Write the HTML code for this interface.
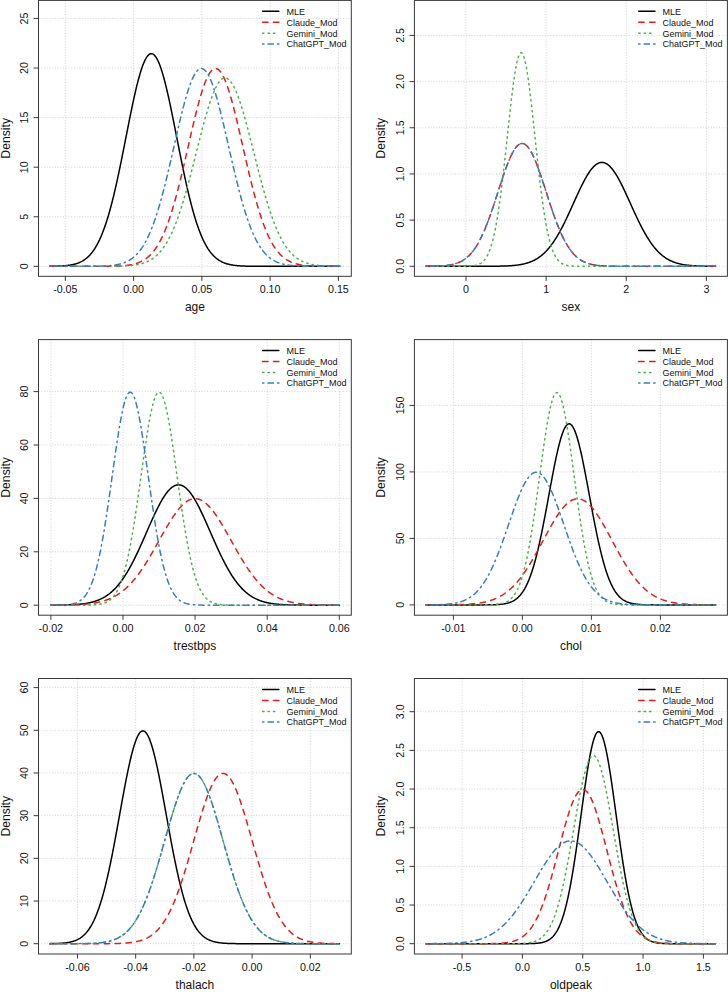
<!DOCTYPE html>
<html><head><meta charset="utf-8"><style>
html,body{margin:0;padding:0;background:#fff;}
svg{display:block;}
text{font-family:"Liberation Sans",sans-serif;fill:#111;}
</style></head><body>
<svg width="728" height="992" viewBox="0 0 728 992">
<rect width="728" height="992" fill="#fff"/>
<path d="M65.34 0.40V276.30M133.60 0.40V276.30M201.86 0.40V276.30M270.12 0.40V276.30M338.38 0.40V276.30M38.50 266.35H351.30M38.50 216.77H351.30M38.50 167.19H351.30M38.50 117.61H351.30M38.50 68.03H351.30M38.50 18.45H351.30" stroke="#c8c8c8" stroke-width="0.8" stroke-dasharray="1.0 1.72" fill="none"/>
<polyline points="49.78,266.28 50.26,266.27 50.74,266.27 51.23,266.26 51.71,266.25 52.20,266.25 52.68,266.24 53.17,266.23 53.65,266.22 54.13,266.21 54.62,266.20 55.10,266.19 55.59,266.18 56.07,266.16 56.55,266.15 57.04,266.14 57.52,266.12 58.01,266.10 58.49,266.08 58.97,266.07 59.46,266.05 59.94,266.02 60.43,266.00 60.91,265.98 61.39,265.95 61.88,265.92 62.36,265.89 62.85,265.86 63.33,265.83 63.82,265.79 64.30,265.75 64.78,265.71 65.27,265.67 65.75,265.63 66.24,265.58 66.72,265.53 67.20,265.47 67.69,265.42 68.17,265.35 68.66,265.29 69.14,265.22 69.62,265.15 70.11,265.08 70.59,265.00 71.08,264.91 71.56,264.82 72.04,264.73 72.53,264.63 73.01,264.53 73.50,264.42 73.98,264.30 74.47,264.18 74.95,264.05 75.43,263.91 75.92,263.77 76.40,263.62 76.89,263.46 77.37,263.30 77.85,263.12 78.34,262.94 78.82,262.75 79.31,262.55 79.79,262.34 80.27,262.12 80.76,261.89 81.24,261.64 81.73,261.39 82.21,261.13 82.69,260.85 83.18,260.56 83.66,260.26 84.15,259.94 84.63,259.61 85.12,259.26 85.60,258.90 86.08,258.53 86.57,258.14 87.05,257.73 87.54,257.31 88.02,256.86 88.50,256.40 88.99,255.92 89.47,255.43 89.96,254.91 90.44,254.37 90.92,253.81 91.41,253.23 91.89,252.63 92.38,252.01 92.86,251.36 93.34,250.69 93.83,250.00 94.31,249.28 94.80,248.54 95.28,247.77 95.77,246.97 96.25,246.15 96.73,245.30 97.22,244.42 97.70,243.52 98.19,242.58 98.67,241.62 99.15,240.63 99.64,239.61 100.12,238.55 100.61,237.47 101.09,236.35 101.57,235.20 102.06,234.02 102.54,232.81 103.03,231.57 103.51,230.29 103.99,228.97 104.48,227.63 104.96,226.25 105.45,224.84 105.93,223.39 106.41,221.91 106.90,220.39 107.38,218.84 107.87,217.25 108.35,215.63 108.84,213.98 109.32,212.29 109.80,210.57 110.29,208.81 110.77,207.02 111.26,205.20 111.74,203.34 112.22,201.45 112.71,199.53 113.19,197.57 113.68,195.59 114.16,193.57 114.64,191.52 115.13,189.45 115.61,187.34 116.10,185.21 116.58,183.05 117.06,180.86 117.55,178.65 118.03,176.41 118.52,174.15 119.00,171.86 119.49,169.56 119.97,167.23 120.45,164.89 120.94,162.53 121.42,160.15 121.91,157.75 122.39,155.35 122.87,152.93 123.36,150.50 123.84,148.06 124.33,145.61 124.81,143.16 125.29,140.71 125.78,138.25 126.26,135.79 126.75,133.33 127.23,130.87 127.71,128.42 128.20,125.98 128.68,123.55 129.17,121.12 129.65,118.71 130.14,116.31 130.62,113.93 131.10,111.57 131.59,109.23 132.07,106.91 132.56,104.61 133.04,102.35 133.52,100.11 134.01,97.90 134.49,95.72 134.98,93.58 135.46,91.47 135.94,89.41 136.43,87.38 136.91,85.40 137.40,83.46 137.88,81.57 138.36,79.73 138.85,77.93 139.33,76.19 139.82,74.50 140.30,72.87 140.79,71.29 141.27,69.78 141.75,68.32 142.24,66.92 142.72,65.59 143.21,64.32 143.69,63.12 144.17,61.99 144.66,60.92 145.14,59.92 145.63,59.00 146.11,58.14 146.59,57.36 147.08,56.65 147.56,56.02 148.05,55.46 148.53,54.97 149.01,54.56 149.50,54.23 149.98,53.97 150.47,53.79 150.95,53.69 151.44,53.67 151.92,53.72 152.40,53.85 152.89,54.06 153.37,54.34 153.86,54.70 154.34,55.14 154.82,55.65 155.31,56.24 155.79,56.90 156.28,57.63 156.76,58.44 157.24,59.32 157.73,60.28 158.21,61.30 158.70,62.39 159.18,63.55 159.66,64.77 160.15,66.07 160.63,67.42 161.12,68.84 161.60,70.32 162.09,71.86 162.57,73.45 163.05,75.11 163.54,76.81 164.02,78.57 164.51,80.39 164.99,82.25 165.47,84.16 165.96,86.11 166.44,88.11 166.93,90.15 167.41,92.23 167.89,94.35 168.38,96.50 168.86,98.69 169.35,100.91 169.83,103.16 170.31,105.44 170.80,107.74 171.28,110.07 171.77,112.42 172.25,114.79 172.73,117.18 173.22,119.58 173.70,122.00 174.19,124.43 174.67,126.86 175.16,129.31 175.64,131.76 176.12,134.22 176.61,136.68 177.09,139.14 177.58,141.59 178.06,144.05 178.54,146.50 179.03,148.94 179.51,151.38 180.00,153.80 180.48,156.22 180.96,158.62 181.45,161.01 181.93,163.38 182.42,165.74 182.90,168.08 183.38,170.39 183.87,172.69 184.35,174.97 184.84,177.22 185.32,179.45 185.81,181.65 186.29,183.83 186.77,185.98 187.26,188.10 187.74,190.20 188.23,192.27 188.71,194.30 189.19,196.31 189.68,198.28 190.16,200.23 190.65,202.14 191.13,204.01 191.61,205.86 192.10,207.67 192.58,209.45 193.07,211.19 193.55,212.90 194.03,214.58 194.52,216.22 195.00,217.83 195.49,219.40 195.97,220.94 196.46,222.45 196.94,223.92 197.42,225.35 197.91,226.75 198.39,228.12 198.88,229.45 199.36,230.75 199.84,232.02 200.33,233.25 200.81,234.45 201.30,235.62 201.78,236.76 202.26,237.86 202.75,238.94 203.23,239.98 203.72,240.99 204.20,241.97 204.68,242.93 205.17,243.85 205.65,244.74 206.14,245.61 206.62,246.45 207.11,247.26 207.59,248.05 208.07,248.81 208.56,249.54 209.04,250.25 209.53,250.94 210.01,251.60 210.49,252.24 210.98,252.85 211.46,253.45 211.95,254.02 212.43,254.57 212.91,255.10 213.40,255.61 213.88,256.10 214.37,256.57 214.85,257.02 215.33,257.46 215.82,257.88 216.30,258.28 216.79,258.67 217.27,259.04 217.76,259.39 218.24,259.73 218.72,260.06 219.21,260.37 219.69,260.67 220.18,260.95 220.66,261.22 221.14,261.48 221.63,261.73 222.11,261.97 222.60,262.20 223.08,262.42 223.56,262.62 224.05,262.82 224.53,263.01 225.02,263.19 225.50,263.36 225.98,263.52 226.47,263.68 226.95,263.82 227.44,263.96 227.92,264.10 228.41,264.22 228.89,264.34 229.37,264.46 229.86,264.56 230.34,264.67 230.83,264.76 231.31,264.86 231.79,264.94 232.28,265.03 232.76,265.10 233.25,265.18 233.73,265.25 234.21,265.31 234.70,265.38 235.18,265.44 235.67,265.49 236.15,265.54 236.63,265.59 237.12,265.64 237.60,265.69 238.09,265.73 238.57,265.77 239.05,265.80 239.54,265.84 240.02,265.87 240.51,265.90 240.99,265.93 241.48,265.96 241.96,265.98 242.44,266.01 242.93,266.03 243.41,266.05 243.90,266.07 244.38,266.09 244.86,266.11 245.35,266.13 245.83,266.14 246.32,266.15 246.80,266.17 247.28,266.18 247.77,266.19 248.25,266.20 248.74,266.21 249.22,266.22 249.70,266.23 250.19,266.24 250.67,266.25 251.16,266.26 251.64,266.26 252.13,266.27 252.61,266.28 253.09,266.28 253.58,266.29 254.06,266.29 254.55,266.29 255.03,266.30 255.51,266.30 256.00,266.31 256.48,266.31 256.97,266.31 257.45,266.32 257.93,266.32 258.42,266.32 258.90,266.32 259.39,266.33 259.87,266.33 260.35,266.33 260.84,266.33 261.32,266.33 261.81,266.33 262.29,266.33 262.78,266.34 263.26,266.34 263.74,266.34 264.23,266.34 264.71,266.34 265.20,266.34 265.68,266.34 266.16,266.34 266.65,266.34 267.13,266.34 267.62,266.34 268.10,266.34 268.58,266.34 269.07,266.35 269.55,266.35 270.04,266.35 270.52,266.35 271.00,266.35 271.49,266.35 271.97,266.35 272.46,266.35 272.94,266.35 273.43,266.35 273.91,266.35 274.39,266.35 274.88,266.35 275.36,266.35 275.85,266.35 276.33,266.35 276.81,266.35 277.30,266.35 277.78,266.35 278.27,266.35 278.75,266.35 279.23,266.35 279.72,266.35 280.20,266.35 280.69,266.35 281.17,266.35 281.65,266.35 282.14,266.35 282.62,266.35 283.11,266.35 283.59,266.35 284.08,266.35 284.56,266.35 285.04,266.35 285.53,266.35 286.01,266.35 286.50,266.35 286.98,266.35 287.46,266.35 287.95,266.35 288.43,266.35 288.92,266.35 289.40,266.35 289.88,266.35 290.37,266.35 290.85,266.35 291.34,266.35 291.82,266.35 292.30,266.35 292.79,266.35 293.27,266.35 293.76,266.35 294.24,266.35 294.73,266.35 295.21,266.35 295.69,266.35 296.18,266.35 296.66,266.35 297.15,266.35 297.63,266.35 298.11,266.35 298.60,266.35 299.08,266.35 299.57,266.35 300.05,266.35 300.53,266.35 301.02,266.35 301.50,266.35 301.99,266.35 302.47,266.35 302.95,266.35 303.44,266.35 303.92,266.35 304.41,266.35 304.89,266.35 305.37,266.35 305.86,266.35 306.34,266.35 306.83,266.35 307.31,266.35 307.80,266.35 308.28,266.35 308.76,266.35 309.25,266.35 309.73,266.35 310.22,266.35 310.70,266.35 311.18,266.35 311.67,266.35 312.15,266.35 312.64,266.35 313.12,266.35 313.60,266.35 314.09,266.35 314.57,266.35 315.06,266.35 315.54,266.35 316.02,266.35 316.51,266.35 316.99,266.35 317.48,266.35 317.96,266.35 318.45,266.35 318.93,266.35 319.41,266.35 319.90,266.35 320.38,266.35 320.87,266.35 321.35,266.35 321.83,266.35 322.32,266.35 322.80,266.35 323.29,266.35 323.77,266.35 324.25,266.35 324.74,266.35 325.22,266.35 325.71,266.35 326.19,266.35 326.67,266.35 327.16,266.35 327.64,266.35 328.13,266.35 328.61,266.35 329.10,266.35 329.58,266.35 330.06,266.35 330.55,266.35 331.03,266.35 331.52,266.35 332.00,266.35 332.48,266.35 332.97,266.35 333.45,266.35 333.94,266.35 334.42,266.35 334.90,266.35 335.39,266.35 335.87,266.35 336.36,266.35 336.84,266.35 337.32,266.35 337.81,266.35 338.29,266.35 338.78,266.35 339.26,266.35 339.75,266.35" fill="none" stroke="#000000" stroke-width="1.5" stroke-linecap="round" stroke-linejoin="round"/>
<polyline points="49.78,266.35 50.26,266.35 50.74,266.35 51.23,266.35 51.71,266.35 52.20,266.35 52.68,266.35 53.17,266.35 53.65,266.35 54.13,266.35 54.62,266.35 55.10,266.35 55.59,266.35 56.07,266.35 56.55,266.35 57.04,266.35 57.52,266.35 58.01,266.35 58.49,266.35 58.97,266.35 59.46,266.35 59.94,266.35 60.43,266.35 60.91,266.35 61.39,266.35 61.88,266.35 62.36,266.35 62.85,266.35 63.33,266.35 63.82,266.35 64.30,266.35 64.78,266.35 65.27,266.35 65.75,266.35 66.24,266.35 66.72,266.35 67.20,266.35 67.69,266.35 68.17,266.35 68.66,266.35 69.14,266.35 69.62,266.35 70.11,266.35 70.59,266.35 71.08,266.35 71.56,266.35 72.04,266.35 72.53,266.35 73.01,266.35 73.50,266.35 73.98,266.35 74.47,266.35 74.95,266.35 75.43,266.35 75.92,266.35 76.40,266.35 76.89,266.35 77.37,266.35 77.85,266.35 78.34,266.35 78.82,266.35 79.31,266.35 79.79,266.35 80.27,266.35 80.76,266.35 81.24,266.35 81.73,266.35 82.21,266.35 82.69,266.35 83.18,266.35 83.66,266.35 84.15,266.35 84.63,266.35 85.12,266.35 85.60,266.35 86.08,266.35 86.57,266.35 87.05,266.35 87.54,266.35 88.02,266.35 88.50,266.35 88.99,266.35 89.47,266.35 89.96,266.34 90.44,266.34 90.92,266.34 91.41,266.34 91.89,266.34 92.38,266.34 92.86,266.34 93.34,266.34 93.83,266.34 94.31,266.34 94.80,266.34 95.28,266.34 95.77,266.34 96.25,266.34 96.73,266.33 97.22,266.33 97.70,266.33 98.19,266.33 98.67,266.33 99.15,266.33 99.64,266.33 100.12,266.32 100.61,266.32 101.09,266.32 101.57,266.32 102.06,266.31 102.54,266.31 103.03,266.31 103.51,266.31 103.99,266.30 104.48,266.30 104.96,266.30 105.45,266.29 105.93,266.29 106.41,266.28 106.90,266.28 107.38,266.27 107.87,266.27 108.35,266.26 108.84,266.25 109.32,266.25 109.80,266.24 110.29,266.23 110.77,266.22 111.26,266.22 111.74,266.21 112.22,266.20 112.71,266.18 113.19,266.17 113.68,266.16 114.16,266.15 114.64,266.13 115.13,266.12 115.61,266.10 116.10,266.09 116.58,266.07 117.06,266.05 117.55,266.03 118.03,266.01 118.52,265.99 119.00,265.97 119.49,265.94 119.97,265.92 120.45,265.89 120.94,265.86 121.42,265.83 121.91,265.80 122.39,265.76 122.87,265.72 123.36,265.69 123.84,265.64 124.33,265.60 124.81,265.56 125.29,265.51 125.78,265.46 126.26,265.40 126.75,265.35 127.23,265.29 127.71,265.23 128.20,265.16 128.68,265.09 129.17,265.02 129.65,264.94 130.14,264.86 130.62,264.78 131.10,264.69 131.59,264.59 132.07,264.50 132.56,264.39 133.04,264.28 133.52,264.17 134.01,264.05 134.49,263.93 134.98,263.80 135.46,263.66 135.94,263.52 136.43,263.37 136.91,263.21 137.40,263.05 137.88,262.88 138.36,262.70 138.85,262.51 139.33,262.31 139.82,262.11 140.30,261.90 140.79,261.68 141.27,261.44 141.75,261.20 142.24,260.95 142.72,260.69 143.21,260.42 143.69,260.13 144.17,259.84 144.66,259.53 145.14,259.21 145.63,258.87 146.11,258.53 146.59,258.17 147.08,257.80 147.56,257.41 148.05,257.01 148.53,256.59 149.01,256.16 149.50,255.71 149.98,255.25 150.47,254.77 150.95,254.27 151.44,253.75 151.92,253.22 152.40,252.67 152.89,252.10 153.37,251.51 153.86,250.90 154.34,250.27 154.82,249.62 155.31,248.95 155.79,248.26 156.28,247.55 156.76,246.82 157.24,246.06 157.73,245.28 158.21,244.48 158.70,243.65 159.18,242.80 159.66,241.93 160.15,241.03 160.63,240.11 161.12,239.16 161.60,238.19 162.09,237.19 162.57,236.17 163.05,235.11 163.54,234.04 164.02,232.93 164.51,231.80 164.99,230.64 165.47,229.46 165.96,228.25 166.44,227.01 166.93,225.74 167.41,224.44 167.89,223.12 168.38,221.77 168.86,220.39 169.35,218.99 169.83,217.55 170.31,216.09 170.80,214.60 171.28,213.09 171.77,211.54 172.25,209.97 172.73,208.38 173.22,206.75 173.70,205.10 174.19,203.43 174.67,201.73 175.16,200.00 175.64,198.25 176.12,196.48 176.61,194.68 177.09,192.85 177.58,191.01 178.06,189.14 178.54,187.25 179.03,185.35 179.51,183.42 180.00,181.47 180.48,179.50 180.96,177.52 181.45,175.52 181.93,173.50 182.42,171.47 182.90,169.42 183.38,167.36 183.87,165.29 184.35,163.21 184.84,161.12 185.32,159.02 185.81,156.91 186.29,154.80 186.77,152.68 187.26,150.56 187.74,148.43 188.23,146.30 188.71,144.18 189.19,142.05 189.68,139.93 190.16,137.81 190.65,135.70 191.13,133.59 191.61,131.49 192.10,129.41 192.58,127.33 193.07,125.27 193.55,123.22 194.03,121.19 194.52,119.17 195.00,117.17 195.49,115.20 195.97,113.24 196.46,111.31 196.94,109.41 197.42,107.53 197.91,105.68 198.39,103.85 198.88,102.06 199.36,100.31 199.84,98.58 200.33,96.89 200.81,95.24 201.30,93.63 201.78,92.05 202.26,90.52 202.75,89.03 203.23,87.58 203.72,86.18 204.20,84.82 204.68,83.51 205.17,82.25 205.65,81.04 206.14,79.88 206.62,78.77 207.11,77.71 207.59,76.71 208.07,75.76 208.56,74.87 209.04,74.03 209.53,73.25 210.01,72.53 210.49,71.87 210.98,71.26 211.46,70.72 211.95,70.23 212.43,69.81 212.91,69.45 213.40,69.15 213.88,68.91 214.37,68.73 214.85,68.61 215.33,68.56 215.82,68.57 216.30,68.64 216.79,68.77 217.27,68.96 217.76,69.22 218.24,69.54 218.72,69.92 219.21,70.36 219.69,70.86 220.18,71.42 220.66,72.04 221.14,72.72 221.63,73.45 222.11,74.25 222.60,75.10 223.08,76.01 223.56,76.97 224.05,77.99 224.53,79.06 225.02,80.18 225.50,81.36 225.98,82.58 226.47,83.86 226.95,85.18 227.44,86.55 227.92,87.96 228.41,89.42 228.89,90.92 229.37,92.47 229.86,94.05 230.34,95.68 230.83,97.34 231.31,99.04 231.79,100.77 232.28,102.54 232.76,104.34 233.25,106.17 233.73,108.03 234.21,109.91 234.70,111.83 235.18,113.76 235.67,115.72 236.15,117.71 236.63,119.71 237.12,121.73 237.60,123.76 238.09,125.82 238.57,127.88 239.05,129.96 239.54,132.05 240.02,134.15 240.51,136.26 240.99,138.38 241.48,140.50 241.96,142.62 242.44,144.74 242.93,146.87 243.41,149.00 243.90,151.12 244.38,153.25 244.86,155.36 245.35,157.48 245.83,159.58 246.32,161.68 246.80,163.77 247.28,165.85 247.77,167.91 248.25,169.97 248.74,172.01 249.22,174.04 249.70,176.05 250.19,178.05 250.67,180.03 251.16,181.99 251.64,183.93 252.13,185.86 252.61,187.76 253.09,189.64 253.58,191.50 254.06,193.34 254.55,195.16 255.03,196.95 255.51,198.72 256.00,200.47 256.48,202.19 256.97,203.88 257.45,205.55 257.93,207.19 258.42,208.81 258.90,210.40 259.39,211.96 259.87,213.50 260.35,215.00 260.84,216.49 261.32,217.94 261.81,219.37 262.29,220.76 262.78,222.14 263.26,223.48 263.74,224.79 264.23,226.08 264.71,227.34 265.20,228.57 265.68,229.78 266.16,230.96 266.65,232.11 267.13,233.23 267.62,234.33 268.10,235.40 268.58,236.44 269.07,237.46 269.55,238.45 270.04,239.42 270.52,240.36 271.00,241.27 271.49,242.17 271.97,243.03 272.46,243.88 272.94,244.69 273.43,245.49 273.91,246.26 274.39,247.01 274.88,247.74 275.36,248.45 275.85,249.13 276.33,249.80 276.81,250.44 277.30,251.06 277.78,251.67 278.27,252.25 278.75,252.82 279.23,253.36 279.72,253.89 280.20,254.40 280.69,254.90 281.17,255.37 281.65,255.83 282.14,256.28 282.62,256.70 283.11,257.12 283.59,257.51 284.08,257.90 284.56,258.27 285.04,258.62 285.53,258.97 286.01,259.29 286.50,259.61 286.98,259.92 287.46,260.21 287.95,260.49 288.43,260.76 288.92,261.02 289.40,261.27 289.88,261.51 290.37,261.74 290.85,261.96 291.34,262.17 291.82,262.37 292.30,262.56 292.79,262.75 293.27,262.92 293.76,263.09 294.24,263.25 294.73,263.41 295.21,263.56 295.69,263.70 296.18,263.83 296.66,263.96 297.15,264.08 297.63,264.20 298.11,264.31 298.60,264.42 299.08,264.52 299.57,264.62 300.05,264.71 300.53,264.80 301.02,264.88 301.50,264.96 301.99,265.04 302.47,265.11 302.95,265.18 303.44,265.24 303.92,265.30 304.41,265.36 304.89,265.42 305.37,265.47 305.86,265.52 306.34,265.57 306.83,265.61 307.31,265.66 307.80,265.70 308.28,265.73 308.76,265.77 309.25,265.80 309.73,265.84 310.22,265.87 310.70,265.90 311.18,265.92 311.67,265.95 312.15,265.97 312.64,266.00 313.12,266.02 313.60,266.04 314.09,266.06 314.57,266.08 315.06,266.09 315.54,266.11 316.02,266.12 316.51,266.14 316.99,266.15 317.48,266.16 317.96,266.18 318.45,266.19 318.93,266.20 319.41,266.21 319.90,266.22 320.38,266.23 320.87,266.23 321.35,266.24 321.83,266.25 322.32,266.26 322.80,266.26 323.29,266.27 323.77,266.27 324.25,266.28 324.74,266.28 325.22,266.29 325.71,266.29 326.19,266.30 326.67,266.30 327.16,266.30 327.64,266.31 328.13,266.31 328.61,266.31 329.10,266.32 329.58,266.32 330.06,266.32 330.55,266.32 331.03,266.32 331.52,266.33 332.00,266.33 332.48,266.33 332.97,266.33 333.45,266.33 333.94,266.33 334.42,266.33 334.90,266.34 335.39,266.34 335.87,266.34 336.36,266.34 336.84,266.34 337.32,266.34 337.81,266.34 338.29,266.34 338.78,266.34 339.26,266.34 339.75,266.34" fill="none" stroke="#E41A1C" stroke-width="1.5" stroke-linecap="round" stroke-linejoin="round" stroke-dasharray="5.44 5.44"/>
<polyline points="49.78,266.35 50.26,266.35 50.74,266.35 51.23,266.35 51.71,266.35 52.20,266.35 52.68,266.35 53.17,266.35 53.65,266.35 54.13,266.35 54.62,266.35 55.10,266.35 55.59,266.35 56.07,266.35 56.55,266.35 57.04,266.35 57.52,266.35 58.01,266.35 58.49,266.35 58.97,266.35 59.46,266.35 59.94,266.35 60.43,266.35 60.91,266.35 61.39,266.35 61.88,266.35 62.36,266.35 62.85,266.35 63.33,266.35 63.82,266.35 64.30,266.35 64.78,266.35 65.27,266.35 65.75,266.35 66.24,266.35 66.72,266.35 67.20,266.35 67.69,266.35 68.17,266.35 68.66,266.35 69.14,266.35 69.62,266.35 70.11,266.35 70.59,266.35 71.08,266.35 71.56,266.35 72.04,266.35 72.53,266.35 73.01,266.35 73.50,266.35 73.98,266.35 74.47,266.35 74.95,266.35 75.43,266.35 75.92,266.35 76.40,266.35 76.89,266.35 77.37,266.35 77.85,266.35 78.34,266.35 78.82,266.35 79.31,266.35 79.79,266.35 80.27,266.35 80.76,266.35 81.24,266.35 81.73,266.35 82.21,266.35 82.69,266.35 83.18,266.35 83.66,266.35 84.15,266.35 84.63,266.35 85.12,266.35 85.60,266.35 86.08,266.35 86.57,266.35 87.05,266.35 87.54,266.35 88.02,266.35 88.50,266.35 88.99,266.35 89.47,266.35 89.96,266.35 90.44,266.35 90.92,266.35 91.41,266.35 91.89,266.35 92.38,266.35 92.86,266.35 93.34,266.35 93.83,266.34 94.31,266.34 94.80,266.34 95.28,266.34 95.77,266.34 96.25,266.34 96.73,266.34 97.22,266.34 97.70,266.34 98.19,266.34 98.67,266.34 99.15,266.34 99.64,266.34 100.12,266.34 100.61,266.33 101.09,266.33 101.57,266.33 102.06,266.33 102.54,266.33 103.03,266.33 103.51,266.33 103.99,266.32 104.48,266.32 104.96,266.32 105.45,266.32 105.93,266.32 106.41,266.31 106.90,266.31 107.38,266.31 107.87,266.31 108.35,266.30 108.84,266.30 109.32,266.30 109.80,266.29 110.29,266.29 110.77,266.28 111.26,266.28 111.74,266.27 112.22,266.27 112.71,266.26 113.19,266.26 113.68,266.25 114.16,266.24 114.64,266.24 115.13,266.23 115.61,266.22 116.10,266.21 116.58,266.20 117.06,266.19 117.55,266.18 118.03,266.17 118.52,266.16 119.00,266.15 119.49,266.14 119.97,266.12 120.45,266.11 120.94,266.09 121.42,266.08 121.91,266.06 122.39,266.04 122.87,266.02 123.36,266.00 123.84,265.98 124.33,265.96 124.81,265.93 125.29,265.91 125.78,265.88 126.26,265.85 126.75,265.82 127.23,265.79 127.71,265.76 128.20,265.72 128.68,265.69 129.17,265.65 129.65,265.61 130.14,265.57 130.62,265.52 131.10,265.47 131.59,265.42 132.07,265.37 132.56,265.32 133.04,265.26 133.52,265.20 134.01,265.14 134.49,265.07 134.98,265.00 135.46,264.93 135.94,264.85 136.43,264.77 136.91,264.68 137.40,264.59 137.88,264.50 138.36,264.40 138.85,264.30 139.33,264.20 139.82,264.09 140.30,263.97 140.79,263.85 141.27,263.72 141.75,263.59 142.24,263.45 142.72,263.31 143.21,263.15 143.69,263.00 144.17,262.83 144.66,262.66 145.14,262.48 145.63,262.30 146.11,262.10 146.59,261.90 147.08,261.69 147.56,261.48 148.05,261.25 148.53,261.01 149.01,260.77 149.50,260.51 149.98,260.25 150.47,259.97 150.95,259.69 151.44,259.39 151.92,259.08 152.40,258.76 152.89,258.43 153.37,258.09 153.86,257.74 154.34,257.37 154.82,256.99 155.31,256.59 155.79,256.19 156.28,255.76 156.76,255.33 157.24,254.88 157.73,254.41 158.21,253.93 158.70,253.43 159.18,252.92 159.66,252.39 160.15,251.84 160.63,251.28 161.12,250.70 161.60,250.10 162.09,249.48 162.57,248.85 163.05,248.20 163.54,247.52 164.02,246.83 164.51,246.12 164.99,245.39 165.47,244.64 165.96,243.86 166.44,243.07 166.93,242.26 167.41,241.42 167.89,240.56 168.38,239.68 168.86,238.78 169.35,237.86 169.83,236.91 170.31,235.94 170.80,234.95 171.28,233.94 171.77,232.90 172.25,231.84 172.73,230.75 173.22,229.64 173.70,228.51 174.19,227.35 174.67,226.17 175.16,224.97 175.64,223.74 176.12,222.48 176.61,221.21 177.09,219.91 177.58,218.58 178.06,217.24 178.54,215.86 179.03,214.47 179.51,213.05 180.00,211.61 180.48,210.14 180.96,208.66 181.45,207.15 181.93,205.61 182.42,204.06 182.90,202.49 183.38,200.89 183.87,199.27 184.35,197.63 184.84,195.98 185.32,194.30 185.81,192.60 186.29,190.89 186.77,189.16 187.26,187.41 187.74,185.64 188.23,183.86 188.71,182.06 189.19,180.25 189.68,178.42 190.16,176.58 190.65,174.73 191.13,172.87 191.61,170.99 192.10,169.11 192.58,167.22 193.07,165.32 193.55,163.41 194.03,161.50 194.52,159.58 195.00,157.65 195.49,155.73 195.97,153.80 196.46,151.87 196.94,149.94 197.42,148.01 197.91,146.09 198.39,144.17 198.88,142.25 199.36,140.34 199.84,138.43 200.33,136.54 200.81,134.65 201.30,132.77 201.78,130.91 202.26,129.06 202.75,127.22 203.23,125.40 203.72,123.60 204.20,121.81 204.68,120.05 205.17,118.30 205.65,116.58 206.14,114.88 206.62,113.20 207.11,111.55 207.59,109.92 208.07,108.33 208.56,106.76 209.04,105.22 209.53,103.72 210.01,102.25 210.49,100.81 210.98,99.40 211.46,98.04 211.95,96.71 212.43,95.42 212.91,94.16 213.40,92.95 213.88,91.78 214.37,90.65 214.85,89.57 215.33,88.52 215.82,87.53 216.30,86.58 216.79,85.67 217.27,84.81 217.76,84.00 218.24,83.24 218.72,82.53 219.21,81.87 219.69,81.26 220.18,80.70 220.66,80.19 221.14,79.73 221.63,79.32 222.11,78.97 222.60,78.67 223.08,78.43 223.56,78.23 224.05,78.09 224.53,78.01 225.02,77.97 225.50,77.99 225.98,78.07 226.47,78.20 226.95,78.38 227.44,78.61 227.92,78.90 228.41,79.24 228.89,79.64 229.37,80.08 229.86,80.58 230.34,81.13 230.83,81.73 231.31,82.38 231.79,83.09 232.28,83.84 232.76,84.64 233.25,85.48 233.73,86.38 234.21,87.32 234.70,88.31 235.18,89.34 235.67,90.41 236.15,91.53 236.63,92.70 237.12,93.90 237.60,95.14 238.09,96.43 238.57,97.75 239.05,99.11 239.54,100.50 240.02,101.93 240.51,103.40 240.99,104.90 241.48,106.43 241.96,107.99 242.44,109.58 242.93,111.20 243.41,112.84 243.90,114.51 244.38,116.21 244.86,117.93 245.35,119.67 245.83,121.43 246.32,123.21 246.80,125.01 247.28,126.83 247.77,128.66 248.25,130.51 248.74,132.37 249.22,134.25 249.70,136.13 250.19,138.03 250.67,139.93 251.16,141.84 251.64,143.75 252.13,145.68 252.61,147.60 253.09,149.53 253.58,151.46 254.06,153.39 254.55,155.31 255.03,157.24 255.51,159.16 256.00,161.08 256.48,163.00 256.97,164.91 257.45,166.81 257.93,168.70 258.42,170.59 258.90,172.47 259.39,174.33 259.87,176.19 260.35,178.03 260.84,179.86 261.32,181.67 261.81,183.47 262.29,185.26 262.78,187.03 263.26,188.78 263.74,190.52 264.23,192.24 264.71,193.94 265.20,195.62 265.68,197.28 266.16,198.92 266.65,200.54 267.13,202.14 267.62,203.72 268.10,205.28 268.58,206.82 269.07,208.33 269.55,209.83 270.04,211.30 270.52,212.74 271.00,214.17 271.49,215.57 271.97,216.94 272.46,218.30 272.94,219.63 273.43,220.93 273.91,222.21 274.39,223.47 274.88,224.70 275.36,225.91 275.85,227.10 276.33,228.26 276.81,229.40 277.30,230.51 277.78,231.60 278.27,232.67 278.75,233.71 279.23,234.73 279.72,235.73 280.20,236.71 280.69,237.66 281.17,238.59 281.65,239.49 282.14,240.38 282.62,241.24 283.11,242.08 283.59,242.90 284.08,243.70 284.56,244.47 285.04,245.23 285.53,245.96 286.01,246.68 286.50,247.38 286.98,248.05 287.46,248.71 287.95,249.35 288.43,249.97 288.92,250.57 289.40,251.16 289.88,251.72 290.37,252.27 290.85,252.81 291.34,253.32 291.82,253.82 292.30,254.31 292.79,254.78 293.27,255.23 293.76,255.67 294.24,256.10 294.73,256.51 295.21,256.90 295.69,257.29 296.18,257.66 296.66,258.02 297.15,258.36 297.63,258.69 298.11,259.02 298.60,259.33 299.08,259.62 299.57,259.91 300.05,260.19 300.53,260.46 301.02,260.71 301.50,260.96 301.99,261.20 302.47,261.43 302.95,261.65 303.44,261.86 303.92,262.06 304.41,262.26 304.89,262.44 305.37,262.62 305.86,262.80 306.34,262.96 306.83,263.12 307.31,263.27 307.80,263.42 308.28,263.56 308.76,263.69 309.25,263.82 309.73,263.94 310.22,264.06 310.70,264.17 311.18,264.28 311.67,264.38 312.15,264.48 312.64,264.58 313.12,264.66 313.60,264.75 314.09,264.83 314.57,264.91 315.06,264.98 315.54,265.05 316.02,265.12 316.51,265.19 316.99,265.25 317.48,265.31 317.96,265.36 318.45,265.41 318.93,265.46 319.41,265.51 319.90,265.56 320.38,265.60 320.87,265.64 321.35,265.68 321.83,265.72 322.32,265.75 322.80,265.79 323.29,265.82 323.77,265.85 324.25,265.88 324.74,265.90 325.22,265.93 325.71,265.95 326.19,265.98 326.67,266.00 327.16,266.02 327.64,266.04 328.13,266.06 328.61,266.07 329.10,266.09 329.58,266.10 330.06,266.12 330.55,266.13 331.03,266.15 331.52,266.16 332.00,266.17 332.48,266.18 332.97,266.19 333.45,266.20 333.94,266.21 334.42,266.22 334.90,266.23 335.39,266.24 335.87,266.24 336.36,266.25 336.84,266.26 337.32,266.26 337.81,266.27 338.29,266.27 338.78,266.28 339.26,266.28 339.75,266.29" fill="none" stroke="#4DAF4A" stroke-width="1.5" stroke-linecap="round" stroke-linejoin="round" stroke-dasharray="1.36 4.08"/>
<polyline points="49.78,266.35 50.26,266.35 50.74,266.35 51.23,266.35 51.71,266.35 52.20,266.35 52.68,266.35 53.17,266.35 53.65,266.35 54.13,266.35 54.62,266.35 55.10,266.35 55.59,266.35 56.07,266.35 56.55,266.35 57.04,266.35 57.52,266.35 58.01,266.35 58.49,266.35 58.97,266.35 59.46,266.35 59.94,266.35 60.43,266.35 60.91,266.35 61.39,266.35 61.88,266.35 62.36,266.35 62.85,266.35 63.33,266.35 63.82,266.35 64.30,266.35 64.78,266.35 65.27,266.35 65.75,266.35 66.24,266.35 66.72,266.35 67.20,266.35 67.69,266.35 68.17,266.35 68.66,266.35 69.14,266.35 69.62,266.35 70.11,266.35 70.59,266.35 71.08,266.35 71.56,266.35 72.04,266.35 72.53,266.35 73.01,266.35 73.50,266.35 73.98,266.35 74.47,266.35 74.95,266.35 75.43,266.35 75.92,266.34 76.40,266.34 76.89,266.34 77.37,266.34 77.85,266.34 78.34,266.34 78.82,266.34 79.31,266.34 79.79,266.34 80.27,266.34 80.76,266.34 81.24,266.34 81.73,266.34 82.21,266.34 82.69,266.33 83.18,266.33 83.66,266.33 84.15,266.33 84.63,266.33 85.12,266.33 85.60,266.33 86.08,266.32 86.57,266.32 87.05,266.32 87.54,266.32 88.02,266.31 88.50,266.31 88.99,266.31 89.47,266.31 89.96,266.30 90.44,266.30 90.92,266.29 91.41,266.29 91.89,266.29 92.38,266.28 92.86,266.28 93.34,266.27 93.83,266.26 94.31,266.26 94.80,266.25 95.28,266.24 95.77,266.24 96.25,266.23 96.73,266.22 97.22,266.21 97.70,266.20 98.19,266.19 98.67,266.18 99.15,266.17 99.64,266.16 100.12,266.14 100.61,266.13 101.09,266.12 101.57,266.10 102.06,266.08 102.54,266.07 103.03,266.05 103.51,266.03 103.99,266.01 104.48,265.98 104.96,265.96 105.45,265.93 105.93,265.91 106.41,265.88 106.90,265.85 107.38,265.82 107.87,265.78 108.35,265.75 108.84,265.71 109.32,265.67 109.80,265.63 110.29,265.59 110.77,265.54 111.26,265.49 111.74,265.44 112.22,265.39 112.71,265.33 113.19,265.27 113.68,265.20 114.16,265.14 114.64,265.07 115.13,264.99 115.61,264.91 116.10,264.83 116.58,264.75 117.06,264.66 117.55,264.56 118.03,264.46 118.52,264.36 119.00,264.25 119.49,264.13 119.97,264.01 120.45,263.89 120.94,263.75 121.42,263.61 121.91,263.47 122.39,263.32 122.87,263.16 123.36,262.99 123.84,262.82 124.33,262.64 124.81,262.45 125.29,262.25 125.78,262.04 126.26,261.83 126.75,261.60 127.23,261.37 127.71,261.12 128.20,260.87 128.68,260.60 129.17,260.32 129.65,260.04 130.14,259.74 130.62,259.42 131.10,259.10 131.59,258.76 132.07,258.41 132.56,258.05 133.04,257.67 133.52,257.28 134.01,256.87 134.49,256.45 134.98,256.01 135.46,255.56 135.94,255.09 136.43,254.60 136.91,254.10 137.40,253.58 137.88,253.04 138.36,252.48 138.85,251.91 139.33,251.31 139.82,250.69 140.30,250.06 140.79,249.40 141.27,248.73 141.75,248.03 142.24,247.31 142.72,246.57 143.21,245.80 143.69,245.02 144.17,244.21 144.66,243.38 145.14,242.52 145.63,241.64 146.11,240.73 146.59,239.80 147.08,238.84 147.56,237.86 148.05,236.85 148.53,235.82 149.01,234.76 149.50,233.68 149.98,232.56 150.47,231.42 150.95,230.26 151.44,229.06 151.92,227.84 152.40,226.59 152.89,225.32 153.37,224.01 153.86,222.68 154.34,221.32 154.82,219.93 155.31,218.52 155.79,217.08 156.28,215.61 156.76,214.11 157.24,212.58 157.73,211.03 158.21,209.45 158.70,207.85 159.18,206.21 159.66,204.55 160.15,202.87 160.63,201.16 161.12,199.43 161.60,197.67 162.09,195.88 162.57,194.08 163.05,192.25 163.54,190.40 164.02,188.52 164.51,186.63 164.99,184.71 165.47,182.78 165.96,180.82 166.44,178.85 166.93,176.86 167.41,174.85 167.89,172.83 168.38,170.80 168.86,168.74 169.35,166.68 169.83,164.61 170.31,162.52 170.80,160.43 171.28,158.33 171.77,156.22 172.25,154.10 172.73,151.98 173.22,149.85 173.70,147.73 174.19,145.60 174.67,143.48 175.16,141.35 175.64,139.23 176.12,137.11 176.61,135.00 177.09,132.90 177.58,130.80 178.06,128.72 178.54,126.65 179.03,124.59 179.51,122.55 180.00,120.52 180.48,118.51 180.96,116.52 181.45,114.55 181.93,112.60 182.42,110.68 182.90,108.78 183.38,106.91 183.87,105.07 184.35,103.26 184.84,101.48 185.32,99.73 185.81,98.02 186.29,96.34 186.77,94.70 187.26,93.10 187.74,91.54 188.23,90.02 188.71,88.54 189.19,87.11 189.68,85.72 190.16,84.38 190.65,83.09 191.13,81.84 191.61,80.65 192.10,79.51 192.58,78.41 193.07,77.37 193.55,76.39 194.03,75.46 194.52,74.59 195.00,73.77 195.49,73.01 195.97,72.31 196.46,71.66 196.94,71.08 197.42,70.55 197.91,70.09 198.39,69.68 198.88,69.34 199.36,69.06 199.84,68.84 200.33,68.68 200.81,68.59 201.30,68.55 201.78,68.58 202.26,68.67 202.75,68.83 203.23,69.04 203.72,69.32 204.20,69.66 204.68,70.06 205.17,70.52 205.65,71.04 206.14,71.62 206.62,72.26 207.11,72.95 207.59,73.71 208.07,74.52 208.56,75.39 209.04,76.32 209.53,77.30 210.01,78.34 210.49,79.42 210.98,80.56 211.46,81.75 211.95,83.00 212.43,84.29 212.91,85.62 213.40,87.01 213.88,88.44 214.37,89.91 214.85,91.43 215.33,92.99 215.82,94.58 216.30,96.22 216.79,97.90 217.27,99.61 217.76,101.35 218.24,103.13 218.72,104.94 219.21,106.78 219.69,108.65 220.18,110.54 220.66,112.46 221.14,114.41 221.63,116.37 222.11,118.36 222.60,120.37 223.08,122.40 223.56,124.44 224.05,126.50 224.53,128.57 225.02,130.65 225.50,132.74 225.98,134.85 226.47,136.96 226.95,139.07 227.44,141.19 227.92,143.32 228.41,145.45 228.89,147.57 229.37,149.70 229.86,151.82 230.34,153.94 230.83,156.06 231.31,158.17 231.79,160.27 232.28,162.37 232.76,164.45 233.25,166.53 233.73,168.59 234.21,170.64 234.70,172.68 235.18,174.71 235.67,176.71 236.15,178.70 236.63,180.68 237.12,182.63 237.60,184.57 238.09,186.49 238.57,188.38 239.05,190.26 239.54,192.11 240.02,193.94 240.51,195.75 240.99,197.54 241.48,199.30 241.96,201.03 242.44,202.75 242.93,204.43 243.41,206.09 243.90,207.73 244.38,209.33 244.86,210.92 245.35,212.47 245.83,214.00 246.32,215.50 246.80,216.97 247.28,218.41 247.77,219.83 248.25,221.22 248.74,222.58 249.22,223.92 249.70,225.22 250.19,226.50 250.67,227.75 251.16,228.97 251.64,230.17 252.13,231.34 252.61,232.48 253.09,233.60 253.58,234.68 254.06,235.74 254.55,236.78 255.03,237.79 255.51,238.77 256.00,239.73 256.48,240.66 256.97,241.57 257.45,242.45 257.93,243.31 258.42,244.15 258.90,244.96 259.39,245.75 259.87,246.51 260.35,247.26 260.84,247.98 261.32,248.68 261.81,249.35 262.29,250.01 262.78,250.65 263.26,251.27 263.74,251.86 264.23,252.44 264.71,253.00 265.20,253.54 265.68,254.06 266.16,254.57 266.65,255.05 267.13,255.53 267.62,255.98 268.10,256.42 268.58,256.84 269.07,257.25 269.55,257.64 270.04,258.02 270.52,258.39 271.00,258.74 271.49,259.08 271.97,259.40 272.46,259.71 272.94,260.01 273.43,260.30 273.91,260.58 274.39,260.85 274.88,261.10 275.36,261.35 275.85,261.58 276.33,261.81 276.81,262.03 277.30,262.23 277.78,262.43 278.27,262.62 278.75,262.80 279.23,262.98 279.72,263.15 280.20,263.31 280.69,263.46 281.17,263.60 281.65,263.74 282.14,263.88 282.62,264.00 283.11,264.12 283.59,264.24 284.08,264.35 284.56,264.45 285.04,264.55 285.53,264.65 286.01,264.74 286.50,264.83 286.98,264.91 287.46,264.99 287.95,265.06 288.43,265.13 288.92,265.20 289.40,265.26 289.88,265.32 290.37,265.38 290.85,265.44 291.34,265.49 291.82,265.54 292.30,265.58 292.79,265.63 293.27,265.67 293.76,265.71 294.24,265.75 294.73,265.78 295.21,265.82 295.69,265.85 296.18,265.88 296.66,265.91 297.15,265.93 297.63,265.96 298.11,265.98 298.60,266.00 299.08,266.02 299.57,266.04 300.05,266.06 300.53,266.08 301.02,266.10 301.50,266.11 301.99,266.13 302.47,266.14 302.95,266.16 303.44,266.17 303.92,266.18 304.41,266.19 304.89,266.20 305.37,266.21 305.86,266.22 306.34,266.23 306.83,266.24 307.31,266.24 307.80,266.25 308.28,266.26 308.76,266.26 309.25,266.27 309.73,266.28 310.22,266.28 310.70,266.29 311.18,266.29 311.67,266.29 312.15,266.30 312.64,266.30 313.12,266.30 313.60,266.31 314.09,266.31 314.57,266.31 315.06,266.32 315.54,266.32 316.02,266.32 316.51,266.32 316.99,266.32 317.48,266.33 317.96,266.33 318.45,266.33 318.93,266.33 319.41,266.33 319.90,266.33 320.38,266.34 320.87,266.34 321.35,266.34 321.83,266.34 322.32,266.34 322.80,266.34 323.29,266.34 323.77,266.34 324.25,266.34 324.74,266.34 325.22,266.34 325.71,266.34 326.19,266.34 326.67,266.34 327.16,266.35 327.64,266.35 328.13,266.35 328.61,266.35 329.10,266.35 329.58,266.35 330.06,266.35 330.55,266.35 331.03,266.35 331.52,266.35 332.00,266.35 332.48,266.35 332.97,266.35 333.45,266.35 333.94,266.35 334.42,266.35 334.90,266.35 335.39,266.35 335.87,266.35 336.36,266.35 336.84,266.35 337.32,266.35 337.81,266.35 338.29,266.35 338.78,266.35 339.26,266.35 339.75,266.35" fill="none" stroke="#377EB8" stroke-width="1.5" stroke-linecap="round" stroke-linejoin="round" stroke-dasharray="1.36 4.08 5.44 4.08"/>
<rect x="38.5" y="0.4" width="312.80" height="275.90" fill="none" stroke="#383838" stroke-width="1"/>
<path d="M65.34 276.30v4.6M133.60 276.30v4.6M201.86 276.30v4.6M270.12 276.30v4.6M338.38 276.30v4.6M38.50 266.35h-4.9M38.50 216.77h-4.9M38.50 167.19h-4.9M38.50 117.61h-4.9M38.50 68.03h-4.9M38.50 18.45h-4.9" stroke="#383838" stroke-width="1" fill="none"/>
<text x="65.34" y="292.90" text-anchor="middle" font-size="10.7">-0.05</text>
<text x="133.60" y="292.90" text-anchor="middle" font-size="10.7">0.00</text>
<text x="201.86" y="292.90" text-anchor="middle" font-size="10.7">0.05</text>
<text x="270.12" y="292.90" text-anchor="middle" font-size="10.7">0.10</text>
<text x="338.38" y="292.90" text-anchor="middle" font-size="10.7">0.15</text>
<text transform="translate(27.80,266.35) rotate(-90)" x="0" y="0" text-anchor="middle" font-size="10.7">0</text>
<text transform="translate(27.80,216.77) rotate(-90)" x="0" y="0" text-anchor="middle" font-size="10.7">5</text>
<text transform="translate(27.80,167.19) rotate(-90)" x="0" y="0" text-anchor="middle" font-size="10.7">10</text>
<text transform="translate(27.80,117.61) rotate(-90)" x="0" y="0" text-anchor="middle" font-size="10.7">15</text>
<text transform="translate(27.80,68.03) rotate(-90)" x="0" y="0" text-anchor="middle" font-size="10.7">20</text>
<text transform="translate(27.80,18.45) rotate(-90)" x="0" y="0" text-anchor="middle" font-size="10.7">25</text>
<text x="194.90" y="310.70" text-anchor="middle" font-size="12.0">age</text>
<text transform="translate(9.50,138.35) rotate(-90)" text-anchor="middle" font-size="12.2">Density</text>
<line x1="262.60" y1="11.30" x2="278.90" y2="11.30" stroke="#000000" stroke-width="1.5" stroke-linecap="round"/>
<text x="286.50" y="14.50" font-size="9.0">MLE</text>
<line x1="262.60" y1="22.30" x2="278.90" y2="22.30" stroke="#E41A1C" stroke-width="1.5" stroke-linecap="round" stroke-dasharray="5.44 5.44"/>
<text x="286.50" y="25.50" font-size="9.0">Claude_Mod</text>
<line x1="262.60" y1="33.30" x2="278.90" y2="33.30" stroke="#4DAF4A" stroke-width="1.5" stroke-linecap="round" stroke-dasharray="1.36 4.08"/>
<text x="286.50" y="36.50" font-size="9.0">Gemini_Mod</text>
<line x1="262.60" y1="43.90" x2="278.90" y2="43.90" stroke="#377EB8" stroke-width="1.5" stroke-linecap="round" stroke-dasharray="1.36 4.08 5.44 4.08"/>
<text x="286.50" y="47.10" font-size="9.0">ChatGPT_Mod</text>
<path d="M466.00 0.40V276.30M546.13 0.40V276.30M626.26 0.40V276.30M706.39 0.40V276.30M414.40 266.30H727.40M414.40 220.12H727.40M414.40 173.94H727.40M414.40 127.76H727.40M414.40 81.58H727.40M414.40 35.40H727.40" stroke="#c8c8c8" stroke-width="0.8" stroke-dasharray="1.0 1.72" fill="none"/>
<polyline points="425.94,266.30 426.42,266.30 426.90,266.30 427.39,266.30 427.87,266.30 428.35,266.30 428.84,266.30 429.32,266.30 429.80,266.30 430.29,266.30 430.77,266.30 431.25,266.30 431.74,266.30 432.22,266.30 432.70,266.30 433.19,266.30 433.67,266.30 434.15,266.30 434.64,266.30 435.12,266.30 435.60,266.30 436.09,266.30 436.57,266.30 437.05,266.30 437.54,266.30 438.02,266.30 438.50,266.30 438.99,266.30 439.47,266.30 439.96,266.30 440.44,266.30 440.92,266.30 441.41,266.30 441.89,266.30 442.37,266.30 442.86,266.30 443.34,266.30 443.82,266.30 444.31,266.30 444.79,266.30 445.27,266.30 445.76,266.30 446.24,266.30 446.72,266.30 447.21,266.30 447.69,266.30 448.17,266.30 448.66,266.30 449.14,266.30 449.62,266.30 450.11,266.30 450.59,266.30 451.07,266.30 451.56,266.30 452.04,266.30 452.53,266.30 453.01,266.30 453.49,266.30 453.98,266.30 454.46,266.30 454.94,266.30 455.43,266.30 455.91,266.30 456.39,266.30 456.88,266.30 457.36,266.30 457.84,266.30 458.33,266.30 458.81,266.30 459.29,266.30 459.78,266.30 460.26,266.30 460.74,266.30 461.23,266.30 461.71,266.30 462.19,266.30 462.68,266.30 463.16,266.30 463.64,266.30 464.13,266.30 464.61,266.30 465.09,266.30 465.58,266.30 466.06,266.30 466.55,266.30 467.03,266.30 467.51,266.30 468.00,266.30 468.48,266.30 468.96,266.30 469.45,266.30 469.93,266.30 470.41,266.30 470.90,266.30 471.38,266.30 471.86,266.30 472.35,266.30 472.83,266.30 473.31,266.30 473.80,266.30 474.28,266.30 474.76,266.30 475.25,266.29 475.73,266.29 476.21,266.29 476.70,266.29 477.18,266.29 477.66,266.29 478.15,266.29 478.63,266.29 479.12,266.29 479.60,266.29 480.08,266.29 480.57,266.29 481.05,266.29 481.53,266.29 482.02,266.29 482.50,266.28 482.98,266.28 483.47,266.28 483.95,266.28 484.43,266.28 484.92,266.28 485.40,266.28 485.88,266.28 486.37,266.27 486.85,266.27 487.33,266.27 487.82,266.27 488.30,266.27 488.78,266.26 489.27,266.26 489.75,266.26 490.23,266.25 490.72,266.25 491.20,266.25 491.68,266.24 492.17,266.24 492.65,266.24 493.14,266.23 493.62,266.23 494.10,266.22 494.59,266.22 495.07,266.21 495.55,266.21 496.04,266.20 496.52,266.19 497.00,266.19 497.49,266.18 497.97,266.17 498.45,266.16 498.94,266.15 499.42,266.14 499.90,266.14 500.39,266.12 500.87,266.11 501.35,266.10 501.84,266.09 502.32,266.08 502.80,266.06 503.29,266.05 503.77,266.03 504.25,266.02 504.74,266.00 505.22,265.98 505.71,265.96 506.19,265.94 506.67,265.92 507.16,265.90 507.64,265.88 508.12,265.85 508.61,265.83 509.09,265.80 509.57,265.77 510.06,265.74 510.54,265.71 511.02,265.68 511.51,265.64 511.99,265.61 512.47,265.57 512.96,265.53 513.44,265.49 513.92,265.44 514.41,265.39 514.89,265.35 515.37,265.30 515.86,265.24 516.34,265.19 516.82,265.13 517.31,265.07 517.79,265.00 518.27,264.94 518.76,264.87 519.24,264.79 519.73,264.72 520.21,264.64 520.69,264.55 521.18,264.47 521.66,264.38 522.14,264.28 522.63,264.18 523.11,264.08 523.59,263.97 524.08,263.86 524.56,263.75 525.04,263.63 525.53,263.50 526.01,263.37 526.49,263.23 526.98,263.09 527.46,262.95 527.94,262.79 528.43,262.64 528.91,262.47 529.39,262.30 529.88,262.12 530.36,261.94 530.84,261.75 531.33,261.55 531.81,261.35 532.30,261.14 532.78,260.92 533.26,260.69 533.75,260.46 534.23,260.21 534.71,259.96 535.20,259.70 535.68,259.43 536.16,259.16 536.65,258.87 537.13,258.58 537.61,258.27 538.10,257.96 538.58,257.63 539.06,257.30 539.55,256.96 540.03,256.60 540.51,256.24 541.00,255.86 541.48,255.48 541.96,255.08 542.45,254.67 542.93,254.25 543.41,253.82 543.90,253.38 544.38,252.92 544.87,252.45 545.35,251.97 545.83,251.48 546.32,250.98 546.80,250.46 547.28,249.93 547.77,249.39 548.25,248.84 548.73,248.27 549.22,247.69 549.70,247.09 550.18,246.49 550.67,245.86 551.15,245.23 551.63,244.58 552.12,243.92 552.60,243.25 553.08,242.56 553.57,241.86 554.05,241.15 554.53,240.42 555.02,239.68 555.50,238.92 555.98,238.15 556.47,237.37 556.95,236.58 557.43,235.77 557.92,234.95 558.40,234.12 558.89,233.28 559.37,232.42 559.85,231.55 560.34,230.67 560.82,229.77 561.30,228.87 561.79,227.95 562.27,227.03 562.75,226.09 563.24,225.14 563.72,224.18 564.20,223.21 564.69,222.23 565.17,221.25 565.65,220.25 566.14,219.25 566.62,218.24 567.10,217.22 567.59,216.19 568.07,215.16 568.55,214.12 569.04,213.07 569.52,212.02 570.00,210.96 570.49,209.91 570.97,208.84 571.46,207.78 571.94,206.71 572.42,205.64 572.91,204.56 573.39,203.49 573.87,202.42 574.36,201.35 574.84,200.28 575.32,199.21 575.81,198.14 576.29,197.07 576.77,196.01 577.26,194.96 577.74,193.91 578.22,192.86 578.71,191.82 579.19,190.79 579.67,189.77 580.16,188.76 580.64,187.75 581.12,186.75 581.61,185.77 582.09,184.80 582.57,183.84 583.06,182.89 583.54,181.95 584.02,181.03 584.51,180.13 584.99,179.24 585.48,178.36 585.96,177.51 586.44,176.67 586.93,175.85 587.41,175.04 587.89,174.26 588.38,173.50 588.86,172.76 589.34,172.04 589.83,171.34 590.31,170.66 590.79,170.01 591.28,169.38 591.76,168.78 592.24,168.20 592.73,167.64 593.21,167.11 593.69,166.61 594.18,166.13 594.66,165.68 595.14,165.26 595.63,164.86 596.11,164.50 596.59,164.16 597.08,163.85 597.56,163.57 598.05,163.31 598.53,163.09 599.01,162.90 599.50,162.73 599.98,162.60 600.46,162.49 600.95,162.42 601.43,162.38 601.91,162.36 602.40,162.38 602.88,162.42 603.36,162.50 603.85,162.60 604.33,162.74 604.81,162.91 605.30,163.10 605.78,163.33 606.26,163.58 606.75,163.86 607.23,164.18 607.71,164.52 608.20,164.88 608.68,165.28 609.16,165.70 609.65,166.16 610.13,166.63 610.61,167.14 611.10,167.67 611.58,168.23 612.07,168.81 612.55,169.41 613.03,170.04 613.52,170.70 614.00,171.37 614.48,172.07 614.97,172.79 615.45,173.54 615.93,174.30 616.42,175.08 616.90,175.89 617.38,176.71 617.87,177.55 618.35,178.41 618.83,179.28 619.32,180.17 619.80,181.08 620.28,182.00 620.77,182.94 621.25,183.88 621.73,184.85 622.22,185.82 622.70,186.81 623.18,187.80 623.67,188.81 624.15,189.82 624.64,190.85 625.12,191.88 625.60,192.92 626.09,193.96 626.57,195.01 627.05,196.07 627.54,197.13 628.02,198.19 628.50,199.26 628.99,200.33 629.47,201.40 629.95,202.47 630.44,203.55 630.92,204.62 631.40,205.69 631.89,206.76 632.37,207.83 632.85,208.90 633.34,209.96 633.82,211.02 634.30,212.07 634.79,213.12 635.27,214.17 635.75,215.21 636.24,216.24 636.72,217.27 637.21,218.29 637.69,219.30 638.17,220.30 638.66,221.30 639.14,222.28 639.62,223.26 640.11,224.23 640.59,225.19 641.07,226.14 641.56,227.07 642.04,228.00 642.52,228.92 643.01,229.82 643.49,230.71 643.97,231.59 644.46,232.46 644.94,233.32 645.42,234.16 645.91,234.99 646.39,235.81 646.87,236.62 647.36,237.41 647.84,238.19 648.32,238.96 648.81,239.71 649.29,240.45 649.77,241.18 650.26,241.90 650.74,242.60 651.23,243.28 651.71,243.96 652.19,244.62 652.68,245.26 653.16,245.90 653.64,246.52 654.13,247.12 654.61,247.72 655.09,248.30 655.58,248.86 656.06,249.42 656.54,249.96 657.03,250.49 657.51,251.00 657.99,251.51 658.48,252.00 658.96,252.48 659.44,252.94 659.93,253.40 660.41,253.84 660.89,254.27 661.38,254.69 661.86,255.10 662.34,255.50 662.83,255.88 663.31,256.26 663.80,256.62 664.28,256.97 664.76,257.32 665.25,257.65 665.73,257.97 666.21,258.29 666.70,258.59 667.18,258.89 667.66,259.17 668.15,259.45 668.63,259.72 669.11,259.98 669.60,260.23 670.08,260.47 670.56,260.70 671.05,260.93 671.53,261.15 672.01,261.36 672.50,261.56 672.98,261.76 673.46,261.95 673.95,262.13 674.43,262.31 674.91,262.48 675.40,262.64 675.88,262.80 676.36,262.95 676.85,263.10 677.33,263.24 677.82,263.38 678.30,263.51 678.78,263.63 679.27,263.75 679.75,263.87 680.23,263.98 680.72,264.09 681.20,264.19 681.68,264.29 682.17,264.38 682.65,264.47 683.13,264.56 683.62,264.64 684.10,264.72 684.58,264.80 685.07,264.87 685.55,264.94 686.03,265.01 686.52,265.07 687.00,265.13 687.48,265.19 687.97,265.24 688.45,265.30 688.93,265.35 689.42,265.40 689.90,265.44 690.39,265.49 690.87,265.53 691.35,265.57 691.84,265.61 692.32,265.64 692.80,265.68 693.29,265.71 693.77,265.74 694.25,265.77 694.74,265.80 695.22,265.83 695.70,265.85 696.19,265.88 696.67,265.90 697.15,265.92 697.64,265.94 698.12,265.96 698.60,265.98 699.09,266.00 699.57,266.02 700.05,266.03 700.54,266.05 701.02,266.06 701.50,266.08 701.99,266.09 702.47,266.10 702.95,266.11 703.44,266.13 703.92,266.14 704.41,266.15 704.89,266.15 705.37,266.16 705.86,266.17 706.34,266.18 706.82,266.19 707.31,266.19 707.79,266.20 708.27,266.21 708.76,266.21 709.24,266.22 709.72,266.22 710.21,266.23 710.69,266.23 711.17,266.24 711.66,266.24 712.14,266.24 712.62,266.25 713.11,266.25 713.59,266.25 714.07,266.26 714.56,266.26 715.04,266.26 715.52,266.27" fill="none" stroke="#000000" stroke-width="1.5" stroke-linecap="round" stroke-linejoin="round"/>
<polyline points="425.94,266.26 426.42,266.26 426.90,266.25 427.39,266.25 427.87,266.24 428.35,266.24 428.84,266.23 429.32,266.23 429.80,266.22 430.29,266.22 430.77,266.21 431.25,266.20 431.74,266.19 432.22,266.19 432.70,266.18 433.19,266.17 433.67,266.16 434.15,266.15 434.64,266.14 435.12,266.12 435.60,266.11 436.09,266.10 436.57,266.08 437.05,266.06 437.54,266.05 438.02,266.03 438.50,266.01 438.99,265.99 439.47,265.97 439.96,265.94 440.44,265.92 440.92,265.89 441.41,265.86 441.89,265.83 442.37,265.80 442.86,265.76 443.34,265.73 443.82,265.69 444.31,265.65 444.79,265.60 445.27,265.56 445.76,265.51 446.24,265.45 446.72,265.40 447.21,265.34 447.69,265.28 448.17,265.21 448.66,265.14 449.14,265.07 449.62,264.99 450.11,264.91 450.59,264.83 451.07,264.74 451.56,264.64 452.04,264.54 452.53,264.43 453.01,264.32 453.49,264.21 453.98,264.08 454.46,263.95 454.94,263.82 455.43,263.67 455.91,263.52 456.39,263.37 456.88,263.20 457.36,263.03 457.84,262.85 458.33,262.66 458.81,262.46 459.29,262.25 459.78,262.03 460.26,261.81 460.74,261.57 461.23,261.32 461.71,261.06 462.19,260.79 462.68,260.51 463.16,260.21 463.64,259.91 464.13,259.59 464.61,259.26 465.09,258.91 465.58,258.55 466.06,258.18 466.55,257.79 467.03,257.39 467.51,256.97 468.00,256.54 468.48,256.09 468.96,255.62 469.45,255.14 469.93,254.64 470.41,254.12 470.90,253.58 471.38,253.03 471.86,252.46 472.35,251.86 472.83,251.25 473.31,250.62 473.80,249.97 474.28,249.30 474.76,248.61 475.25,247.90 475.73,247.17 476.21,246.42 476.70,245.65 477.18,244.85 477.66,244.04 478.15,243.20 478.63,242.34 479.12,241.45 479.60,240.55 480.08,239.62 480.57,238.67 481.05,237.70 481.53,236.71 482.02,235.70 482.50,234.66 482.98,233.60 483.47,232.52 483.95,231.42 484.43,230.29 484.92,229.15 485.40,227.98 485.88,226.80 486.37,225.59 486.85,224.36 487.33,223.12 487.82,221.85 488.30,220.57 488.78,219.27 489.27,217.95 489.75,216.61 490.23,215.26 490.72,213.89 491.20,212.51 491.68,211.11 492.17,209.70 492.65,208.28 493.14,206.84 493.62,205.40 494.10,203.94 494.59,202.48 495.07,201.00 495.55,199.52 496.04,198.04 496.52,196.55 497.00,195.05 497.49,193.56 497.97,192.06 498.45,190.56 498.94,189.06 499.42,187.57 499.90,186.08 500.39,184.59 500.87,183.11 501.35,181.64 501.84,180.17 502.32,178.72 502.80,177.28 503.29,175.85 503.77,174.43 504.25,173.03 504.74,171.65 505.22,170.29 505.71,168.94 506.19,167.62 506.67,166.31 507.16,165.04 507.64,163.78 508.12,162.56 508.61,161.36 509.09,160.19 509.57,159.05 510.06,157.95 510.54,156.87 511.02,155.83 511.51,154.83 511.99,153.86 512.47,152.93 512.96,152.03 513.44,151.18 513.92,150.37 514.41,149.60 514.89,148.87 515.37,148.18 515.86,147.54 516.34,146.94 516.82,146.39 517.31,145.89 517.79,145.43 518.27,145.02 518.76,144.65 519.24,144.34 519.73,144.07 520.21,143.85 520.69,143.69 521.18,143.57 521.66,143.50 522.14,143.48 522.63,143.51 523.11,143.59 523.59,143.72 524.08,143.90 524.56,144.13 525.04,144.40 525.53,144.73 526.01,145.10 526.49,145.52 526.98,145.99 527.46,146.51 527.94,147.07 528.43,147.67 528.91,148.32 529.39,149.02 529.88,149.76 530.36,150.54 530.84,151.36 531.33,152.22 531.81,153.12 532.30,154.06 532.78,155.04 533.26,156.05 533.75,157.10 534.23,158.18 534.71,159.29 535.20,160.44 535.68,161.61 536.16,162.82 536.65,164.05 537.13,165.31 537.61,166.59 538.10,167.90 538.58,169.23 539.06,170.57 539.55,171.94 540.03,173.33 540.51,174.73 541.00,176.15 541.48,177.59 541.96,179.03 542.45,180.49 542.93,181.95 543.41,183.43 543.90,184.91 544.38,186.40 544.87,187.89 545.35,189.38 545.83,190.88 546.32,192.38 546.80,193.88 547.28,195.37 547.77,196.87 548.25,198.36 548.73,199.84 549.22,201.32 549.70,202.79 550.18,204.25 550.67,205.71 551.15,207.15 551.63,208.58 552.12,210.00 552.60,211.41 553.08,212.80 553.57,214.18 554.05,215.55 554.53,216.90 555.02,218.23 555.50,219.55 555.98,220.84 556.47,222.12 556.95,223.38 557.43,224.63 557.92,225.85 558.40,227.05 558.89,228.23 559.37,229.39 559.85,230.53 560.34,231.65 560.82,232.75 561.30,233.83 561.79,234.88 562.27,235.91 562.75,236.92 563.24,237.91 563.72,238.88 564.20,239.82 564.69,240.74 565.17,241.64 565.65,242.52 566.14,243.38 566.62,244.21 567.10,245.02 567.59,245.81 568.07,246.58 568.55,247.33 569.04,248.06 569.52,248.76 570.00,249.45 570.49,250.12 570.97,250.76 571.46,251.39 571.94,251.99 572.42,252.58 572.91,253.15 573.39,253.70 573.87,254.23 574.36,254.74 574.84,255.24 575.32,255.72 575.81,256.18 576.29,256.63 576.77,257.06 577.26,257.47 577.74,257.87 578.22,258.26 578.71,258.63 579.19,258.99 579.67,259.33 580.16,259.66 580.64,259.97 581.12,260.28 581.61,260.57 582.09,260.85 582.57,261.12 583.06,261.37 583.54,261.62 584.02,261.85 584.51,262.08 584.99,262.30 585.48,262.50 585.96,262.70 586.44,262.89 586.93,263.07 587.41,263.24 587.89,263.40 588.38,263.56 588.86,263.71 589.34,263.85 589.83,263.98 590.31,264.11 590.79,264.23 591.28,264.35 591.76,264.46 592.24,264.56 592.73,264.66 593.21,264.76 593.69,264.85 594.18,264.93 594.66,265.01 595.14,265.09 595.63,265.16 596.11,265.23 596.59,265.29 597.08,265.35 597.56,265.41 598.05,265.47 598.53,265.52 599.01,265.57 599.50,265.61 599.98,265.65 600.46,265.70 600.95,265.73 601.43,265.77 601.91,265.80 602.40,265.84 602.88,265.87 603.36,265.90 603.85,265.92 604.33,265.95 604.81,265.97 605.30,265.99 605.78,266.01 606.26,266.03 606.75,266.05 607.23,266.07 607.71,266.08 608.20,266.10 608.68,266.11 609.16,266.13 609.65,266.14 610.13,266.15 610.61,266.16 611.10,266.17 611.58,266.18 612.07,266.19 612.55,266.20 613.03,266.20 613.52,266.21 614.00,266.22 614.48,266.22 614.97,266.23 615.45,266.23 615.93,266.24 616.42,266.24 616.90,266.25 617.38,266.25 617.87,266.26 618.35,266.26 618.83,266.26 619.32,266.27 619.80,266.27 620.28,266.27 620.77,266.27 621.25,266.28 621.73,266.28 622.22,266.28 622.70,266.28 623.18,266.28 623.67,266.28 624.15,266.29 624.64,266.29 625.12,266.29 625.60,266.29 626.09,266.29 626.57,266.29 627.05,266.29 627.54,266.29 628.02,266.29 628.50,266.29 628.99,266.29 629.47,266.29 629.95,266.29 630.44,266.30 630.92,266.30 631.40,266.30 631.89,266.30 632.37,266.30 632.85,266.30 633.34,266.30 633.82,266.30 634.30,266.30 634.79,266.30 635.27,266.30 635.75,266.30 636.24,266.30 636.72,266.30 637.21,266.30 637.69,266.30 638.17,266.30 638.66,266.30 639.14,266.30 639.62,266.30 640.11,266.30 640.59,266.30 641.07,266.30 641.56,266.30 642.04,266.30 642.52,266.30 643.01,266.30 643.49,266.30 643.97,266.30 644.46,266.30 644.94,266.30 645.42,266.30 645.91,266.30 646.39,266.30 646.87,266.30 647.36,266.30 647.84,266.30 648.32,266.30 648.81,266.30 649.29,266.30 649.77,266.30 650.26,266.30 650.74,266.30 651.23,266.30 651.71,266.30 652.19,266.30 652.68,266.30 653.16,266.30 653.64,266.30 654.13,266.30 654.61,266.30 655.09,266.30 655.58,266.30 656.06,266.30 656.54,266.30 657.03,266.30 657.51,266.30 657.99,266.30 658.48,266.30 658.96,266.30 659.44,266.30 659.93,266.30 660.41,266.30 660.89,266.30 661.38,266.30 661.86,266.30 662.34,266.30 662.83,266.30 663.31,266.30 663.80,266.30 664.28,266.30 664.76,266.30 665.25,266.30 665.73,266.30 666.21,266.30 666.70,266.30 667.18,266.30 667.66,266.30 668.15,266.30 668.63,266.30 669.11,266.30 669.60,266.30 670.08,266.30 670.56,266.30 671.05,266.30 671.53,266.30 672.01,266.30 672.50,266.30 672.98,266.30 673.46,266.30 673.95,266.30 674.43,266.30 674.91,266.30 675.40,266.30 675.88,266.30 676.36,266.30 676.85,266.30 677.33,266.30 677.82,266.30 678.30,266.30 678.78,266.30 679.27,266.30 679.75,266.30 680.23,266.30 680.72,266.30 681.20,266.30 681.68,266.30 682.17,266.30 682.65,266.30 683.13,266.30 683.62,266.30 684.10,266.30 684.58,266.30 685.07,266.30 685.55,266.30 686.03,266.30 686.52,266.30 687.00,266.30 687.48,266.30 687.97,266.30 688.45,266.30 688.93,266.30 689.42,266.30 689.90,266.30 690.39,266.30 690.87,266.30 691.35,266.30 691.84,266.30 692.32,266.30 692.80,266.30 693.29,266.30 693.77,266.30 694.25,266.30 694.74,266.30 695.22,266.30 695.70,266.30 696.19,266.30 696.67,266.30 697.15,266.30 697.64,266.30 698.12,266.30 698.60,266.30 699.09,266.30 699.57,266.30 700.05,266.30 700.54,266.30 701.02,266.30 701.50,266.30 701.99,266.30 702.47,266.30 702.95,266.30 703.44,266.30 703.92,266.30 704.41,266.30 704.89,266.30 705.37,266.30 705.86,266.30 706.34,266.30 706.82,266.30 707.31,266.30 707.79,266.30 708.27,266.30 708.76,266.30 709.24,266.30 709.72,266.30 710.21,266.30 710.69,266.30 711.17,266.30 711.66,266.30 712.14,266.30 712.62,266.30 713.11,266.30 713.59,266.30 714.07,266.30 714.56,266.30 715.04,266.30 715.52,266.30" fill="none" stroke="#E41A1C" stroke-width="1.5" stroke-linecap="round" stroke-linejoin="round" stroke-dasharray="5.44 5.44"/>
<polyline points="425.94,266.30 426.42,266.30 426.90,266.30 427.39,266.30 427.87,266.30 428.35,266.30 428.84,266.30 429.32,266.30 429.80,266.30 430.29,266.30 430.77,266.30 431.25,266.30 431.74,266.30 432.22,266.30 432.70,266.30 433.19,266.30 433.67,266.30 434.15,266.30 434.64,266.30 435.12,266.30 435.60,266.30 436.09,266.30 436.57,266.30 437.05,266.30 437.54,266.30 438.02,266.30 438.50,266.30 438.99,266.30 439.47,266.30 439.96,266.30 440.44,266.30 440.92,266.30 441.41,266.30 441.89,266.30 442.37,266.30 442.86,266.30 443.34,266.30 443.82,266.30 444.31,266.30 444.79,266.30 445.27,266.30 445.76,266.30 446.24,266.30 446.72,266.30 447.21,266.30 447.69,266.30 448.17,266.30 448.66,266.30 449.14,266.30 449.62,266.30 450.11,266.30 450.59,266.30 451.07,266.30 451.56,266.30 452.04,266.30 452.53,266.30 453.01,266.30 453.49,266.30 453.98,266.30 454.46,266.30 454.94,266.30 455.43,266.30 455.91,266.30 456.39,266.30 456.88,266.30 457.36,266.29 457.84,266.29 458.33,266.29 458.81,266.29 459.29,266.29 459.78,266.29 460.26,266.29 460.74,266.28 461.23,266.28 461.71,266.28 462.19,266.28 462.68,266.27 463.16,266.27 463.64,266.26 464.13,266.26 464.61,266.25 465.09,266.24 465.58,266.23 466.06,266.22 466.55,266.21 467.03,266.20 467.51,266.18 468.00,266.17 468.48,266.15 468.96,266.13 469.45,266.10 469.93,266.08 470.41,266.05 470.90,266.01 471.38,265.97 471.86,265.93 472.35,265.88 472.83,265.82 473.31,265.76 473.80,265.69 474.28,265.62 474.76,265.53 475.25,265.44 475.73,265.33 476.21,265.21 476.70,265.08 477.18,264.94 477.66,264.78 478.15,264.60 478.63,264.41 479.12,264.19 479.60,263.96 480.08,263.70 480.57,263.42 481.05,263.11 481.53,262.77 482.02,262.40 482.50,262.00 482.98,261.56 483.47,261.08 483.95,260.57 484.43,260.00 484.92,259.39 485.40,258.74 485.88,258.03 486.37,257.26 486.85,256.43 487.33,255.55 487.82,254.59 488.30,253.57 488.78,252.48 489.27,251.31 489.75,250.06 490.23,248.73 490.72,247.31 491.20,245.81 491.68,244.21 492.17,242.51 492.65,240.72 493.14,238.83 493.62,236.83 494.10,234.72 494.59,232.51 495.07,230.18 495.55,227.74 496.04,225.19 496.52,222.52 497.00,219.74 497.49,216.84 497.97,213.82 498.45,210.69 498.94,207.44 499.42,204.08 499.90,200.60 500.39,197.02 500.87,193.33 501.35,189.54 501.84,185.65 502.32,181.67 502.80,177.60 503.29,173.44 503.77,169.21 504.25,164.92 504.74,160.56 505.22,156.15 505.71,151.69 506.19,147.20 506.67,142.69 507.16,138.16 507.64,133.63 508.12,129.11 508.61,124.61 509.09,120.13 509.57,115.70 510.06,111.33 510.54,107.02 511.02,102.80 511.51,98.67 511.99,94.64 512.47,90.73 512.96,86.95 513.44,83.32 513.92,79.84 514.41,76.52 514.89,73.38 515.37,70.43 515.86,67.68 516.34,65.14 516.82,62.81 517.31,60.71 517.79,58.84 518.27,57.20 518.76,55.82 519.24,54.68 519.73,53.80 520.21,53.17 520.69,52.81 521.18,52.70 521.66,52.86 522.14,53.27 522.63,53.95 523.11,54.88 523.59,56.06 524.08,57.50 524.56,59.18 525.04,61.09 525.53,63.24 526.01,65.61 526.49,68.19 526.98,70.98 527.46,73.97 527.94,77.14 528.43,80.49 528.91,84.00 529.39,87.66 529.88,91.47 530.36,95.40 530.84,99.45 531.33,103.60 531.81,107.84 532.30,112.16 532.78,116.55 533.26,120.99 533.75,125.47 534.23,129.98 534.71,134.50 535.20,139.03 535.68,143.56 536.16,148.07 536.65,152.55 537.13,157.00 537.61,161.40 538.10,165.74 538.58,170.03 539.06,174.24 539.55,178.38 540.03,182.44 540.51,186.40 541.00,190.27 541.48,194.04 541.96,197.71 542.45,201.28 542.93,204.73 543.41,208.07 543.90,211.29 544.38,214.41 544.87,217.40 545.35,220.28 545.83,223.04 546.32,225.69 546.80,228.22 547.28,230.64 547.77,232.94 548.25,235.13 548.73,237.22 549.22,239.20 549.70,241.07 550.18,242.85 550.67,244.52 551.15,246.10 551.63,247.59 552.12,248.99 552.60,250.31 553.08,251.54 553.57,252.69 554.05,253.77 554.53,254.78 555.02,255.72 555.50,256.60 555.98,257.41 556.47,258.17 556.95,258.87 557.43,259.52 557.92,260.11 558.40,260.67 558.89,261.18 559.37,261.65 559.85,262.08 560.34,262.48 560.82,262.84 561.30,263.17 561.79,263.48 562.27,263.75 562.75,264.01 563.24,264.24 563.72,264.45 564.20,264.64 564.69,264.81 565.17,264.97 565.65,265.11 566.14,265.24 566.62,265.35 567.10,265.45 567.59,265.55 568.07,265.63 568.55,265.71 569.04,265.77 569.52,265.83 570.00,265.89 570.49,265.94 570.97,265.98 571.46,266.02 571.94,266.05 572.42,266.08 572.91,266.11 573.39,266.13 573.87,266.15 574.36,266.17 574.84,266.19 575.32,266.20 575.81,266.21 576.29,266.23 576.77,266.24 577.26,266.24 577.74,266.25 578.22,266.26 578.71,266.26 579.19,266.27 579.67,266.27 580.16,266.28 580.64,266.28 581.12,266.28 581.61,266.29 582.09,266.29 582.57,266.29 583.06,266.29 583.54,266.29 584.02,266.29 584.51,266.29 584.99,266.30 585.48,266.30 585.96,266.30 586.44,266.30 586.93,266.30 587.41,266.30 587.89,266.30 588.38,266.30 588.86,266.30 589.34,266.30 589.83,266.30 590.31,266.30 590.79,266.30 591.28,266.30 591.76,266.30 592.24,266.30 592.73,266.30 593.21,266.30 593.69,266.30 594.18,266.30 594.66,266.30 595.14,266.30 595.63,266.30 596.11,266.30 596.59,266.30 597.08,266.30 597.56,266.30 598.05,266.30 598.53,266.30 599.01,266.30 599.50,266.30 599.98,266.30 600.46,266.30 600.95,266.30 601.43,266.30 601.91,266.30 602.40,266.30 602.88,266.30 603.36,266.30 603.85,266.30 604.33,266.30 604.81,266.30 605.30,266.30 605.78,266.30 606.26,266.30 606.75,266.30 607.23,266.30 607.71,266.30 608.20,266.30 608.68,266.30 609.16,266.30 609.65,266.30 610.13,266.30 610.61,266.30 611.10,266.30 611.58,266.30 612.07,266.30 612.55,266.30 613.03,266.30 613.52,266.30 614.00,266.30 614.48,266.30 614.97,266.30 615.45,266.30 615.93,266.30 616.42,266.30 616.90,266.30 617.38,266.30 617.87,266.30 618.35,266.30 618.83,266.30 619.32,266.30 619.80,266.30 620.28,266.30 620.77,266.30 621.25,266.30 621.73,266.30 622.22,266.30 622.70,266.30 623.18,266.30 623.67,266.30 624.15,266.30 624.64,266.30 625.12,266.30 625.60,266.30 626.09,266.30 626.57,266.30 627.05,266.30 627.54,266.30 628.02,266.30 628.50,266.30 628.99,266.30 629.47,266.30 629.95,266.30 630.44,266.30 630.92,266.30 631.40,266.30 631.89,266.30 632.37,266.30 632.85,266.30 633.34,266.30 633.82,266.30 634.30,266.30 634.79,266.30 635.27,266.30 635.75,266.30 636.24,266.30 636.72,266.30 637.21,266.30 637.69,266.30 638.17,266.30 638.66,266.30 639.14,266.30 639.62,266.30 640.11,266.30 640.59,266.30 641.07,266.30 641.56,266.30 642.04,266.30 642.52,266.30 643.01,266.30 643.49,266.30 643.97,266.30 644.46,266.30 644.94,266.30 645.42,266.30 645.91,266.30 646.39,266.30 646.87,266.30 647.36,266.30 647.84,266.30 648.32,266.30 648.81,266.30 649.29,266.30 649.77,266.30 650.26,266.30 650.74,266.30 651.23,266.30 651.71,266.30 652.19,266.30 652.68,266.30 653.16,266.30 653.64,266.30 654.13,266.30 654.61,266.30 655.09,266.30 655.58,266.30 656.06,266.30 656.54,266.30 657.03,266.30 657.51,266.30 657.99,266.30 658.48,266.30 658.96,266.30 659.44,266.30 659.93,266.30 660.41,266.30 660.89,266.30 661.38,266.30 661.86,266.30 662.34,266.30 662.83,266.30 663.31,266.30 663.80,266.30 664.28,266.30 664.76,266.30 665.25,266.30 665.73,266.30 666.21,266.30 666.70,266.30 667.18,266.30 667.66,266.30 668.15,266.30 668.63,266.30 669.11,266.30 669.60,266.30 670.08,266.30 670.56,266.30 671.05,266.30 671.53,266.30 672.01,266.30 672.50,266.30 672.98,266.30 673.46,266.30 673.95,266.30 674.43,266.30 674.91,266.30 675.40,266.30 675.88,266.30 676.36,266.30 676.85,266.30 677.33,266.30 677.82,266.30 678.30,266.30 678.78,266.30 679.27,266.30 679.75,266.30 680.23,266.30 680.72,266.30 681.20,266.30 681.68,266.30 682.17,266.30 682.65,266.30 683.13,266.30 683.62,266.30 684.10,266.30 684.58,266.30 685.07,266.30 685.55,266.30 686.03,266.30 686.52,266.30 687.00,266.30 687.48,266.30 687.97,266.30 688.45,266.30 688.93,266.30 689.42,266.30 689.90,266.30 690.39,266.30 690.87,266.30 691.35,266.30 691.84,266.30 692.32,266.30 692.80,266.30 693.29,266.30 693.77,266.30 694.25,266.30 694.74,266.30 695.22,266.30 695.70,266.30 696.19,266.30 696.67,266.30 697.15,266.30 697.64,266.30 698.12,266.30 698.60,266.30 699.09,266.30 699.57,266.30 700.05,266.30 700.54,266.30 701.02,266.30 701.50,266.30 701.99,266.30 702.47,266.30 702.95,266.30 703.44,266.30 703.92,266.30 704.41,266.30 704.89,266.30 705.37,266.30 705.86,266.30 706.34,266.30 706.82,266.30 707.31,266.30 707.79,266.30 708.27,266.30 708.76,266.30 709.24,266.30 709.72,266.30 710.21,266.30 710.69,266.30 711.17,266.30 711.66,266.30 712.14,266.30 712.62,266.30 713.11,266.30 713.59,266.30 714.07,266.30 714.56,266.30 715.04,266.30 715.52,266.30" fill="none" stroke="#4DAF4A" stroke-width="1.5" stroke-linecap="round" stroke-linejoin="round" stroke-dasharray="1.36 4.08"/>
<polyline points="425.94,266.26 426.42,266.26 426.90,266.25 427.39,266.25 427.87,266.24 428.35,266.24 428.84,266.23 429.32,266.23 429.80,266.22 430.29,266.22 430.77,266.21 431.25,266.20 431.74,266.19 432.22,266.19 432.70,266.18 433.19,266.17 433.67,266.16 434.15,266.15 434.64,266.14 435.12,266.12 435.60,266.11 436.09,266.10 436.57,266.08 437.05,266.06 437.54,266.05 438.02,266.03 438.50,266.01 438.99,265.99 439.47,265.97 439.96,265.94 440.44,265.92 440.92,265.89 441.41,265.86 441.89,265.83 442.37,265.80 442.86,265.76 443.34,265.73 443.82,265.69 444.31,265.65 444.79,265.60 445.27,265.56 445.76,265.51 446.24,265.45 446.72,265.40 447.21,265.34 447.69,265.28 448.17,265.21 448.66,265.14 449.14,265.07 449.62,264.99 450.11,264.91 450.59,264.83 451.07,264.74 451.56,264.64 452.04,264.54 452.53,264.43 453.01,264.32 453.49,264.21 453.98,264.08 454.46,263.95 454.94,263.82 455.43,263.67 455.91,263.52 456.39,263.37 456.88,263.20 457.36,263.03 457.84,262.85 458.33,262.66 458.81,262.46 459.29,262.25 459.78,262.03 460.26,261.81 460.74,261.57 461.23,261.32 461.71,261.06 462.19,260.79 462.68,260.51 463.16,260.21 463.64,259.91 464.13,259.59 464.61,259.26 465.09,258.91 465.58,258.55 466.06,258.18 466.55,257.79 467.03,257.39 467.51,256.97 468.00,256.54 468.48,256.09 468.96,255.62 469.45,255.14 469.93,254.64 470.41,254.12 470.90,253.58 471.38,253.03 471.86,252.46 472.35,251.86 472.83,251.25 473.31,250.62 473.80,249.97 474.28,249.30 474.76,248.61 475.25,247.90 475.73,247.17 476.21,246.42 476.70,245.65 477.18,244.85 477.66,244.04 478.15,243.20 478.63,242.34 479.12,241.45 479.60,240.55 480.08,239.62 480.57,238.67 481.05,237.70 481.53,236.71 482.02,235.70 482.50,234.66 482.98,233.60 483.47,232.52 483.95,231.42 484.43,230.29 484.92,229.15 485.40,227.98 485.88,226.80 486.37,225.59 486.85,224.36 487.33,223.12 487.82,221.85 488.30,220.57 488.78,219.27 489.27,217.95 489.75,216.61 490.23,215.26 490.72,213.89 491.20,212.51 491.68,211.11 492.17,209.70 492.65,208.28 493.14,206.84 493.62,205.40 494.10,203.94 494.59,202.48 495.07,201.00 495.55,199.52 496.04,198.04 496.52,196.55 497.00,195.05 497.49,193.56 497.97,192.06 498.45,190.56 498.94,189.06 499.42,187.57 499.90,186.08 500.39,184.59 500.87,183.11 501.35,181.64 501.84,180.17 502.32,178.72 502.80,177.28 503.29,175.85 503.77,174.43 504.25,173.03 504.74,171.65 505.22,170.29 505.71,168.94 506.19,167.62 506.67,166.31 507.16,165.04 507.64,163.78 508.12,162.56 508.61,161.36 509.09,160.19 509.57,159.05 510.06,157.95 510.54,156.87 511.02,155.83 511.51,154.83 511.99,153.86 512.47,152.93 512.96,152.03 513.44,151.18 513.92,150.37 514.41,149.60 514.89,148.87 515.37,148.18 515.86,147.54 516.34,146.94 516.82,146.39 517.31,145.89 517.79,145.43 518.27,145.02 518.76,144.65 519.24,144.34 519.73,144.07 520.21,143.85 520.69,143.69 521.18,143.57 521.66,143.50 522.14,143.48 522.63,143.51 523.11,143.59 523.59,143.72 524.08,143.90 524.56,144.13 525.04,144.40 525.53,144.73 526.01,145.10 526.49,145.52 526.98,145.99 527.46,146.51 527.94,147.07 528.43,147.67 528.91,148.32 529.39,149.02 529.88,149.76 530.36,150.54 530.84,151.36 531.33,152.22 531.81,153.12 532.30,154.06 532.78,155.04 533.26,156.05 533.75,157.10 534.23,158.18 534.71,159.29 535.20,160.44 535.68,161.61 536.16,162.82 536.65,164.05 537.13,165.31 537.61,166.59 538.10,167.90 538.58,169.23 539.06,170.57 539.55,171.94 540.03,173.33 540.51,174.73 541.00,176.15 541.48,177.59 541.96,179.03 542.45,180.49 542.93,181.95 543.41,183.43 543.90,184.91 544.38,186.40 544.87,187.89 545.35,189.38 545.83,190.88 546.32,192.38 546.80,193.88 547.28,195.37 547.77,196.87 548.25,198.36 548.73,199.84 549.22,201.32 549.70,202.79 550.18,204.25 550.67,205.71 551.15,207.15 551.63,208.58 552.12,210.00 552.60,211.41 553.08,212.80 553.57,214.18 554.05,215.55 554.53,216.90 555.02,218.23 555.50,219.55 555.98,220.84 556.47,222.12 556.95,223.38 557.43,224.63 557.92,225.85 558.40,227.05 558.89,228.23 559.37,229.39 559.85,230.53 560.34,231.65 560.82,232.75 561.30,233.83 561.79,234.88 562.27,235.91 562.75,236.92 563.24,237.91 563.72,238.88 564.20,239.82 564.69,240.74 565.17,241.64 565.65,242.52 566.14,243.38 566.62,244.21 567.10,245.02 567.59,245.81 568.07,246.58 568.55,247.33 569.04,248.06 569.52,248.76 570.00,249.45 570.49,250.12 570.97,250.76 571.46,251.39 571.94,251.99 572.42,252.58 572.91,253.15 573.39,253.70 573.87,254.23 574.36,254.74 574.84,255.24 575.32,255.72 575.81,256.18 576.29,256.63 576.77,257.06 577.26,257.47 577.74,257.87 578.22,258.26 578.71,258.63 579.19,258.99 579.67,259.33 580.16,259.66 580.64,259.97 581.12,260.28 581.61,260.57 582.09,260.85 582.57,261.12 583.06,261.37 583.54,261.62 584.02,261.85 584.51,262.08 584.99,262.30 585.48,262.50 585.96,262.70 586.44,262.89 586.93,263.07 587.41,263.24 587.89,263.40 588.38,263.56 588.86,263.71 589.34,263.85 589.83,263.98 590.31,264.11 590.79,264.23 591.28,264.35 591.76,264.46 592.24,264.56 592.73,264.66 593.21,264.76 593.69,264.85 594.18,264.93 594.66,265.01 595.14,265.09 595.63,265.16 596.11,265.23 596.59,265.29 597.08,265.35 597.56,265.41 598.05,265.47 598.53,265.52 599.01,265.57 599.50,265.61 599.98,265.65 600.46,265.70 600.95,265.73 601.43,265.77 601.91,265.80 602.40,265.84 602.88,265.87 603.36,265.90 603.85,265.92 604.33,265.95 604.81,265.97 605.30,265.99 605.78,266.01 606.26,266.03 606.75,266.05 607.23,266.07 607.71,266.08 608.20,266.10 608.68,266.11 609.16,266.13 609.65,266.14 610.13,266.15 610.61,266.16 611.10,266.17 611.58,266.18 612.07,266.19 612.55,266.20 613.03,266.20 613.52,266.21 614.00,266.22 614.48,266.22 614.97,266.23 615.45,266.23 615.93,266.24 616.42,266.24 616.90,266.25 617.38,266.25 617.87,266.26 618.35,266.26 618.83,266.26 619.32,266.27 619.80,266.27 620.28,266.27 620.77,266.27 621.25,266.28 621.73,266.28 622.22,266.28 622.70,266.28 623.18,266.28 623.67,266.28 624.15,266.29 624.64,266.29 625.12,266.29 625.60,266.29 626.09,266.29 626.57,266.29 627.05,266.29 627.54,266.29 628.02,266.29 628.50,266.29 628.99,266.29 629.47,266.29 629.95,266.29 630.44,266.30 630.92,266.30 631.40,266.30 631.89,266.30 632.37,266.30 632.85,266.30 633.34,266.30 633.82,266.30 634.30,266.30 634.79,266.30 635.27,266.30 635.75,266.30 636.24,266.30 636.72,266.30 637.21,266.30 637.69,266.30 638.17,266.30 638.66,266.30 639.14,266.30 639.62,266.30 640.11,266.30 640.59,266.30 641.07,266.30 641.56,266.30 642.04,266.30 642.52,266.30 643.01,266.30 643.49,266.30 643.97,266.30 644.46,266.30 644.94,266.30 645.42,266.30 645.91,266.30 646.39,266.30 646.87,266.30 647.36,266.30 647.84,266.30 648.32,266.30 648.81,266.30 649.29,266.30 649.77,266.30 650.26,266.30 650.74,266.30 651.23,266.30 651.71,266.30 652.19,266.30 652.68,266.30 653.16,266.30 653.64,266.30 654.13,266.30 654.61,266.30 655.09,266.30 655.58,266.30 656.06,266.30 656.54,266.30 657.03,266.30 657.51,266.30 657.99,266.30 658.48,266.30 658.96,266.30 659.44,266.30 659.93,266.30 660.41,266.30 660.89,266.30 661.38,266.30 661.86,266.30 662.34,266.30 662.83,266.30 663.31,266.30 663.80,266.30 664.28,266.30 664.76,266.30 665.25,266.30 665.73,266.30 666.21,266.30 666.70,266.30 667.18,266.30 667.66,266.30 668.15,266.30 668.63,266.30 669.11,266.30 669.60,266.30 670.08,266.30 670.56,266.30 671.05,266.30 671.53,266.30 672.01,266.30 672.50,266.30 672.98,266.30 673.46,266.30 673.95,266.30 674.43,266.30 674.91,266.30 675.40,266.30 675.88,266.30 676.36,266.30 676.85,266.30 677.33,266.30 677.82,266.30 678.30,266.30 678.78,266.30 679.27,266.30 679.75,266.30 680.23,266.30 680.72,266.30 681.20,266.30 681.68,266.30 682.17,266.30 682.65,266.30 683.13,266.30 683.62,266.30 684.10,266.30 684.58,266.30 685.07,266.30 685.55,266.30 686.03,266.30 686.52,266.30 687.00,266.30 687.48,266.30 687.97,266.30 688.45,266.30 688.93,266.30 689.42,266.30 689.90,266.30 690.39,266.30 690.87,266.30 691.35,266.30 691.84,266.30 692.32,266.30 692.80,266.30 693.29,266.30 693.77,266.30 694.25,266.30 694.74,266.30 695.22,266.30 695.70,266.30 696.19,266.30 696.67,266.30 697.15,266.30 697.64,266.30 698.12,266.30 698.60,266.30 699.09,266.30 699.57,266.30 700.05,266.30 700.54,266.30 701.02,266.30 701.50,266.30 701.99,266.30 702.47,266.30 702.95,266.30 703.44,266.30 703.92,266.30 704.41,266.30 704.89,266.30 705.37,266.30 705.86,266.30 706.34,266.30 706.82,266.30 707.31,266.30 707.79,266.30 708.27,266.30 708.76,266.30 709.24,266.30 709.72,266.30 710.21,266.30 710.69,266.30 711.17,266.30 711.66,266.30 712.14,266.30 712.62,266.30 713.11,266.30 713.59,266.30 714.07,266.30 714.56,266.30 715.04,266.30 715.52,266.30" fill="none" stroke="#377EB8" stroke-width="1.5" stroke-linecap="round" stroke-linejoin="round" stroke-dasharray="1.36 4.08 5.44 4.08"/>
<rect x="414.4" y="0.4" width="313.00" height="275.90" fill="none" stroke="#383838" stroke-width="1"/>
<path d="M466.00 276.30v4.6M546.13 276.30v4.6M626.26 276.30v4.6M706.39 276.30v4.6M414.40 266.30h-4.9M414.40 220.12h-4.9M414.40 173.94h-4.9M414.40 127.76h-4.9M414.40 81.58h-4.9M414.40 35.40h-4.9" stroke="#383838" stroke-width="1" fill="none"/>
<text x="466.00" y="292.90" text-anchor="middle" font-size="10.7">0</text>
<text x="546.13" y="292.90" text-anchor="middle" font-size="10.7">1</text>
<text x="626.26" y="292.90" text-anchor="middle" font-size="10.7">2</text>
<text x="706.39" y="292.90" text-anchor="middle" font-size="10.7">3</text>
<text transform="translate(403.70,266.30) rotate(-90)" x="0" y="0" text-anchor="middle" font-size="10.7">0.0</text>
<text transform="translate(403.70,220.12) rotate(-90)" x="0" y="0" text-anchor="middle" font-size="10.7">0.5</text>
<text transform="translate(403.70,173.94) rotate(-90)" x="0" y="0" text-anchor="middle" font-size="10.7">1.0</text>
<text transform="translate(403.70,127.76) rotate(-90)" x="0" y="0" text-anchor="middle" font-size="10.7">1.5</text>
<text transform="translate(403.70,81.58) rotate(-90)" x="0" y="0" text-anchor="middle" font-size="10.7">2.0</text>
<text transform="translate(403.70,35.40) rotate(-90)" x="0" y="0" text-anchor="middle" font-size="10.7">2.5</text>
<text x="570.90" y="310.70" text-anchor="middle" font-size="12.0">sex</text>
<text transform="translate(385.40,138.35) rotate(-90)" text-anchor="middle" font-size="12.2">Density</text>
<line x1="638.70" y1="11.30" x2="655.00" y2="11.30" stroke="#000000" stroke-width="1.5" stroke-linecap="round"/>
<text x="662.60" y="14.50" font-size="9.0">MLE</text>
<line x1="638.70" y1="22.30" x2="655.00" y2="22.30" stroke="#E41A1C" stroke-width="1.5" stroke-linecap="round" stroke-dasharray="5.44 5.44"/>
<text x="662.60" y="25.50" font-size="9.0">Claude_Mod</text>
<line x1="638.70" y1="33.30" x2="655.00" y2="33.30" stroke="#4DAF4A" stroke-width="1.5" stroke-linecap="round" stroke-dasharray="1.36 4.08"/>
<text x="662.60" y="36.50" font-size="9.0">Gemini_Mod</text>
<line x1="638.70" y1="43.90" x2="655.00" y2="43.90" stroke="#377EB8" stroke-width="1.5" stroke-linecap="round" stroke-dasharray="1.36 4.08 5.44 4.08"/>
<text x="662.60" y="47.10" font-size="9.0">ChatGPT_Mod</text>
<path d="M50.90 339.60V615.20M123.00 339.60V615.20M195.10 339.60V615.20M267.20 339.60V615.20M339.30 339.60V615.20M38.50 605.20H351.30M38.50 551.80H351.30M38.50 498.40H351.30M38.50 445.00H351.30M38.50 391.60H351.30" stroke="#c8c8c8" stroke-width="0.8" stroke-dasharray="1.0 1.72" fill="none"/>
<polyline points="50.90,605.16 51.38,605.16 51.86,605.15 52.34,605.15 52.83,605.15 53.31,605.15 53.79,605.14 54.27,605.14 54.75,605.14 55.23,605.13 55.71,605.13 56.20,605.12 56.68,605.12 57.16,605.11 57.64,605.11 58.12,605.10 58.60,605.10 59.08,605.09 59.57,605.08 60.05,605.08 60.53,605.07 61.01,605.06 61.49,605.06 61.97,605.05 62.46,605.04 62.94,605.03 63.42,605.02 63.90,605.01 64.38,605.00 64.86,604.99 65.34,604.98 65.83,604.96 66.31,604.95 66.79,604.94 67.27,604.92 67.75,604.91 68.23,604.89 68.71,604.88 69.20,604.86 69.68,604.84 70.16,604.82 70.64,604.80 71.12,604.78 71.60,604.76 72.08,604.74 72.57,604.72 73.05,604.69 73.53,604.66 74.01,604.64 74.49,604.61 74.97,604.58 75.45,604.55 75.94,604.52 76.42,604.48 76.90,604.45 77.38,604.41 77.86,604.37 78.34,604.33 78.83,604.29 79.31,604.24 79.79,604.20 80.27,604.15 80.75,604.10 81.23,604.05 81.71,603.99 82.20,603.94 82.68,603.88 83.16,603.82 83.64,603.75 84.12,603.69 84.60,603.62 85.08,603.55 85.57,603.47 86.05,603.40 86.53,603.32 87.01,603.23 87.49,603.14 87.97,603.05 88.45,602.96 88.94,602.86 89.42,602.76 89.90,602.66 90.38,602.55 90.86,602.44 91.34,602.32 91.82,602.20 92.31,602.07 92.79,601.94 93.27,601.81 93.75,601.67 94.23,601.53 94.71,601.38 95.20,601.22 95.68,601.06 96.16,600.90 96.64,600.73 97.12,600.55 97.60,600.37 98.08,600.18 98.57,599.99 99.05,599.79 99.53,599.58 100.01,599.37 100.49,599.15 100.97,598.92 101.45,598.69 101.94,598.45 102.42,598.20 102.90,597.95 103.38,597.68 103.86,597.41 104.34,597.13 104.82,596.84 105.31,596.55 105.79,596.25 106.27,595.93 106.75,595.61 107.23,595.28 107.71,594.94 108.19,594.60 108.68,594.24 109.16,593.87 109.64,593.49 110.12,593.11 110.60,592.71 111.08,592.31 111.57,591.89 112.05,591.46 112.53,591.03 113.01,590.58 113.49,590.12 113.97,589.65 114.45,589.17 114.94,588.68 115.42,588.18 115.90,587.66 116.38,587.14 116.86,586.60 117.34,586.05 117.82,585.49 118.31,584.92 118.79,584.34 119.27,583.74 119.75,583.13 120.23,582.51 120.71,581.88 121.19,581.24 121.68,580.58 122.16,579.92 122.64,579.24 123.12,578.54 123.60,577.84 124.08,577.12 124.56,576.39 125.05,575.65 125.53,574.90 126.01,574.13 126.49,573.35 126.97,572.57 127.45,571.76 127.94,570.95 128.42,570.12 128.90,569.29 129.38,568.44 129.86,567.58 130.34,566.71 130.82,565.82 131.31,564.93 131.79,564.03 132.27,563.11 132.75,562.18 133.23,561.25 133.71,560.30 134.19,559.35 134.68,558.38 135.16,557.40 135.64,556.42 136.12,555.42 136.60,554.42 137.08,553.41 137.56,552.39 138.05,551.37 138.53,550.33 139.01,549.29 139.49,548.24 139.97,547.19 140.45,546.13 140.93,545.06 141.42,543.99 141.90,542.91 142.38,541.83 142.86,540.75 143.34,539.66 143.82,538.56 144.31,537.47 144.79,536.37 145.27,535.27 145.75,534.17 146.23,533.07 146.71,531.97 147.19,530.87 147.68,529.77 148.16,528.67 148.64,527.57 149.12,526.47 149.60,525.38 150.08,524.29 150.56,523.20 151.05,522.12 151.53,521.05 152.01,519.97 152.49,518.91 152.97,517.85 153.45,516.80 153.93,515.75 154.42,514.72 154.90,513.69 155.38,512.67 155.86,511.67 156.34,510.67 156.82,509.68 157.30,508.71 157.79,507.75 158.27,506.80 158.75,505.86 159.23,504.94 159.71,504.03 160.19,503.14 160.67,502.26 161.16,501.40 161.64,500.56 162.12,499.73 162.60,498.92 163.08,498.13 163.56,497.36 164.05,496.61 164.53,495.87 165.01,495.16 165.49,494.47 165.97,493.80 166.45,493.15 166.93,492.52 167.42,491.91 167.90,491.33 168.38,490.77 168.86,490.23 169.34,489.72 169.82,489.23 170.30,488.76 170.79,488.32 171.27,487.91 171.75,487.52 172.23,487.16 172.71,486.82 173.19,486.51 173.67,486.22 174.16,485.96 174.64,485.73 175.12,485.52 175.60,485.34 176.08,485.19 176.56,485.07 177.04,484.97 177.53,484.90 178.01,484.86 178.49,484.84 178.97,484.85 179.45,484.89 179.93,484.96 180.42,485.05 180.90,485.18 181.38,485.32 181.86,485.50 182.34,485.70 182.82,485.93 183.30,486.19 183.79,486.47 184.27,486.78 184.75,487.12 185.23,487.48 185.71,487.86 186.19,488.27 186.67,488.71 187.16,489.17 187.64,489.66 188.12,490.17 188.60,490.70 189.08,491.26 189.56,491.84 190.04,492.45 190.53,493.07 191.01,493.72 191.49,494.39 191.97,495.08 192.45,495.79 192.93,496.52 193.41,497.27 193.90,498.04 194.38,498.83 194.86,499.64 195.34,500.46 195.82,501.31 196.30,502.16 196.79,503.04 197.27,503.93 197.75,504.84 198.23,505.76 198.71,506.69 199.19,507.64 199.67,508.60 200.16,509.57 200.64,510.56 201.12,511.55 201.60,512.56 202.08,513.57 202.56,514.60 203.04,515.63 203.53,516.68 204.01,517.73 204.49,518.79 204.97,519.85 205.45,520.92 205.93,522.00 206.41,523.08 206.90,524.17 207.38,525.26 207.86,526.35 208.34,527.44 208.82,528.54 209.30,529.64 209.78,530.74 210.27,531.84 210.75,532.95 211.23,534.05 211.71,535.15 212.19,536.25 212.67,537.34 213.16,538.44 213.64,539.53 214.12,540.62 214.60,541.71 215.08,542.79 215.56,543.87 216.04,544.94 216.53,546.00 217.01,547.07 217.49,548.12 217.97,549.17 218.45,550.21 218.93,551.25 219.41,552.27 219.90,553.29 220.38,554.31 220.86,555.31 221.34,556.30 221.82,557.29 222.30,558.27 222.78,559.23 223.27,560.19 223.75,561.14 224.23,562.08 224.71,563.00 225.19,563.92 225.67,564.83 226.15,565.72 226.64,566.61 227.12,567.48 227.60,568.34 228.08,569.19 228.56,570.03 229.04,570.86 229.53,571.67 230.01,572.47 230.49,573.26 230.97,574.04 231.45,574.81 231.93,575.57 232.41,576.31 232.90,577.04 233.38,577.76 233.86,578.46 234.34,579.16 234.82,579.84 235.30,580.51 235.78,581.16 236.27,581.81 236.75,582.44 237.23,583.06 237.71,583.67 238.19,584.27 238.67,584.85 239.15,585.43 239.64,585.99 240.12,586.54 240.60,587.08 241.08,587.60 241.56,588.12 242.04,588.62 242.52,589.11 243.01,589.60 243.49,590.07 243.97,590.53 244.45,590.97 244.93,591.41 245.41,591.84 245.89,592.26 246.38,592.67 246.86,593.06 247.34,593.45 247.82,593.83 248.30,594.20 248.78,594.55 249.27,594.90 249.75,595.24 250.23,595.57 250.71,595.90 251.19,596.21 251.67,596.51 252.15,596.81 252.64,597.10 253.12,597.38 253.60,597.65 254.08,597.92 254.56,598.17 255.04,598.42 255.52,598.66 256.01,598.90 256.49,599.12 256.97,599.35 257.45,599.56 257.93,599.77 258.41,599.97 258.89,600.16 259.38,600.35 259.86,600.53 260.34,600.71 260.82,600.88 261.30,601.05 261.78,601.21 262.26,601.36 262.75,601.51 263.23,601.65 263.71,601.79 264.19,601.93 264.67,602.06 265.15,602.19 265.64,602.31 266.12,602.42 266.60,602.54 267.08,602.65 267.56,602.75 268.04,602.85 268.52,602.95 269.01,603.04 269.49,603.13 269.97,603.22 270.45,603.31 270.93,603.39 271.41,603.46 271.89,603.54 272.38,603.61 272.86,603.68 273.34,603.75 273.82,603.81 274.30,603.87 274.78,603.93 275.26,603.99 275.75,604.04 276.23,604.09 276.71,604.14 277.19,604.19 277.67,604.24 278.15,604.28 278.63,604.32 279.12,604.37 279.60,604.40 280.08,604.44 280.56,604.48 281.04,604.51 281.52,604.54 282.01,604.58 282.49,604.61 282.97,604.63 283.45,604.66 283.93,604.69 284.41,604.71 284.89,604.74 285.38,604.76 285.86,604.78 286.34,604.80 286.82,604.82 287.30,604.84 287.78,604.86 288.26,604.88 288.75,604.89 289.23,604.91 289.71,604.92 290.19,604.94 290.67,604.95 291.15,604.96 291.63,604.98 292.12,604.99 292.60,605.00 293.08,605.01 293.56,605.02 294.04,605.03 294.52,605.04 295.00,605.05 295.49,605.05 295.97,605.06 296.45,605.07 296.93,605.08 297.41,605.08 297.89,605.09 298.38,605.10 298.86,605.10 299.34,605.11 299.82,605.11 300.30,605.12 300.78,605.12 301.26,605.13 301.75,605.13 302.23,605.13 302.71,605.14 303.19,605.14 303.67,605.15 304.15,605.15 304.63,605.15 305.12,605.15 305.60,605.16 306.08,605.16 306.56,605.16 307.04,605.16 307.52,605.17 308.00,605.17 308.49,605.17 308.97,605.17 309.45,605.17 309.93,605.18 310.41,605.18 310.89,605.18 311.37,605.18 311.86,605.18 312.34,605.18 312.82,605.18 313.30,605.18 313.78,605.18 314.26,605.19 314.75,605.19 315.23,605.19 315.71,605.19 316.19,605.19 316.67,605.19 317.15,605.19 317.63,605.19 318.12,605.19 318.60,605.19 319.08,605.19 319.56,605.19 320.04,605.19 320.52,605.19 321.00,605.19 321.49,605.19 321.97,605.20 322.45,605.20 322.93,605.20 323.41,605.20 323.89,605.20 324.37,605.20 324.86,605.20 325.34,605.20 325.82,605.20 326.30,605.20 326.78,605.20 327.26,605.20 327.74,605.20 328.23,605.20 328.71,605.20 329.19,605.20 329.67,605.20 330.15,605.20 330.63,605.20 331.12,605.20 331.60,605.20 332.08,605.20 332.56,605.20 333.04,605.20 333.52,605.20 334.00,605.20 334.49,605.20 334.97,605.20 335.45,605.20 335.93,605.20 336.41,605.20 336.89,605.20 337.37,605.20 337.86,605.20 338.34,605.20 338.82,605.20 339.30,605.20" fill="none" stroke="#000000" stroke-width="1.5" stroke-linecap="round" stroke-linejoin="round"/>
<polyline points="50.90,605.16 51.38,605.16 51.86,605.16 52.34,605.16 52.83,605.16 53.31,605.15 53.79,605.15 54.27,605.15 54.75,605.15 55.23,605.14 55.71,605.14 56.20,605.14 56.68,605.13 57.16,605.13 57.64,605.13 58.12,605.12 58.60,605.12 59.08,605.11 59.57,605.11 60.05,605.10 60.53,605.10 61.01,605.09 61.49,605.09 61.97,605.08 62.46,605.08 62.94,605.07 63.42,605.07 63.90,605.06 64.38,605.05 64.86,605.04 65.34,605.04 65.83,605.03 66.31,605.02 66.79,605.01 67.27,605.00 67.75,604.99 68.23,604.98 68.71,604.97 69.20,604.96 69.68,604.95 70.16,604.94 70.64,604.93 71.12,604.91 71.60,604.90 72.08,604.88 72.57,604.87 73.05,604.85 73.53,604.84 74.01,604.82 74.49,604.80 74.97,604.79 75.45,604.77 75.94,604.75 76.42,604.73 76.90,604.71 77.38,604.68 77.86,604.66 78.34,604.64 78.83,604.61 79.31,604.59 79.79,604.56 80.27,604.53 80.75,604.50 81.23,604.47 81.71,604.44 82.20,604.41 82.68,604.38 83.16,604.34 83.64,604.31 84.12,604.27 84.60,604.23 85.08,604.19 85.57,604.15 86.05,604.10 86.53,604.06 87.01,604.01 87.49,603.96 87.97,603.91 88.45,603.86 88.94,603.81 89.42,603.75 89.90,603.69 90.38,603.63 90.86,603.57 91.34,603.51 91.82,603.44 92.31,603.37 92.79,603.30 93.27,603.23 93.75,603.15 94.23,603.07 94.71,602.99 95.20,602.91 95.68,602.82 96.16,602.74 96.64,602.64 97.12,602.55 97.60,602.45 98.08,602.35 98.57,602.25 99.05,602.14 99.53,602.03 100.01,601.91 100.49,601.80 100.97,601.68 101.45,601.55 101.94,601.42 102.42,601.29 102.90,601.15 103.38,601.01 103.86,600.87 104.34,600.72 104.82,600.57 105.31,600.41 105.79,600.25 106.27,600.08 106.75,599.91 107.23,599.74 107.71,599.56 108.19,599.37 108.68,599.18 109.16,598.99 109.64,598.79 110.12,598.58 110.60,598.37 111.08,598.15 111.57,597.93 112.05,597.70 112.53,597.47 113.01,597.23 113.49,596.98 113.97,596.73 114.45,596.48 114.94,596.21 115.42,595.94 115.90,595.67 116.38,595.38 116.86,595.09 117.34,594.80 117.82,594.49 118.31,594.18 118.79,593.87 119.27,593.54 119.75,593.21 120.23,592.87 120.71,592.53 121.19,592.17 121.68,591.81 122.16,591.45 122.64,591.07 123.12,590.69 123.60,590.30 124.08,589.90 124.56,589.49 125.05,589.08 125.53,588.65 126.01,588.22 126.49,587.79 126.97,587.34 127.45,586.88 127.94,586.42 128.42,585.95 128.90,585.47 129.38,584.98 129.86,584.49 130.34,583.98 130.82,583.47 131.31,582.95 131.79,582.42 132.27,581.88 132.75,581.33 133.23,580.77 133.71,580.21 134.19,579.64 134.68,579.06 135.16,578.47 135.64,577.87 136.12,577.26 136.60,576.65 137.08,576.03 137.56,575.39 138.05,574.75 138.53,574.11 139.01,573.45 139.49,572.79 139.97,572.12 140.45,571.44 140.93,570.75 141.42,570.05 141.90,569.35 142.38,568.64 142.86,567.92 143.34,567.20 143.82,566.47 144.31,565.73 144.79,564.98 145.27,564.23 145.75,563.47 146.23,562.70 146.71,561.93 147.19,561.15 147.68,560.36 148.16,559.57 148.64,558.78 149.12,557.98 149.60,557.17 150.08,556.36 150.56,555.54 151.05,554.72 151.53,553.89 152.01,553.06 152.49,552.23 152.97,551.39 153.45,550.55 153.93,549.70 154.42,548.85 154.90,548.00 155.38,547.15 155.86,546.30 156.34,545.44 156.82,544.58 157.30,543.72 157.79,542.86 158.27,542.00 158.75,541.13 159.23,540.27 159.71,539.41 160.19,538.55 160.67,537.68 161.16,536.82 161.64,535.96 162.12,535.11 162.60,534.25 163.08,533.40 163.56,532.55 164.05,531.70 164.53,530.86 165.01,530.02 165.49,529.18 165.97,528.35 166.45,527.52 166.93,526.70 167.42,525.88 167.90,525.07 168.38,524.27 168.86,523.47 169.34,522.68 169.82,521.90 170.30,521.12 170.79,520.35 171.27,519.59 171.75,518.84 172.23,518.10 172.71,517.36 173.19,516.64 173.67,515.93 174.16,515.22 174.64,514.53 175.12,513.85 175.60,513.18 176.08,512.52 176.56,511.87 177.04,511.24 177.53,510.62 178.01,510.01 178.49,509.41 178.97,508.83 179.45,508.26 179.93,507.70 180.42,507.16 180.90,506.64 181.38,506.13 181.86,505.63 182.34,505.15 182.82,504.68 183.30,504.23 183.79,503.80 184.27,503.38 184.75,502.98 185.23,502.60 185.71,502.23 186.19,501.88 186.67,501.55 187.16,501.24 187.64,500.94 188.12,500.66 188.60,500.40 189.08,500.16 189.56,499.93 190.04,499.72 190.53,499.54 191.01,499.37 191.49,499.22 191.97,499.08 192.45,498.97 192.93,498.87 193.41,498.80 193.90,498.74 194.38,498.70 194.86,498.68 195.34,498.68 195.82,498.70 196.30,498.74 196.79,498.80 197.27,498.87 197.75,498.97 198.23,499.08 198.71,499.22 199.19,499.37 199.67,499.54 200.16,499.72 200.64,499.93 201.12,500.16 201.60,500.40 202.08,500.66 202.56,500.94 203.04,501.24 203.53,501.55 204.01,501.88 204.49,502.23 204.97,502.60 205.45,502.98 205.93,503.38 206.41,503.80 206.90,504.23 207.38,504.68 207.86,505.15 208.34,505.63 208.82,506.13 209.30,506.64 209.78,507.16 210.27,507.70 210.75,508.26 211.23,508.83 211.71,509.41 212.19,510.01 212.67,510.62 213.16,511.24 213.64,511.87 214.12,512.52 214.60,513.18 215.08,513.85 215.56,514.53 216.04,515.22 216.53,515.93 217.01,516.64 217.49,517.36 217.97,518.10 218.45,518.84 218.93,519.59 219.41,520.35 219.90,521.12 220.38,521.90 220.86,522.68 221.34,523.47 221.82,524.27 222.30,525.07 222.78,525.88 223.27,526.70 223.75,527.52 224.23,528.35 224.71,529.18 225.19,530.02 225.67,530.86 226.15,531.70 226.64,532.55 227.12,533.40 227.60,534.25 228.08,535.11 228.56,535.96 229.04,536.82 229.53,537.68 230.01,538.55 230.49,539.41 230.97,540.27 231.45,541.13 231.93,542.00 232.41,542.86 232.90,543.72 233.38,544.58 233.86,545.44 234.34,546.30 234.82,547.15 235.30,548.00 235.78,548.85 236.27,549.70 236.75,550.55 237.23,551.39 237.71,552.23 238.19,553.06 238.67,553.89 239.15,554.72 239.64,555.54 240.12,556.36 240.60,557.17 241.08,557.98 241.56,558.78 242.04,559.57 242.52,560.36 243.01,561.15 243.49,561.93 243.97,562.70 244.45,563.47 244.93,564.23 245.41,564.98 245.89,565.73 246.38,566.47 246.86,567.20 247.34,567.92 247.82,568.64 248.30,569.35 248.78,570.05 249.27,570.75 249.75,571.44 250.23,572.12 250.71,572.79 251.19,573.45 251.67,574.11 252.15,574.75 252.64,575.39 253.12,576.03 253.60,576.65 254.08,577.26 254.56,577.87 255.04,578.47 255.52,579.06 256.01,579.64 256.49,580.21 256.97,580.77 257.45,581.33 257.93,581.88 258.41,582.42 258.89,582.95 259.38,583.47 259.86,583.98 260.34,584.49 260.82,584.98 261.30,585.47 261.78,585.95 262.26,586.42 262.75,586.88 263.23,587.34 263.71,587.79 264.19,588.22 264.67,588.65 265.15,589.08 265.64,589.49 266.12,589.90 266.60,590.30 267.08,590.69 267.56,591.07 268.04,591.45 268.52,591.81 269.01,592.17 269.49,592.53 269.97,592.87 270.45,593.21 270.93,593.54 271.41,593.87 271.89,594.18 272.38,594.49 272.86,594.80 273.34,595.09 273.82,595.38 274.30,595.67 274.78,595.94 275.26,596.21 275.75,596.48 276.23,596.73 276.71,596.98 277.19,597.23 277.67,597.47 278.15,597.70 278.63,597.93 279.12,598.15 279.60,598.37 280.08,598.58 280.56,598.79 281.04,598.99 281.52,599.18 282.01,599.37 282.49,599.56 282.97,599.74 283.45,599.91 283.93,600.08 284.41,600.25 284.89,600.41 285.38,600.57 285.86,600.72 286.34,600.87 286.82,601.01 287.30,601.15 287.78,601.29 288.26,601.42 288.75,601.55 289.23,601.68 289.71,601.80 290.19,601.91 290.67,602.03 291.15,602.14 291.63,602.25 292.12,602.35 292.60,602.45 293.08,602.55 293.56,602.64 294.04,602.74 294.52,602.82 295.00,602.91 295.49,602.99 295.97,603.07 296.45,603.15 296.93,603.23 297.41,603.30 297.89,603.37 298.38,603.44 298.86,603.51 299.34,603.57 299.82,603.63 300.30,603.69 300.78,603.75 301.26,603.81 301.75,603.86 302.23,603.91 302.71,603.96 303.19,604.01 303.67,604.06 304.15,604.10 304.63,604.15 305.12,604.19 305.60,604.23 306.08,604.27 306.56,604.31 307.04,604.34 307.52,604.38 308.00,604.41 308.49,604.44 308.97,604.47 309.45,604.50 309.93,604.53 310.41,604.56 310.89,604.59 311.37,604.61 311.86,604.64 312.34,604.66 312.82,604.68 313.30,604.71 313.78,604.73 314.26,604.75 314.75,604.77 315.23,604.79 315.71,604.80 316.19,604.82 316.67,604.84 317.15,604.85 317.63,604.87 318.12,604.88 318.60,604.90 319.08,604.91 319.56,604.93 320.04,604.94 320.52,604.95 321.00,604.96 321.49,604.97 321.97,604.98 322.45,604.99 322.93,605.00 323.41,605.01 323.89,605.02 324.37,605.03 324.86,605.04 325.34,605.04 325.82,605.05 326.30,605.06 326.78,605.07 327.26,605.07 327.74,605.08 328.23,605.08 328.71,605.09 329.19,605.09 329.67,605.10 330.15,605.10 330.63,605.11 331.12,605.11 331.60,605.12 332.08,605.12 332.56,605.13 333.04,605.13 333.52,605.13 334.00,605.14 334.49,605.14 334.97,605.14 335.45,605.15 335.93,605.15 336.41,605.15 336.89,605.15 337.37,605.16 337.86,605.16 338.34,605.16 338.82,605.16 339.30,605.16" fill="none" stroke="#E41A1C" stroke-width="1.5" stroke-linecap="round" stroke-linejoin="round" stroke-dasharray="5.44 5.44"/>
<polyline points="50.90,605.20 51.38,605.20 51.86,605.20 52.34,605.20 52.83,605.20 53.31,605.20 53.79,605.20 54.27,605.20 54.75,605.20 55.23,605.20 55.71,605.20 56.20,605.20 56.68,605.20 57.16,605.20 57.64,605.20 58.12,605.20 58.60,605.20 59.08,605.20 59.57,605.20 60.05,605.20 60.53,605.20 61.01,605.20 61.49,605.20 61.97,605.20 62.46,605.20 62.94,605.20 63.42,605.20 63.90,605.20 64.38,605.20 64.86,605.20 65.34,605.20 65.83,605.20 66.31,605.20 66.79,605.20 67.27,605.20 67.75,605.20 68.23,605.20 68.71,605.20 69.20,605.20 69.68,605.20 70.16,605.20 70.64,605.20 71.12,605.20 71.60,605.20 72.08,605.20 72.57,605.20 73.05,605.20 73.53,605.20 74.01,605.20 74.49,605.20 74.97,605.20 75.45,605.20 75.94,605.19 76.42,605.19 76.90,605.19 77.38,605.19 77.86,605.19 78.34,605.19 78.83,605.19 79.31,605.19 79.79,605.19 80.27,605.18 80.75,605.18 81.23,605.18 81.71,605.18 82.20,605.18 82.68,605.17 83.16,605.17 83.64,605.17 84.12,605.16 84.60,605.16 85.08,605.15 85.57,605.15 86.05,605.14 86.53,605.13 87.01,605.13 87.49,605.12 87.97,605.11 88.45,605.10 88.94,605.09 89.42,605.08 89.90,605.06 90.38,605.05 90.86,605.03 91.34,605.02 91.82,605.00 92.31,604.98 92.79,604.95 93.27,604.93 93.75,604.90 94.23,604.87 94.71,604.84 95.20,604.80 95.68,604.76 96.16,604.72 96.64,604.67 97.12,604.62 97.60,604.56 98.08,604.50 98.57,604.44 99.05,604.36 99.53,604.29 100.01,604.20 100.49,604.11 100.97,604.01 101.45,603.91 101.94,603.79 102.42,603.67 102.90,603.54 103.38,603.39 103.86,603.24 104.34,603.07 104.82,602.89 105.31,602.70 105.79,602.49 106.27,602.27 106.75,602.04 107.23,601.78 107.71,601.51 108.19,601.22 108.68,600.91 109.16,600.58 109.64,600.23 110.12,599.85 110.60,599.45 111.08,599.02 111.57,598.57 112.05,598.09 112.53,597.58 113.01,597.04 113.49,596.47 113.97,595.86 114.45,595.22 114.94,594.54 115.42,593.82 115.90,593.07 116.38,592.27 116.86,591.43 117.34,590.55 117.82,589.62 118.31,588.65 118.79,587.62 119.27,586.55 119.75,585.42 120.23,584.24 120.71,583.01 121.19,581.72 121.68,580.38 122.16,578.97 122.64,577.51 123.12,575.98 123.60,574.39 124.08,572.75 124.56,571.03 125.05,569.25 125.53,567.41 126.01,565.50 126.49,563.52 126.97,561.48 127.45,559.36 127.94,557.18 128.42,554.94 128.90,552.62 129.38,550.24 129.86,547.79 130.34,545.27 130.82,542.69 131.31,540.04 131.79,537.33 132.27,534.56 132.75,531.72 133.23,528.83 133.71,525.88 134.19,522.87 134.68,519.82 135.16,516.71 135.64,513.55 136.12,510.35 136.60,507.11 137.08,503.82 137.56,500.51 138.05,497.16 138.53,493.78 139.01,490.38 139.49,486.96 139.97,483.53 140.45,480.08 140.93,476.63 141.42,473.18 141.90,469.74 142.38,466.30 142.86,462.88 143.34,459.47 143.82,456.09 144.31,452.74 144.79,449.43 145.27,446.16 145.75,442.94 146.23,439.77 146.71,436.65 147.19,433.61 147.68,430.63 148.16,427.72 148.64,424.90 149.12,422.16 149.60,419.51 150.08,416.96 150.56,414.51 151.05,412.17 151.53,409.93 152.01,407.82 152.49,405.82 152.97,403.94 153.45,402.19 153.93,400.57 154.42,399.09 154.90,397.74 155.38,396.54 155.86,395.47 156.34,394.56 156.82,393.78 157.30,393.16 157.79,392.69 158.27,392.37 158.75,392.19 159.23,392.18 159.71,392.31 160.19,392.59 160.67,393.03 161.16,393.61 161.64,394.35 162.12,395.23 162.60,396.26 163.08,397.43 163.56,398.74 164.05,400.19 164.53,401.77 165.01,403.49 165.49,405.34 165.97,407.30 166.45,409.39 166.93,411.60 167.42,413.92 167.90,416.34 168.38,418.87 168.86,421.49 169.34,424.21 169.82,427.01 170.30,429.89 170.79,432.85 171.27,435.89 171.75,438.98 172.23,442.14 172.71,445.35 173.19,448.61 173.67,451.91 174.16,455.25 174.64,458.62 175.12,462.02 175.60,465.44 176.08,468.88 176.56,472.32 177.04,475.77 177.53,479.22 178.01,482.67 178.49,486.11 178.97,489.53 179.45,492.93 179.93,496.32 180.42,499.67 180.90,503.00 181.38,506.29 181.86,509.54 182.34,512.75 182.82,515.92 183.30,519.04 183.79,522.11 184.27,525.13 184.75,528.10 185.23,531.01 185.71,533.85 186.19,536.64 186.67,539.37 187.16,542.03 187.64,544.63 188.12,547.16 188.60,549.63 189.08,552.03 189.56,554.36 190.04,556.63 190.53,558.82 191.01,560.95 191.49,563.02 191.97,565.01 192.45,566.94 192.93,568.80 193.41,570.59 193.90,572.32 194.38,573.99 194.86,575.59 195.34,577.13 195.82,578.61 196.30,580.03 196.79,581.39 197.27,582.69 197.75,583.94 198.23,585.13 198.71,586.27 199.19,587.36 199.67,588.39 200.16,589.38 200.64,590.32 201.12,591.22 201.60,592.07 202.08,592.87 202.56,593.64 203.04,594.36 203.53,595.05 204.01,595.70 204.49,596.32 204.97,596.90 205.45,597.45 205.93,597.97 206.41,598.45 206.90,598.91 207.38,599.35 207.86,599.75 208.34,600.13 208.82,600.49 209.30,600.83 209.78,601.14 210.27,601.44 210.75,601.72 211.23,601.97 211.71,602.21 212.19,602.44 212.67,602.65 213.16,602.85 213.64,603.03 214.12,603.20 214.60,603.35 215.08,603.50 215.56,603.64 216.04,603.76 216.53,603.88 217.01,603.99 217.49,604.09 217.97,604.18 218.45,604.27 218.93,604.35 219.41,604.42 219.90,604.49 220.38,604.55 220.86,604.60 221.34,604.66 221.82,604.70 222.30,604.75 222.78,604.79 223.27,604.83 223.75,604.86 224.23,604.89 224.71,604.92 225.19,604.95 225.67,604.97 226.15,604.99 226.64,605.01 227.12,605.03 227.60,605.05 228.08,605.06 228.56,605.07 229.04,605.09 229.53,605.10 230.01,605.11 230.49,605.12 230.97,605.13 231.45,605.13 231.93,605.14 232.41,605.15 232.90,605.15 233.38,605.16 233.86,605.16 234.34,605.17 234.82,605.17 235.30,605.17 235.78,605.18 236.27,605.18 236.75,605.18 237.23,605.18 237.71,605.18 238.19,605.19 238.67,605.19 239.15,605.19 239.64,605.19 240.12,605.19 240.60,605.19 241.08,605.19 241.56,605.19 242.04,605.19 242.52,605.20 243.01,605.20 243.49,605.20 243.97,605.20 244.45,605.20 244.93,605.20 245.41,605.20 245.89,605.20 246.38,605.20 246.86,605.20 247.34,605.20 247.82,605.20 248.30,605.20 248.78,605.20 249.27,605.20 249.75,605.20 250.23,605.20 250.71,605.20 251.19,605.20 251.67,605.20 252.15,605.20 252.64,605.20 253.12,605.20 253.60,605.20 254.08,605.20 254.56,605.20 255.04,605.20 255.52,605.20 256.01,605.20 256.49,605.20 256.97,605.20 257.45,605.20 257.93,605.20 258.41,605.20 258.89,605.20 259.38,605.20 259.86,605.20 260.34,605.20 260.82,605.20 261.30,605.20 261.78,605.20 262.26,605.20 262.75,605.20 263.23,605.20 263.71,605.20 264.19,605.20 264.67,605.20 265.15,605.20 265.64,605.20 266.12,605.20 266.60,605.20 267.08,605.20 267.56,605.20 268.04,605.20 268.52,605.20 269.01,605.20 269.49,605.20 269.97,605.20 270.45,605.20 270.93,605.20 271.41,605.20 271.89,605.20 272.38,605.20 272.86,605.20 273.34,605.20 273.82,605.20 274.30,605.20 274.78,605.20 275.26,605.20 275.75,605.20 276.23,605.20 276.71,605.20 277.19,605.20 277.67,605.20 278.15,605.20 278.63,605.20 279.12,605.20 279.60,605.20 280.08,605.20 280.56,605.20 281.04,605.20 281.52,605.20 282.01,605.20 282.49,605.20 282.97,605.20 283.45,605.20 283.93,605.20 284.41,605.20 284.89,605.20 285.38,605.20 285.86,605.20 286.34,605.20 286.82,605.20 287.30,605.20 287.78,605.20 288.26,605.20 288.75,605.20 289.23,605.20 289.71,605.20 290.19,605.20 290.67,605.20 291.15,605.20 291.63,605.20 292.12,605.20 292.60,605.20 293.08,605.20 293.56,605.20 294.04,605.20 294.52,605.20 295.00,605.20 295.49,605.20 295.97,605.20 296.45,605.20 296.93,605.20 297.41,605.20 297.89,605.20 298.38,605.20 298.86,605.20 299.34,605.20 299.82,605.20 300.30,605.20 300.78,605.20 301.26,605.20 301.75,605.20 302.23,605.20 302.71,605.20 303.19,605.20 303.67,605.20 304.15,605.20 304.63,605.20 305.12,605.20 305.60,605.20 306.08,605.20 306.56,605.20 307.04,605.20 307.52,605.20 308.00,605.20 308.49,605.20 308.97,605.20 309.45,605.20 309.93,605.20 310.41,605.20 310.89,605.20 311.37,605.20 311.86,605.20 312.34,605.20 312.82,605.20 313.30,605.20 313.78,605.20 314.26,605.20 314.75,605.20 315.23,605.20 315.71,605.20 316.19,605.20 316.67,605.20 317.15,605.20 317.63,605.20 318.12,605.20 318.60,605.20 319.08,605.20 319.56,605.20 320.04,605.20 320.52,605.20 321.00,605.20 321.49,605.20 321.97,605.20 322.45,605.20 322.93,605.20 323.41,605.20 323.89,605.20 324.37,605.20 324.86,605.20 325.34,605.20 325.82,605.20 326.30,605.20 326.78,605.20 327.26,605.20 327.74,605.20 328.23,605.20 328.71,605.20 329.19,605.20 329.67,605.20 330.15,605.20 330.63,605.20 331.12,605.20 331.60,605.20 332.08,605.20 332.56,605.20 333.04,605.20 333.52,605.20 334.00,605.20 334.49,605.20 334.97,605.20 335.45,605.20 335.93,605.20 336.41,605.20 336.89,605.20 337.37,605.20 337.86,605.20 338.34,605.20 338.82,605.20 339.30,605.20" fill="none" stroke="#4DAF4A" stroke-width="1.5" stroke-linecap="round" stroke-linejoin="round" stroke-dasharray="1.36 4.08"/>
<polyline points="50.90,605.19 51.38,605.19 51.86,605.18 52.34,605.18 52.83,605.18 53.31,605.18 53.79,605.17 54.27,605.17 54.75,605.17 55.23,605.16 55.71,605.16 56.20,605.15 56.68,605.15 57.16,605.14 57.64,605.14 58.12,605.13 58.60,605.12 59.08,605.11 59.57,605.10 60.05,605.09 60.53,605.08 61.01,605.07 61.49,605.05 61.97,605.04 62.46,605.02 62.94,605.00 63.42,604.98 63.90,604.95 64.38,604.93 64.86,604.90 65.34,604.87 65.83,604.84 66.31,604.80 66.79,604.76 67.27,604.72 67.75,604.67 68.23,604.62 68.71,604.57 69.20,604.51 69.68,604.44 70.16,604.37 70.64,604.29 71.12,604.21 71.60,604.12 72.08,604.02 72.57,603.92 73.05,603.80 73.53,603.68 74.01,603.55 74.49,603.41 74.97,603.25 75.45,603.09 75.94,602.91 76.42,602.72 76.90,602.51 77.38,602.30 77.86,602.06 78.34,601.81 78.83,601.54 79.31,601.25 79.79,600.94 80.27,600.61 80.75,600.26 81.23,599.89 81.71,599.49 82.20,599.07 82.68,598.62 83.16,598.14 83.64,597.63 84.12,597.09 84.60,596.52 85.08,595.92 85.57,595.28 86.05,594.61 86.53,593.90 87.01,593.15 87.49,592.35 87.97,591.52 88.45,590.64 88.94,589.72 89.42,588.74 89.90,587.73 90.38,586.66 90.86,585.54 91.34,584.36 91.82,583.14 92.31,581.85 92.79,580.51 93.27,579.11 93.75,577.66 94.23,576.14 94.71,574.56 95.20,572.91 95.68,571.21 96.16,569.43 96.64,567.60 97.12,565.69 97.60,563.72 98.08,561.68 98.57,559.58 99.05,557.40 99.53,555.16 100.01,552.85 100.49,550.48 100.97,548.03 101.45,545.52 101.94,542.95 102.42,540.31 102.90,537.60 103.38,534.84 103.86,532.01 104.34,529.12 104.82,526.18 105.31,523.18 105.79,520.12 106.27,517.02 106.75,513.87 107.23,510.67 107.71,507.43 108.19,504.15 108.68,500.84 109.16,497.49 109.64,494.12 110.12,490.72 110.60,487.31 111.08,483.87 111.57,480.43 112.05,476.98 112.53,473.53 113.01,470.08 113.49,466.64 113.97,463.22 114.45,459.81 114.94,456.43 115.42,453.08 115.90,449.76 116.38,446.49 116.86,443.26 117.34,440.08 117.82,436.96 118.31,433.91 118.79,430.92 119.27,428.01 119.75,425.18 120.23,422.43 120.71,419.77 121.19,417.21 121.68,414.75 122.16,412.40 122.64,410.15 123.12,408.02 123.60,406.01 124.08,404.12 124.56,402.36 125.05,400.73 125.53,399.23 126.01,397.87 126.49,396.65 126.97,395.57 127.45,394.64 127.94,393.85 128.42,393.22 128.90,392.73 129.38,392.39 129.86,392.20 130.34,392.17 130.82,392.29 131.31,392.56 131.79,392.98 132.27,393.55 132.75,394.27 133.23,395.14 133.71,396.15 134.19,397.31 134.68,398.60 135.16,400.04 135.64,401.61 136.12,403.31 136.60,405.15 137.08,407.10 137.56,409.18 138.05,411.37 138.53,413.68 139.01,416.09 139.49,418.61 139.97,421.22 140.45,423.93 140.93,426.72 141.42,429.60 141.90,432.56 142.38,435.58 142.86,438.67 143.34,441.82 143.82,445.03 144.31,448.28 144.79,451.58 145.27,454.92 145.75,458.29 146.23,461.68 146.71,465.10 147.19,468.53 147.68,471.98 148.16,475.43 148.64,478.88 149.12,482.32 149.60,485.76 150.08,489.19 150.56,492.59 151.05,495.98 151.53,499.34 152.01,502.67 152.49,505.96 152.97,509.22 153.45,512.43 153.93,515.61 154.42,518.73 154.90,521.81 155.38,524.83 155.86,527.80 156.34,530.72 156.82,533.57 157.30,536.37 157.79,539.10 158.27,541.77 158.75,544.37 159.23,546.91 159.71,549.39 160.19,551.79 160.67,554.13 161.16,556.40 161.64,558.61 162.12,560.74 162.60,562.81 163.08,564.81 163.56,566.75 164.05,568.61 164.53,570.42 165.01,572.15 165.49,573.82 165.97,575.43 166.45,576.98 166.93,578.47 167.42,579.89 167.90,581.26 168.38,582.57 168.86,583.82 169.34,585.01 169.82,586.16 170.30,587.25 170.79,588.29 171.27,589.28 171.75,590.23 172.23,591.13 172.71,591.98 173.19,592.79 173.67,593.56 174.16,594.29 174.64,594.98 175.12,595.64 175.60,596.26 176.08,596.84 176.56,597.39 177.04,597.92 177.53,598.41 178.01,598.87 178.49,599.30 178.97,599.71 179.45,600.10 179.93,600.46 180.42,600.80 180.90,601.11 181.38,601.41 181.86,601.69 182.34,601.95 182.82,602.19 183.30,602.42 183.79,602.63 184.27,602.83 184.75,603.01 185.23,603.18 185.71,603.34 186.19,603.49 186.67,603.62 187.16,603.75 187.64,603.87 188.12,603.98 188.60,604.08 189.08,604.17 189.56,604.26 190.04,604.34 190.53,604.41 191.01,604.48 191.49,604.54 191.97,604.60 192.45,604.65 192.93,604.70 193.41,604.74 193.90,604.79 194.38,604.82 194.86,604.86 195.34,604.89 195.82,604.92 196.30,604.94 196.79,604.97 197.27,604.99 197.75,605.01 198.23,605.03 198.71,605.04 199.19,605.06 199.67,605.07 200.16,605.09 200.64,605.10 201.12,605.11 201.60,605.12 202.08,605.12 202.56,605.13 203.04,605.14 203.53,605.15 204.01,605.15 204.49,605.16 204.97,605.16 205.45,605.16 205.93,605.17 206.41,605.17 206.90,605.17 207.38,605.18 207.86,605.18 208.34,605.18 208.82,605.18 209.30,605.19 209.78,605.19 210.27,605.19 210.75,605.19 211.23,605.19 211.71,605.19 212.19,605.19 212.67,605.19 213.16,605.19 213.64,605.20 214.12,605.20 214.60,605.20 215.08,605.20 215.56,605.20 216.04,605.20 216.53,605.20 217.01,605.20 217.49,605.20 217.97,605.20 218.45,605.20 218.93,605.20 219.41,605.20 219.90,605.20 220.38,605.20 220.86,605.20 221.34,605.20 221.82,605.20 222.30,605.20 222.78,605.20 223.27,605.20 223.75,605.20 224.23,605.20 224.71,605.20 225.19,605.20 225.67,605.20 226.15,605.20 226.64,605.20 227.12,605.20 227.60,605.20 228.08,605.20 228.56,605.20 229.04,605.20 229.53,605.20 230.01,605.20 230.49,605.20 230.97,605.20 231.45,605.20 231.93,605.20 232.41,605.20 232.90,605.20 233.38,605.20 233.86,605.20 234.34,605.20 234.82,605.20 235.30,605.20 235.78,605.20 236.27,605.20 236.75,605.20 237.23,605.20 237.71,605.20 238.19,605.20 238.67,605.20 239.15,605.20 239.64,605.20 240.12,605.20 240.60,605.20 241.08,605.20 241.56,605.20 242.04,605.20 242.52,605.20 243.01,605.20 243.49,605.20 243.97,605.20 244.45,605.20 244.93,605.20 245.41,605.20 245.89,605.20 246.38,605.20 246.86,605.20 247.34,605.20 247.82,605.20 248.30,605.20 248.78,605.20 249.27,605.20 249.75,605.20 250.23,605.20 250.71,605.20 251.19,605.20 251.67,605.20 252.15,605.20 252.64,605.20 253.12,605.20 253.60,605.20 254.08,605.20 254.56,605.20 255.04,605.20 255.52,605.20 256.01,605.20 256.49,605.20 256.97,605.20 257.45,605.20 257.93,605.20 258.41,605.20 258.89,605.20 259.38,605.20 259.86,605.20 260.34,605.20 260.82,605.20 261.30,605.20 261.78,605.20 262.26,605.20 262.75,605.20 263.23,605.20 263.71,605.20 264.19,605.20 264.67,605.20 265.15,605.20 265.64,605.20 266.12,605.20 266.60,605.20 267.08,605.20 267.56,605.20 268.04,605.20 268.52,605.20 269.01,605.20 269.49,605.20 269.97,605.20 270.45,605.20 270.93,605.20 271.41,605.20 271.89,605.20 272.38,605.20 272.86,605.20 273.34,605.20 273.82,605.20 274.30,605.20 274.78,605.20 275.26,605.20 275.75,605.20 276.23,605.20 276.71,605.20 277.19,605.20 277.67,605.20 278.15,605.20 278.63,605.20 279.12,605.20 279.60,605.20 280.08,605.20 280.56,605.20 281.04,605.20 281.52,605.20 282.01,605.20 282.49,605.20 282.97,605.20 283.45,605.20 283.93,605.20 284.41,605.20 284.89,605.20 285.38,605.20 285.86,605.20 286.34,605.20 286.82,605.20 287.30,605.20 287.78,605.20 288.26,605.20 288.75,605.20 289.23,605.20 289.71,605.20 290.19,605.20 290.67,605.20 291.15,605.20 291.63,605.20 292.12,605.20 292.60,605.20 293.08,605.20 293.56,605.20 294.04,605.20 294.52,605.20 295.00,605.20 295.49,605.20 295.97,605.20 296.45,605.20 296.93,605.20 297.41,605.20 297.89,605.20 298.38,605.20 298.86,605.20 299.34,605.20 299.82,605.20 300.30,605.20 300.78,605.20 301.26,605.20 301.75,605.20 302.23,605.20 302.71,605.20 303.19,605.20 303.67,605.20 304.15,605.20 304.63,605.20 305.12,605.20 305.60,605.20 306.08,605.20 306.56,605.20 307.04,605.20 307.52,605.20 308.00,605.20 308.49,605.20 308.97,605.20 309.45,605.20 309.93,605.20 310.41,605.20 310.89,605.20 311.37,605.20 311.86,605.20 312.34,605.20 312.82,605.20 313.30,605.20 313.78,605.20 314.26,605.20 314.75,605.20 315.23,605.20 315.71,605.20 316.19,605.20 316.67,605.20 317.15,605.20 317.63,605.20 318.12,605.20 318.60,605.20 319.08,605.20 319.56,605.20 320.04,605.20 320.52,605.20 321.00,605.20 321.49,605.20 321.97,605.20 322.45,605.20 322.93,605.20 323.41,605.20 323.89,605.20 324.37,605.20 324.86,605.20 325.34,605.20 325.82,605.20 326.30,605.20 326.78,605.20 327.26,605.20 327.74,605.20 328.23,605.20 328.71,605.20 329.19,605.20 329.67,605.20 330.15,605.20 330.63,605.20 331.12,605.20 331.60,605.20 332.08,605.20 332.56,605.20 333.04,605.20 333.52,605.20 334.00,605.20 334.49,605.20 334.97,605.20 335.45,605.20 335.93,605.20 336.41,605.20 336.89,605.20 337.37,605.20 337.86,605.20 338.34,605.20 338.82,605.20 339.30,605.20" fill="none" stroke="#377EB8" stroke-width="1.5" stroke-linecap="round" stroke-linejoin="round" stroke-dasharray="1.36 4.08 5.44 4.08"/>
<rect x="38.5" y="339.6" width="312.80" height="275.60" fill="none" stroke="#383838" stroke-width="1"/>
<path d="M50.90 615.20v4.6M123.00 615.20v4.6M195.10 615.20v4.6M267.20 615.20v4.6M339.30 615.20v4.6M38.50 605.20h-4.9M38.50 551.80h-4.9M38.50 498.40h-4.9M38.50 445.00h-4.9M38.50 391.60h-4.9" stroke="#383838" stroke-width="1" fill="none"/>
<text x="50.90" y="631.80" text-anchor="middle" font-size="10.7">-0.02</text>
<text x="123.00" y="631.80" text-anchor="middle" font-size="10.7">0.00</text>
<text x="195.10" y="631.80" text-anchor="middle" font-size="10.7">0.02</text>
<text x="267.20" y="631.80" text-anchor="middle" font-size="10.7">0.04</text>
<text x="339.30" y="631.80" text-anchor="middle" font-size="10.7">0.06</text>
<text transform="translate(27.80,605.20) rotate(-90)" x="0" y="0" text-anchor="middle" font-size="10.7">0</text>
<text transform="translate(27.80,551.80) rotate(-90)" x="0" y="0" text-anchor="middle" font-size="10.7">20</text>
<text transform="translate(27.80,498.40) rotate(-90)" x="0" y="0" text-anchor="middle" font-size="10.7">40</text>
<text transform="translate(27.80,445.00) rotate(-90)" x="0" y="0" text-anchor="middle" font-size="10.7">60</text>
<text transform="translate(27.80,391.60) rotate(-90)" x="0" y="0" text-anchor="middle" font-size="10.7">80</text>
<text x="194.90" y="649.60" text-anchor="middle" font-size="12.0">trestbps</text>
<text transform="translate(9.50,477.40) rotate(-90)" text-anchor="middle" font-size="12.2">Density</text>
<line x1="262.60" y1="350.50" x2="278.90" y2="350.50" stroke="#000000" stroke-width="1.5" stroke-linecap="round"/>
<text x="286.50" y="353.70" font-size="9.0">MLE</text>
<line x1="262.60" y1="361.50" x2="278.90" y2="361.50" stroke="#E41A1C" stroke-width="1.5" stroke-linecap="round" stroke-dasharray="5.44 5.44"/>
<text x="286.50" y="364.70" font-size="9.0">Claude_Mod</text>
<line x1="262.60" y1="372.50" x2="278.90" y2="372.50" stroke="#4DAF4A" stroke-width="1.5" stroke-linecap="round" stroke-dasharray="1.36 4.08"/>
<text x="286.50" y="375.70" font-size="9.0">Gemini_Mod</text>
<line x1="262.60" y1="383.10" x2="278.90" y2="383.10" stroke="#377EB8" stroke-width="1.5" stroke-linecap="round" stroke-dasharray="1.36 4.08 5.44 4.08"/>
<text x="286.50" y="386.30" font-size="9.0">ChatGPT_Mod</text>
<path d="M453.40 339.60V615.20M522.40 339.60V615.20M591.40 339.60V615.20M660.40 339.60V615.20M414.40 604.90H727.40M414.40 538.40H727.40M414.40 471.90H727.40M414.40 405.40H727.40" stroke="#c8c8c8" stroke-width="0.8" stroke-dasharray="1.0 1.72" fill="none"/>
<polyline points="425.80,604.90 426.28,604.90 426.77,604.90 427.25,604.90 427.74,604.90 428.22,604.90 428.70,604.90 429.19,604.90 429.67,604.90 430.15,604.90 430.64,604.90 431.12,604.90 431.61,604.90 432.09,604.90 432.57,604.90 433.06,604.90 433.54,604.90 434.02,604.90 434.51,604.90 434.99,604.90 435.48,604.90 435.96,604.90 436.44,604.90 436.93,604.90 437.41,604.90 437.90,604.90 438.38,604.90 438.86,604.90 439.35,604.90 439.83,604.90 440.31,604.90 440.80,604.90 441.28,604.90 441.77,604.90 442.25,604.90 442.73,604.90 443.22,604.90 443.70,604.90 444.18,604.90 444.67,604.90 445.15,604.90 445.64,604.90 446.12,604.90 446.60,604.90 447.09,604.90 447.57,604.90 448.06,604.90 448.54,604.90 449.02,604.90 449.51,604.90 449.99,604.90 450.47,604.90 450.96,604.90 451.44,604.90 451.93,604.90 452.41,604.90 452.89,604.90 453.38,604.90 453.86,604.90 454.34,604.90 454.83,604.90 455.31,604.90 455.80,604.90 456.28,604.90 456.76,604.90 457.25,604.90 457.73,604.90 458.22,604.90 458.70,604.90 459.18,604.90 459.67,604.90 460.15,604.90 460.63,604.90 461.12,604.90 461.60,604.90 462.09,604.90 462.57,604.90 463.05,604.90 463.54,604.90 464.02,604.90 464.50,604.90 464.99,604.90 465.47,604.90 465.96,604.90 466.44,604.90 466.92,604.90 467.41,604.90 467.89,604.90 468.37,604.90 468.86,604.90 469.34,604.90 469.83,604.90 470.31,604.90 470.79,604.90 471.28,604.90 471.76,604.90 472.25,604.90 472.73,604.90 473.21,604.90 473.70,604.90 474.18,604.90 474.66,604.90 475.15,604.90 475.63,604.90 476.12,604.90 476.60,604.89 477.08,604.89 477.57,604.89 478.05,604.89 478.53,604.89 479.02,604.89 479.50,604.89 479.99,604.89 480.47,604.89 480.95,604.89 481.44,604.89 481.92,604.88 482.41,604.88 482.89,604.88 483.37,604.88 483.86,604.88 484.34,604.87 484.82,604.87 485.31,604.87 485.79,604.86 486.28,604.86 486.76,604.85 487.24,604.85 487.73,604.85 488.21,604.84 488.69,604.83 489.18,604.83 489.66,604.82 490.15,604.81 490.63,604.80 491.11,604.79 491.60,604.78 492.08,604.77 492.57,604.76 493.05,604.75 493.53,604.73 494.02,604.72 494.50,604.70 494.98,604.68 495.47,604.66 495.95,604.64 496.44,604.62 496.92,604.59 497.40,604.56 497.89,604.53 498.37,604.50 498.85,604.47 499.34,604.43 499.82,604.39 500.31,604.35 500.79,604.30 501.27,604.25 501.76,604.20 502.24,604.14 502.73,604.08 503.21,604.01 503.69,603.94 504.18,603.86 504.66,603.78 505.14,603.69 505.63,603.59 506.11,603.49 506.60,603.38 507.08,603.27 507.56,603.14 508.05,603.01 508.53,602.87 509.01,602.72 509.50,602.56 509.98,602.39 510.47,602.20 510.95,602.01 511.43,601.81 511.92,601.59 512.40,601.36 512.89,601.11 513.37,600.85 513.85,600.58 514.34,600.29 514.82,599.98 515.30,599.66 515.79,599.31 516.27,598.95 516.76,598.57 517.24,598.17 517.72,597.74 518.21,597.29 518.69,596.82 519.17,596.33 519.66,595.81 520.14,595.27 520.63,594.69 521.11,594.09 521.59,593.47 522.08,592.81 522.56,592.12 523.05,591.40 523.53,590.65 524.01,589.86 524.50,589.04 524.98,588.18 525.46,587.29 525.95,586.36 526.43,585.40 526.92,584.39 527.40,583.35 527.88,582.27 528.37,581.14 528.85,579.97 529.33,578.76 529.82,577.51 530.30,576.22 530.79,574.88 531.27,573.49 531.75,572.06 532.24,570.59 532.72,569.07 533.21,567.50 533.69,565.89 534.17,564.23 534.66,562.52 535.14,560.77 535.62,558.97 536.11,557.13 536.59,555.24 537.08,553.31 537.56,551.33 538.04,549.31 538.53,547.24 539.01,545.13 539.49,542.98 539.98,540.79 540.46,538.56 540.95,536.29 541.43,533.98 541.91,531.64 542.40,529.27 542.88,526.86 543.36,524.42 543.85,521.96 544.33,519.46 544.82,516.94 545.30,514.40 545.78,511.84 546.27,509.26 546.75,506.67 547.24,504.07 547.72,501.45 548.20,498.83 548.69,496.20 549.17,493.57 549.65,490.94 550.14,488.32 550.62,485.71 551.11,483.11 551.59,480.52 552.07,477.95 552.56,475.40 553.04,472.87 553.52,470.38 554.01,467.91 554.49,465.48 554.98,463.09 555.46,460.73 555.94,458.43 556.43,456.17 556.91,453.96 557.40,451.81 557.88,449.72 558.36,447.68 558.85,445.72 559.33,443.82 559.81,441.99 560.30,440.23 560.78,438.55 561.27,436.95 561.75,435.43 562.23,434.00 562.72,432.65 563.20,431.39 563.68,430.22 564.17,429.15 564.65,428.16 565.14,427.28 565.62,426.49 566.10,425.81 566.59,425.22 567.07,424.73 567.56,424.35 568.04,424.07 568.52,423.89 569.01,423.81 569.49,423.84 569.97,423.97 570.46,424.21 570.94,424.55 571.43,424.99 571.91,425.53 572.39,426.18 572.88,426.92 573.36,427.76 573.84,428.70 574.33,429.74 574.81,430.86 575.30,432.08 575.78,433.39 576.26,434.79 576.75,436.27 577.23,437.84 577.72,439.48 578.20,441.21 578.68,443.00 579.17,444.87 579.65,446.81 580.13,448.81 580.62,450.88 581.10,453.01 581.59,455.19 582.07,457.43 582.55,459.71 583.04,462.05 583.52,464.42 584.00,466.84 584.49,469.29 584.97,471.77 585.46,474.29 585.94,476.82 586.42,479.39 586.91,481.97 587.39,484.56 587.88,487.17 588.36,489.79 588.84,492.42 589.33,495.04 589.81,497.67 590.29,500.30 590.78,502.92 591.26,505.53 591.75,508.13 592.23,510.71 592.71,513.28 593.20,515.83 593.68,518.36 594.16,520.86 594.65,523.34 595.13,525.79 595.62,528.21 596.10,530.60 596.58,532.96 597.07,535.28 597.55,537.57 598.04,539.81 598.52,542.02 599.00,544.19 599.49,546.32 599.97,548.40 600.45,550.44 600.94,552.44 601.42,554.40 601.91,556.31 602.39,558.17 602.87,559.99 603.36,561.76 603.84,563.48 604.32,565.16 604.81,566.80 605.29,568.38 605.78,569.92 606.26,571.42 606.74,572.87 607.23,574.27 607.71,575.63 608.19,576.95 608.68,578.22 609.16,579.45 609.65,580.63 610.13,581.78 610.61,582.88 611.10,583.94 611.58,584.96 612.07,585.94 612.55,586.89 613.03,587.80 613.52,588.67 614.00,589.50 614.48,590.30 614.97,591.07 615.45,591.81 615.94,592.51 616.42,593.18 616.90,593.82 617.39,594.43 617.87,595.02 618.35,595.57 618.84,596.11 619.32,596.61 619.81,597.09 620.29,597.55 620.77,597.98 621.26,598.39 621.74,598.79 622.23,599.16 622.71,599.51 623.19,599.84 623.68,600.16 624.16,600.45 624.64,600.74 625.13,601.00 625.61,601.25 626.10,601.49 626.58,601.71 627.06,601.92 627.55,602.12 628.03,602.31 628.51,602.48 629.00,602.65 629.48,602.80 629.97,602.95 630.45,603.08 630.93,603.21 631.42,603.33 631.90,603.44 632.39,603.55 632.87,603.65 633.35,603.74 633.84,603.82 634.32,603.90 634.80,603.98 635.29,604.05 635.77,604.11 636.26,604.17 636.74,604.23 637.22,604.28 637.71,604.33 638.19,604.37 638.67,604.41 639.16,604.45 639.64,604.49 640.13,604.52 640.61,604.55 641.09,604.58 641.58,604.61 642.06,604.63 642.55,604.65 643.03,604.67 643.51,604.69 644.00,604.71 644.48,604.73 644.96,604.74 645.45,604.75 645.93,604.77 646.42,604.78 646.90,604.79 647.38,604.80 647.87,604.81 648.35,604.82 648.83,604.82 649.32,604.83 649.80,604.84 650.29,604.84 650.77,604.85 651.25,604.85 651.74,604.86 652.22,604.86 652.71,604.86 653.19,604.87 653.67,604.87 654.16,604.87 654.64,604.88 655.12,604.88 655.61,604.88 656.09,604.88 656.58,604.88 657.06,604.89 657.54,604.89 658.03,604.89 658.51,604.89 658.99,604.89 659.48,604.89 659.96,604.89 660.45,604.89 660.93,604.89 661.41,604.89 661.90,604.90 662.38,604.90 662.87,604.90 663.35,604.90 663.83,604.90 664.32,604.90 664.80,604.90 665.28,604.90 665.77,604.90 666.25,604.90 666.74,604.90 667.22,604.90 667.70,604.90 668.19,604.90 668.67,604.90 669.15,604.90 669.64,604.90 670.12,604.90 670.61,604.90 671.09,604.90 671.57,604.90 672.06,604.90 672.54,604.90 673.03,604.90 673.51,604.90 673.99,604.90 674.48,604.90 674.96,604.90 675.44,604.90 675.93,604.90 676.41,604.90 676.90,604.90 677.38,604.90 677.86,604.90 678.35,604.90 678.83,604.90 679.31,604.90 679.80,604.90 680.28,604.90 680.77,604.90 681.25,604.90 681.73,604.90 682.22,604.90 682.70,604.90 683.18,604.90 683.67,604.90 684.15,604.90 684.64,604.90 685.12,604.90 685.60,604.90 686.09,604.90 686.57,604.90 687.06,604.90 687.54,604.90 688.02,604.90 688.51,604.90 688.99,604.90 689.47,604.90 689.96,604.90 690.44,604.90 690.93,604.90 691.41,604.90 691.89,604.90 692.38,604.90 692.86,604.90 693.34,604.90 693.83,604.90 694.31,604.90 694.80,604.90 695.28,604.90 695.76,604.90 696.25,604.90 696.73,604.90 697.22,604.90 697.70,604.90 698.18,604.90 698.67,604.90 699.15,604.90 699.63,604.90 700.12,604.90 700.60,604.90 701.09,604.90 701.57,604.90 702.05,604.90 702.54,604.90 703.02,604.90 703.50,604.90 703.99,604.90 704.47,604.90 704.96,604.90 705.44,604.90 705.92,604.90 706.41,604.90 706.89,604.90 707.38,604.90 707.86,604.90 708.34,604.90 708.83,604.90 709.31,604.90 709.79,604.90 710.28,604.90 710.76,604.90 711.25,604.90 711.73,604.90 712.21,604.90 712.70,604.90 713.18,604.90 713.66,604.90 714.15,604.90 714.63,604.90 715.12,604.90 715.60,604.90" fill="none" stroke="#000000" stroke-width="1.5" stroke-linecap="round" stroke-linejoin="round"/>
<polyline points="425.80,604.89 426.28,604.89 426.77,604.89 427.25,604.89 427.74,604.89 428.22,604.89 428.70,604.89 429.19,604.89 429.67,604.89 430.15,604.89 430.64,604.89 431.12,604.89 431.61,604.89 432.09,604.89 432.57,604.88 433.06,604.88 433.54,604.88 434.02,604.88 434.51,604.88 434.99,604.88 435.48,604.88 435.96,604.88 436.44,604.88 436.93,604.87 437.41,604.87 437.90,604.87 438.38,604.87 438.86,604.87 439.35,604.87 439.83,604.86 440.31,604.86 440.80,604.86 441.28,604.86 441.77,604.85 442.25,604.85 442.73,604.85 443.22,604.85 443.70,604.84 444.18,604.84 444.67,604.84 445.15,604.83 445.64,604.83 446.12,604.83 446.60,604.82 447.09,604.82 447.57,604.81 448.06,604.81 448.54,604.80 449.02,604.80 449.51,604.79 449.99,604.79 450.47,604.78 450.96,604.77 451.44,604.77 451.93,604.76 452.41,604.75 452.89,604.75 453.38,604.74 453.86,604.73 454.34,604.72 454.83,604.71 455.31,604.70 455.80,604.69 456.28,604.68 456.76,604.67 457.25,604.66 457.73,604.65 458.22,604.63 458.70,604.62 459.18,604.61 459.67,604.59 460.15,604.58 460.63,604.56 461.12,604.54 461.60,604.53 462.09,604.51 462.57,604.49 463.05,604.47 463.54,604.45 464.02,604.43 464.50,604.41 464.99,604.38 465.47,604.36 465.96,604.34 466.44,604.31 466.92,604.28 467.41,604.25 467.89,604.22 468.37,604.19 468.86,604.16 469.34,604.13 469.83,604.09 470.31,604.06 470.79,604.02 471.28,603.98 471.76,603.94 472.25,603.90 472.73,603.85 473.21,603.81 473.70,603.76 474.18,603.71 474.66,603.66 475.15,603.61 475.63,603.55 476.12,603.50 476.60,603.44 477.08,603.38 477.57,603.31 478.05,603.25 478.53,603.18 479.02,603.11 479.50,603.04 479.99,602.96 480.47,602.88 480.95,602.80 481.44,602.72 481.92,602.63 482.41,602.54 482.89,602.45 483.37,602.35 483.86,602.25 484.34,602.15 484.82,602.05 485.31,601.94 485.79,601.82 486.28,601.71 486.76,601.59 487.24,601.46 487.73,601.33 488.21,601.20 488.69,601.06 489.18,600.92 489.66,600.78 490.15,600.63 490.63,600.48 491.11,600.32 491.60,600.15 492.08,599.98 492.57,599.81 493.05,599.63 493.53,599.45 494.02,599.26 494.50,599.07 494.98,598.87 495.47,598.66 495.95,598.45 496.44,598.23 496.92,598.01 497.40,597.78 497.89,597.55 498.37,597.30 498.85,597.06 499.34,596.80 499.82,596.54 500.31,596.27 500.79,596.00 501.27,595.72 501.76,595.43 502.24,595.13 502.73,594.83 503.21,594.52 503.69,594.20 504.18,593.88 504.66,593.55 505.14,593.20 505.63,592.86 506.11,592.50 506.60,592.14 507.08,591.76 507.56,591.38 508.05,590.99 508.53,590.60 509.01,590.19 509.50,589.78 509.98,589.35 510.47,588.92 510.95,588.48 511.43,588.03 511.92,587.57 512.40,587.11 512.89,586.63 513.37,586.14 513.85,585.65 514.34,585.15 514.82,584.63 515.30,584.11 515.79,583.58 516.27,583.04 516.76,582.49 517.24,581.93 517.72,581.37 518.21,580.79 518.69,580.20 519.17,579.61 519.66,579.00 520.14,578.39 520.63,577.76 521.11,577.13 521.59,576.49 522.08,575.83 522.56,575.17 523.05,574.50 523.53,573.83 524.01,573.14 524.50,572.44 524.98,571.74 525.46,571.02 525.95,570.30 526.43,569.57 526.92,568.83 527.40,568.08 527.88,567.33 528.37,566.57 528.85,565.80 529.33,565.02 529.82,564.23 530.30,563.44 530.79,562.64 531.27,561.83 531.75,561.01 532.24,560.19 532.72,559.37 533.21,558.53 533.69,557.69 534.17,556.85 534.66,556.00 535.14,555.14 535.62,554.28 536.11,553.41 536.59,552.54 537.08,551.67 537.56,550.79 538.04,549.91 538.53,549.02 539.01,548.13 539.49,547.24 539.98,546.34 540.46,545.45 540.95,544.55 541.43,543.65 541.91,542.75 542.40,541.85 542.88,540.94 543.36,540.04 543.85,539.14 544.33,538.24 544.82,537.34 545.30,536.44 545.78,535.54 546.27,534.64 546.75,533.75 547.24,532.86 547.72,531.97 548.20,531.09 548.69,530.21 549.17,529.33 549.65,528.46 550.14,527.60 550.62,526.74 551.11,525.88 551.59,525.03 552.07,524.19 552.56,523.36 553.04,522.53 553.52,521.71 554.01,520.90 554.49,520.10 554.98,519.31 555.46,518.53 555.94,517.76 556.43,517.00 556.91,516.24 557.40,515.50 557.88,514.78 558.36,514.06 558.85,513.36 559.33,512.66 559.81,511.99 560.30,511.32 560.78,510.67 561.27,510.03 561.75,509.41 562.23,508.80 562.72,508.21 563.20,507.63 563.68,507.07 564.17,506.53 564.65,506.00 565.14,505.49 565.62,504.99 566.10,504.51 566.59,504.05 567.07,503.61 567.56,503.19 568.04,502.78 568.52,502.39 569.01,502.02 569.49,501.67 569.97,501.34 570.46,501.03 570.94,500.74 571.43,500.47 571.91,500.22 572.39,499.98 572.88,499.77 573.36,499.58 573.84,499.41 574.33,499.26 574.81,499.13 575.30,499.02 575.78,498.93 576.26,498.86 576.75,498.81 577.23,498.79 577.72,498.78 578.20,498.80 578.68,498.83 579.17,498.89 579.65,498.97 580.13,499.07 580.62,499.19 581.10,499.33 581.59,499.49 582.07,499.67 582.55,499.87 583.04,500.09 583.52,500.33 584.00,500.59 584.49,500.88 584.97,501.18 585.46,501.50 585.94,501.84 586.42,502.20 586.91,502.57 587.39,502.97 587.88,503.39 588.36,503.82 588.84,504.27 589.33,504.74 589.81,505.22 590.29,505.73 590.78,506.25 591.26,506.78 591.75,507.34 592.23,507.91 592.71,508.49 593.20,509.09 593.68,509.70 594.16,510.33 594.65,510.98 595.13,511.64 595.62,512.31 596.10,512.99 596.58,513.69 597.07,514.40 597.55,515.12 598.04,515.86 598.52,516.60 599.00,517.36 599.49,518.12 599.97,518.90 600.45,519.69 600.94,520.48 601.42,521.29 601.91,522.10 602.39,522.92 602.87,523.75 603.36,524.59 603.84,525.44 604.32,526.29 604.81,527.14 605.29,528.01 605.78,528.87 606.26,529.75 606.74,530.63 607.23,531.51 607.71,532.39 608.19,533.28 608.68,534.17 609.16,535.07 609.65,535.97 610.13,536.86 610.61,537.77 611.10,538.67 611.58,539.57 612.07,540.47 612.55,541.37 613.03,542.28 613.52,543.18 614.00,544.08 614.48,544.98 614.97,545.87 615.45,546.77 615.94,547.66 616.42,548.55 616.90,549.44 617.39,550.33 617.87,551.21 618.35,552.08 618.84,552.96 619.32,553.82 619.81,554.69 620.29,555.55 620.77,556.40 621.26,557.25 621.74,558.09 622.23,558.93 622.71,559.76 623.19,560.58 623.68,561.40 624.16,562.21 624.64,563.02 625.13,563.82 625.61,564.61 626.10,565.39 626.58,566.16 627.06,566.93 627.55,567.69 628.03,568.44 628.51,569.18 629.00,569.92 629.48,570.65 629.97,571.36 630.45,572.07 630.93,572.77 631.42,573.47 631.90,574.15 632.39,574.82 632.87,575.49 633.35,576.15 633.84,576.79 634.32,577.43 634.80,578.06 635.29,578.68 635.77,579.29 636.26,579.89 636.74,580.48 637.22,581.06 637.71,581.64 638.19,582.20 638.67,582.76 639.16,583.30 639.64,583.84 640.13,584.36 640.61,584.88 641.09,585.39 641.58,585.89 642.06,586.38 642.55,586.86 643.03,587.33 643.51,587.79 644.00,588.25 644.48,588.69 644.96,589.13 645.45,589.56 645.93,589.97 646.42,590.38 646.90,590.79 647.38,591.18 647.87,591.56 648.35,591.94 648.83,592.31 649.32,592.67 649.80,593.02 650.29,593.37 650.77,593.70 651.25,594.03 651.74,594.36 652.22,594.67 652.71,594.98 653.19,595.28 653.67,595.57 654.16,595.85 654.64,596.13 655.12,596.40 655.61,596.67 656.09,596.92 656.58,597.18 657.06,597.42 657.54,597.66 658.03,597.89 658.51,598.12 658.99,598.34 659.48,598.55 659.96,598.76 660.45,598.96 660.93,599.16 661.41,599.35 661.90,599.54 662.38,599.72 662.87,599.89 663.35,600.07 663.83,600.23 664.32,600.39 664.80,600.55 665.28,600.70 665.77,600.85 666.25,600.99 666.74,601.13 667.22,601.26 667.70,601.40 668.19,601.52 668.67,601.64 669.15,601.76 669.64,601.88 670.12,601.99 670.61,602.10 671.09,602.20 671.57,602.30 672.06,602.40 672.54,602.49 673.03,602.59 673.51,602.67 673.99,602.76 674.48,602.84 674.96,602.92 675.44,603.00 675.93,603.07 676.41,603.14 676.90,603.21 677.38,603.28 677.86,603.34 678.35,603.41 678.83,603.47 679.31,603.52 679.80,603.58 680.28,603.63 680.77,603.69 681.25,603.74 681.73,603.78 682.22,603.83 682.70,603.88 683.18,603.92 683.67,603.96 684.15,604.00 684.64,604.04 685.12,604.07 685.60,604.11 686.09,604.14 686.57,604.18 687.06,604.21 687.54,604.24 688.02,604.27 688.51,604.30 688.99,604.32 689.47,604.35 689.96,604.37 690.44,604.40 690.93,604.42 691.41,604.44 691.89,604.46 692.38,604.48 692.86,604.50 693.34,604.52 693.83,604.54 694.31,604.55 694.80,604.57 695.28,604.58 695.76,604.60 696.25,604.61 696.73,604.63 697.22,604.64 697.70,604.65 698.18,604.66 698.67,604.68 699.15,604.69 699.63,604.70 700.12,604.71 700.60,604.72 701.09,604.72 701.57,604.73 702.05,604.74 702.54,604.75 703.02,604.76 703.50,604.76 703.99,604.77 704.47,604.78 704.96,604.78 705.44,604.79 705.92,604.79 706.41,604.80 706.89,604.81 707.38,604.81 707.86,604.81 708.34,604.82 708.83,604.82 709.31,604.83 709.79,604.83 710.28,604.83 710.76,604.84 711.25,604.84 711.73,604.84 712.21,604.85 712.70,604.85 713.18,604.85 713.66,604.86 714.15,604.86 714.63,604.86 715.12,604.86 715.60,604.86" fill="none" stroke="#E41A1C" stroke-width="1.5" stroke-linecap="round" stroke-linejoin="round" stroke-dasharray="5.44 5.44"/>
<polyline points="425.80,604.90 426.28,604.90 426.77,604.90 427.25,604.90 427.74,604.90 428.22,604.90 428.70,604.90 429.19,604.90 429.67,604.90 430.15,604.90 430.64,604.90 431.12,604.90 431.61,604.90 432.09,604.90 432.57,604.90 433.06,604.90 433.54,604.90 434.02,604.90 434.51,604.90 434.99,604.90 435.48,604.90 435.96,604.90 436.44,604.90 436.93,604.90 437.41,604.90 437.90,604.90 438.38,604.90 438.86,604.90 439.35,604.90 439.83,604.90 440.31,604.90 440.80,604.90 441.28,604.90 441.77,604.90 442.25,604.90 442.73,604.90 443.22,604.90 443.70,604.90 444.18,604.90 444.67,604.90 445.15,604.90 445.64,604.90 446.12,604.90 446.60,604.90 447.09,604.90 447.57,604.90 448.06,604.90 448.54,604.90 449.02,604.90 449.51,604.90 449.99,604.90 450.47,604.90 450.96,604.90 451.44,604.90 451.93,604.90 452.41,604.90 452.89,604.90 453.38,604.90 453.86,604.90 454.34,604.90 454.83,604.90 455.31,604.90 455.80,604.90 456.28,604.90 456.76,604.90 457.25,604.90 457.73,604.90 458.22,604.90 458.70,604.90 459.18,604.90 459.67,604.90 460.15,604.90 460.63,604.90 461.12,604.90 461.60,604.90 462.09,604.90 462.57,604.90 463.05,604.90 463.54,604.90 464.02,604.90 464.50,604.90 464.99,604.90 465.47,604.90 465.96,604.90 466.44,604.90 466.92,604.90 467.41,604.90 467.89,604.90 468.37,604.90 468.86,604.90 469.34,604.90 469.83,604.90 470.31,604.90 470.79,604.90 471.28,604.90 471.76,604.90 472.25,604.90 472.73,604.90 473.21,604.90 473.70,604.90 474.18,604.90 474.66,604.90 475.15,604.90 475.63,604.90 476.12,604.90 476.60,604.90 477.08,604.90 477.57,604.89 478.05,604.89 478.53,604.89 479.02,604.89 479.50,604.89 479.99,604.89 480.47,604.89 480.95,604.89 481.44,604.89 481.92,604.88 482.41,604.88 482.89,604.88 483.37,604.88 483.86,604.87 484.34,604.87 484.82,604.87 485.31,604.86 485.79,604.86 486.28,604.85 486.76,604.85 487.24,604.84 487.73,604.83 488.21,604.82 488.69,604.81 489.18,604.80 489.66,604.79 490.15,604.78 490.63,604.77 491.11,604.75 491.60,604.74 492.08,604.72 492.57,604.70 493.05,604.68 493.53,604.65 494.02,604.62 494.50,604.59 494.98,604.56 495.47,604.53 495.95,604.49 496.44,604.44 496.92,604.40 497.40,604.35 497.89,604.29 498.37,604.23 498.85,604.16 499.34,604.09 499.82,604.01 500.31,603.92 500.79,603.83 501.27,603.73 501.76,603.62 502.24,603.50 502.73,603.37 503.21,603.23 503.69,603.08 504.18,602.91 504.66,602.74 505.14,602.54 505.63,602.34 506.11,602.12 506.60,601.88 507.08,601.62 507.56,601.35 508.05,601.05 508.53,600.74 509.01,600.40 509.50,600.03 509.98,599.65 510.47,599.23 510.95,598.79 511.43,598.32 511.92,597.82 512.40,597.28 512.89,596.71 513.37,596.11 513.85,595.47 514.34,594.79 514.82,594.07 515.30,593.31 515.79,592.50 516.27,591.65 516.76,590.75 517.24,589.80 517.72,588.80 518.21,587.75 518.69,586.64 519.17,585.48 519.66,584.26 520.14,582.98 520.63,581.64 521.11,580.24 521.59,578.77 522.08,577.24 522.56,575.64 523.05,573.97 523.53,572.23 524.01,570.42 524.50,568.54 524.98,566.59 525.46,564.57 525.95,562.47 526.43,560.30 526.92,558.05 527.40,555.73 527.88,553.33 528.37,550.86 528.85,548.32 529.33,545.70 529.82,543.01 530.30,540.25 530.79,537.42 531.27,534.52 531.75,531.56 532.24,528.52 532.72,525.43 533.21,522.28 533.69,519.07 534.17,515.80 534.66,512.48 535.14,509.12 535.62,505.71 536.11,502.25 536.59,498.77 537.08,495.25 537.56,491.70 538.04,488.13 538.53,484.54 539.01,480.94 539.49,477.33 539.98,473.72 540.46,470.12 540.95,466.52 541.43,462.94 541.91,459.38 542.40,455.85 542.88,452.35 543.36,448.90 543.85,445.49 544.33,442.13 544.82,438.84 545.30,435.61 545.78,432.46 546.27,429.38 546.75,426.39 547.24,423.49 547.72,420.69 548.20,417.99 548.69,415.41 549.17,412.93 549.65,410.58 550.14,408.36 550.62,406.26 551.11,404.30 551.59,402.48 552.07,400.81 552.56,399.28 553.04,397.91 553.52,396.69 554.01,395.62 554.49,394.72 554.98,393.98 555.46,393.40 555.94,392.99 556.43,392.74 556.91,392.66 557.40,392.75 557.88,393.00 558.36,393.42 558.85,394.01 559.33,394.76 559.81,395.67 560.30,396.74 560.78,397.97 561.27,399.35 561.75,400.89 562.23,402.57 562.72,404.39 563.20,406.36 563.68,408.46 564.17,410.69 564.65,413.05 565.14,415.53 565.62,418.12 566.10,420.82 566.59,423.63 567.07,426.53 567.56,429.52 568.04,432.60 568.52,435.76 569.01,438.99 569.49,442.29 569.97,445.65 570.46,449.06 570.94,452.52 571.43,456.02 571.91,459.55 572.39,463.11 572.88,466.69 573.36,470.29 573.84,473.89 574.33,477.50 574.81,481.11 575.30,484.71 575.78,488.30 576.26,491.87 576.75,495.42 577.23,498.93 577.72,502.42 578.20,505.87 578.68,509.28 579.17,512.64 579.65,515.96 580.13,519.22 580.62,522.43 581.10,525.58 581.59,528.67 582.07,531.70 582.55,534.66 583.04,537.56 583.52,540.38 584.00,543.14 584.49,545.83 584.97,548.44 585.46,550.98 585.94,553.45 586.42,555.84 586.91,558.16 587.39,560.40 587.88,562.57 588.36,564.66 588.84,566.69 589.33,568.63 589.81,570.51 590.29,572.31 590.78,574.05 591.26,575.71 591.75,577.31 592.23,578.84 592.71,580.30 593.20,581.71 593.68,583.04 594.16,584.32 594.65,585.54 595.13,586.70 595.62,587.80 596.10,588.85 596.58,589.85 597.07,590.79 597.55,591.69 598.04,592.54 598.52,593.34 599.00,594.10 599.49,594.82 599.97,595.50 600.45,596.14 600.94,596.74 601.42,597.31 601.91,597.84 602.39,598.34 602.87,598.81 603.36,599.25 603.84,599.67 604.32,600.05 604.81,600.41 605.29,600.75 605.78,601.07 606.26,601.36 606.74,601.64 607.23,601.89 607.71,602.13 608.19,602.35 608.68,602.55 609.16,602.74 609.65,602.92 610.13,603.08 610.61,603.24 611.10,603.38 611.58,603.50 612.07,603.62 612.55,603.73 613.03,603.83 613.52,603.93 614.00,604.01 614.48,604.09 614.97,604.17 615.45,604.23 615.94,604.29 616.42,604.35 616.90,604.40 617.39,604.45 617.87,604.49 618.35,604.53 618.84,604.56 619.32,604.60 619.81,604.63 620.29,604.65 620.77,604.68 621.26,604.70 621.74,604.72 622.23,604.74 622.71,604.75 623.19,604.77 623.68,604.78 624.16,604.79 624.64,604.80 625.13,604.81 625.61,604.82 626.10,604.83 626.58,604.84 627.06,604.85 627.55,604.85 628.03,604.86 628.51,604.86 629.00,604.87 629.48,604.87 629.97,604.87 630.45,604.88 630.93,604.88 631.42,604.88 631.90,604.88 632.39,604.89 632.87,604.89 633.35,604.89 633.84,604.89 634.32,604.89 634.80,604.89 635.29,604.89 635.77,604.89 636.26,604.89 636.74,604.90 637.22,604.90 637.71,604.90 638.19,604.90 638.67,604.90 639.16,604.90 639.64,604.90 640.13,604.90 640.61,604.90 641.09,604.90 641.58,604.90 642.06,604.90 642.55,604.90 643.03,604.90 643.51,604.90 644.00,604.90 644.48,604.90 644.96,604.90 645.45,604.90 645.93,604.90 646.42,604.90 646.90,604.90 647.38,604.90 647.87,604.90 648.35,604.90 648.83,604.90 649.32,604.90 649.80,604.90 650.29,604.90 650.77,604.90 651.25,604.90 651.74,604.90 652.22,604.90 652.71,604.90 653.19,604.90 653.67,604.90 654.16,604.90 654.64,604.90 655.12,604.90 655.61,604.90 656.09,604.90 656.58,604.90 657.06,604.90 657.54,604.90 658.03,604.90 658.51,604.90 658.99,604.90 659.48,604.90 659.96,604.90 660.45,604.90 660.93,604.90 661.41,604.90 661.90,604.90 662.38,604.90 662.87,604.90 663.35,604.90 663.83,604.90 664.32,604.90 664.80,604.90 665.28,604.90 665.77,604.90 666.25,604.90 666.74,604.90 667.22,604.90 667.70,604.90 668.19,604.90 668.67,604.90 669.15,604.90 669.64,604.90 670.12,604.90 670.61,604.90 671.09,604.90 671.57,604.90 672.06,604.90 672.54,604.90 673.03,604.90 673.51,604.90 673.99,604.90 674.48,604.90 674.96,604.90 675.44,604.90 675.93,604.90 676.41,604.90 676.90,604.90 677.38,604.90 677.86,604.90 678.35,604.90 678.83,604.90 679.31,604.90 679.80,604.90 680.28,604.90 680.77,604.90 681.25,604.90 681.73,604.90 682.22,604.90 682.70,604.90 683.18,604.90 683.67,604.90 684.15,604.90 684.64,604.90 685.12,604.90 685.60,604.90 686.09,604.90 686.57,604.90 687.06,604.90 687.54,604.90 688.02,604.90 688.51,604.90 688.99,604.90 689.47,604.90 689.96,604.90 690.44,604.90 690.93,604.90 691.41,604.90 691.89,604.90 692.38,604.90 692.86,604.90 693.34,604.90 693.83,604.90 694.31,604.90 694.80,604.90 695.28,604.90 695.76,604.90 696.25,604.90 696.73,604.90 697.22,604.90 697.70,604.90 698.18,604.90 698.67,604.90 699.15,604.90 699.63,604.90 700.12,604.90 700.60,604.90 701.09,604.90 701.57,604.90 702.05,604.90 702.54,604.90 703.02,604.90 703.50,604.90 703.99,604.90 704.47,604.90 704.96,604.90 705.44,604.90 705.92,604.90 706.41,604.90 706.89,604.90 707.38,604.90 707.86,604.90 708.34,604.90 708.83,604.90 709.31,604.90 709.79,604.90 710.28,604.90 710.76,604.90 711.25,604.90 711.73,604.90 712.21,604.90 712.70,604.90 713.18,604.90 713.66,604.90 714.15,604.90 714.63,604.90 715.12,604.90 715.60,604.90" fill="none" stroke="#4DAF4A" stroke-width="1.5" stroke-linecap="round" stroke-linejoin="round" stroke-dasharray="1.36 4.08"/>
<polyline points="425.80,604.86 426.28,604.85 426.77,604.85 427.25,604.85 427.74,604.84 428.22,604.84 428.70,604.83 429.19,604.83 429.67,604.82 430.15,604.82 430.64,604.81 431.12,604.81 431.61,604.80 432.09,604.79 432.57,604.78 433.06,604.78 433.54,604.77 434.02,604.76 434.51,604.75 434.99,604.74 435.48,604.73 435.96,604.72 436.44,604.71 436.93,604.69 437.41,604.68 437.90,604.67 438.38,604.65 438.86,604.64 439.35,604.62 439.83,604.60 440.31,604.58 440.80,604.56 441.28,604.54 441.77,604.52 442.25,604.50 442.73,604.47 443.22,604.44 443.70,604.42 444.18,604.39 444.67,604.36 445.15,604.33 445.64,604.29 446.12,604.25 446.60,604.22 447.09,604.18 447.57,604.14 448.06,604.09 448.54,604.04 449.02,604.00 449.51,603.94 449.99,603.89 450.47,603.83 450.96,603.77 451.44,603.71 451.93,603.65 452.41,603.58 452.89,603.51 453.38,603.43 453.86,603.35 454.34,603.27 454.83,603.18 455.31,603.09 455.80,603.00 456.28,602.90 456.76,602.79 457.25,602.68 457.73,602.57 458.22,602.45 458.70,602.33 459.18,602.20 459.67,602.06 460.15,601.92 460.63,601.77 461.12,601.62 461.60,601.46 462.09,601.30 462.57,601.12 463.05,600.94 463.54,600.75 464.02,600.56 464.50,600.36 464.99,600.15 465.47,599.93 465.96,599.70 466.44,599.46 466.92,599.22 467.41,598.96 467.89,598.70 468.37,598.42 468.86,598.14 469.34,597.84 469.83,597.54 470.31,597.22 470.79,596.90 471.28,596.56 471.76,596.21 472.25,595.85 472.73,595.47 473.21,595.09 473.70,594.69 474.18,594.28 474.66,593.85 475.15,593.41 475.63,592.96 476.12,592.49 476.60,592.01 477.08,591.52 477.57,591.01 478.05,590.48 478.53,589.94 479.02,589.39 479.50,588.82 479.99,588.23 480.47,587.63 480.95,587.01 481.44,586.37 481.92,585.72 482.41,585.05 482.89,584.36 483.37,583.66 483.86,582.94 484.34,582.20 484.82,581.44 485.31,580.67 485.79,579.88 486.28,579.06 486.76,578.24 487.24,577.39 487.73,576.53 488.21,575.64 488.69,574.74 489.18,573.82 489.66,572.89 490.15,571.93 490.63,570.96 491.11,569.97 491.60,568.96 492.08,567.93 492.57,566.89 493.05,565.82 493.53,564.74 494.02,563.65 494.50,562.53 494.98,561.40 495.47,560.26 495.95,559.09 496.44,557.91 496.92,556.72 497.40,555.51 497.89,554.29 498.37,553.05 498.85,551.79 499.34,550.53 499.82,549.25 500.31,547.96 500.79,546.65 501.27,545.34 501.76,544.01 502.24,542.67 502.73,541.33 503.21,539.97 503.69,538.61 504.18,537.23 504.66,535.85 505.14,534.47 505.63,533.08 506.11,531.68 506.60,530.28 507.08,528.87 507.56,527.47 508.05,526.06 508.53,524.65 509.01,523.24 509.50,521.83 509.98,520.42 510.47,519.01 510.95,517.61 511.43,516.21 511.92,514.82 512.40,513.44 512.89,512.06 513.37,510.69 513.85,509.33 514.34,507.97 514.82,506.63 515.30,505.31 515.79,503.99 516.27,502.69 516.76,501.40 517.24,500.13 517.72,498.88 518.21,497.65 518.69,496.43 519.17,495.23 519.66,494.06 520.14,492.91 520.63,491.77 521.11,490.67 521.59,489.59 522.08,488.53 522.56,487.50 523.05,486.49 523.53,485.52 524.01,484.57 524.50,483.66 524.98,482.77 525.46,481.92 525.95,481.09 526.43,480.30 526.92,479.55 527.40,478.83 527.88,478.14 528.37,477.49 528.85,476.87 529.33,476.29 529.82,475.75 530.30,475.25 530.79,474.78 531.27,474.35 531.75,473.96 532.24,473.61 532.72,473.30 533.21,473.03 533.69,472.80 534.17,472.61 534.66,472.46 535.14,472.35 535.62,472.28 536.11,472.25 536.59,472.27 537.08,472.32 537.56,472.41 538.04,472.55 538.53,472.72 539.01,472.94 539.49,473.19 539.98,473.49 540.46,473.82 540.95,474.20 541.43,474.61 541.91,475.06 542.40,475.55 542.88,476.08 543.36,476.65 543.85,477.25 544.33,477.89 544.82,478.56 545.30,479.27 545.78,480.01 546.27,480.79 546.75,481.60 547.24,482.44 547.72,483.32 548.20,484.22 548.69,485.16 549.17,486.12 549.65,487.11 550.14,488.13 550.62,489.18 551.11,490.25 551.59,491.35 552.07,492.47 552.56,493.62 553.04,494.78 553.52,495.97 554.01,497.18 554.49,498.41 554.98,499.65 555.46,500.92 555.94,502.20 556.43,503.49 556.91,504.80 557.40,506.13 557.88,507.46 558.36,508.81 558.85,510.17 559.33,511.53 559.81,512.91 560.30,514.29 560.78,515.68 561.27,517.08 561.75,518.48 562.23,519.88 562.72,521.29 563.20,522.70 563.68,524.11 564.17,525.52 564.65,526.93 565.14,528.34 565.62,529.74 566.10,531.15 566.59,532.54 567.07,533.94 567.56,535.33 568.04,536.71 568.52,538.08 569.01,539.45 569.49,540.81 569.97,542.16 570.46,543.50 570.94,544.83 571.43,546.15 571.91,547.46 572.39,548.76 572.88,550.04 573.36,551.31 573.84,552.57 574.33,553.82 574.81,555.05 575.30,556.26 575.78,557.46 576.26,558.65 576.75,559.81 577.23,560.97 577.72,562.10 578.20,563.22 578.68,564.33 579.17,565.41 579.65,566.48 580.13,567.53 580.62,568.57 581.10,569.58 581.59,570.58 582.07,571.56 582.55,572.52 583.04,573.47 583.52,574.39 584.00,575.30 584.49,576.19 584.97,577.06 585.46,577.92 585.94,578.75 586.42,579.57 586.91,580.37 587.39,581.15 587.88,581.91 588.36,582.66 588.84,583.39 589.33,584.10 589.81,584.79 590.29,585.47 590.78,586.13 591.26,586.77 591.75,587.39 592.23,588.00 592.71,588.60 593.20,589.17 593.68,589.73 594.16,590.28 594.65,590.81 595.13,591.33 595.62,591.83 596.10,592.31 596.58,592.79 597.07,593.24 597.55,593.69 598.04,594.12 598.52,594.53 599.00,594.94 599.49,595.33 599.97,595.71 600.45,596.07 600.94,596.43 601.42,596.77 601.91,597.10 602.39,597.42 602.87,597.73 603.36,598.03 603.84,598.32 604.32,598.59 604.81,598.86 605.29,599.12 605.78,599.37 606.26,599.61 606.74,599.84 607.23,600.06 607.71,600.28 608.19,600.48 608.68,600.68 609.16,600.87 609.65,601.05 610.13,601.23 610.61,601.40 611.10,601.56 611.58,601.72 612.07,601.87 612.55,602.01 613.03,602.15 613.52,602.28 614.00,602.40 614.48,602.52 614.97,602.64 615.45,602.75 615.94,602.86 616.42,602.96 616.90,603.05 617.39,603.15 617.87,603.24 618.35,603.32 618.84,603.40 619.32,603.48 619.81,603.55 620.29,603.62 620.77,603.69 621.26,603.75 621.74,603.81 622.23,603.87 622.71,603.92 623.19,603.98 623.68,604.03 624.16,604.07 624.64,604.12 625.13,604.16 625.61,604.20 626.10,604.24 626.58,604.28 627.06,604.31 627.55,604.35 628.03,604.38 628.51,604.41 629.00,604.43 629.48,604.46 629.97,604.49 630.45,604.51 630.93,604.53 631.42,604.55 631.90,604.57 632.39,604.59 632.87,604.61 633.35,604.63 633.84,604.65 634.32,604.66 634.80,604.68 635.29,604.69 635.77,604.70 636.26,604.71 636.74,604.73 637.22,604.74 637.71,604.75 638.19,604.76 638.67,604.77 639.16,604.77 639.64,604.78 640.13,604.79 640.61,604.80 641.09,604.80 641.58,604.81 642.06,604.82 642.55,604.82 643.03,604.83 643.51,604.83 644.00,604.84 644.48,604.84 644.96,604.84 645.45,604.85 645.93,604.85 646.42,604.85 646.90,604.86 647.38,604.86 647.87,604.86 648.35,604.87 648.83,604.87 649.32,604.87 649.80,604.87 650.29,604.87 650.77,604.88 651.25,604.88 651.74,604.88 652.22,604.88 652.71,604.88 653.19,604.88 653.67,604.88 654.16,604.89 654.64,604.89 655.12,604.89 655.61,604.89 656.09,604.89 656.58,604.89 657.06,604.89 657.54,604.89 658.03,604.89 658.51,604.89 658.99,604.89 659.48,604.89 659.96,604.89 660.45,604.89 660.93,604.90 661.41,604.90 661.90,604.90 662.38,604.90 662.87,604.90 663.35,604.90 663.83,604.90 664.32,604.90 664.80,604.90 665.28,604.90 665.77,604.90 666.25,604.90 666.74,604.90 667.22,604.90 667.70,604.90 668.19,604.90 668.67,604.90 669.15,604.90 669.64,604.90 670.12,604.90 670.61,604.90 671.09,604.90 671.57,604.90 672.06,604.90 672.54,604.90 673.03,604.90 673.51,604.90 673.99,604.90 674.48,604.90 674.96,604.90 675.44,604.90 675.93,604.90 676.41,604.90 676.90,604.90 677.38,604.90 677.86,604.90 678.35,604.90 678.83,604.90 679.31,604.90 679.80,604.90 680.28,604.90 680.77,604.90 681.25,604.90 681.73,604.90 682.22,604.90 682.70,604.90 683.18,604.90 683.67,604.90 684.15,604.90 684.64,604.90 685.12,604.90 685.60,604.90 686.09,604.90 686.57,604.90 687.06,604.90 687.54,604.90 688.02,604.90 688.51,604.90 688.99,604.90 689.47,604.90 689.96,604.90 690.44,604.90 690.93,604.90 691.41,604.90 691.89,604.90 692.38,604.90 692.86,604.90 693.34,604.90 693.83,604.90 694.31,604.90 694.80,604.90 695.28,604.90 695.76,604.90 696.25,604.90 696.73,604.90 697.22,604.90 697.70,604.90 698.18,604.90 698.67,604.90 699.15,604.90 699.63,604.90 700.12,604.90 700.60,604.90 701.09,604.90 701.57,604.90 702.05,604.90 702.54,604.90 703.02,604.90 703.50,604.90 703.99,604.90 704.47,604.90 704.96,604.90 705.44,604.90 705.92,604.90 706.41,604.90 706.89,604.90 707.38,604.90 707.86,604.90 708.34,604.90 708.83,604.90 709.31,604.90 709.79,604.90 710.28,604.90 710.76,604.90 711.25,604.90 711.73,604.90 712.21,604.90 712.70,604.90 713.18,604.90 713.66,604.90 714.15,604.90 714.63,604.90 715.12,604.90 715.60,604.90" fill="none" stroke="#377EB8" stroke-width="1.5" stroke-linecap="round" stroke-linejoin="round" stroke-dasharray="1.36 4.08 5.44 4.08"/>
<rect x="414.4" y="339.6" width="313.00" height="275.60" fill="none" stroke="#383838" stroke-width="1"/>
<path d="M453.40 615.20v4.6M522.40 615.20v4.6M591.40 615.20v4.6M660.40 615.20v4.6M414.40 604.90h-4.9M414.40 538.40h-4.9M414.40 471.90h-4.9M414.40 405.40h-4.9" stroke="#383838" stroke-width="1" fill="none"/>
<text x="453.40" y="631.80" text-anchor="middle" font-size="10.7">-0.01</text>
<text x="522.40" y="631.80" text-anchor="middle" font-size="10.7">0.00</text>
<text x="591.40" y="631.80" text-anchor="middle" font-size="10.7">0.01</text>
<text x="660.40" y="631.80" text-anchor="middle" font-size="10.7">0.02</text>
<text transform="translate(403.70,604.90) rotate(-90)" x="0" y="0" text-anchor="middle" font-size="10.7">0</text>
<text transform="translate(403.70,538.40) rotate(-90)" x="0" y="0" text-anchor="middle" font-size="10.7">50</text>
<text transform="translate(403.70,471.90) rotate(-90)" x="0" y="0" text-anchor="middle" font-size="10.7">100</text>
<text transform="translate(403.70,405.40) rotate(-90)" x="0" y="0" text-anchor="middle" font-size="10.7">150</text>
<text x="570.90" y="649.60" text-anchor="middle" font-size="12.0">chol</text>
<text transform="translate(385.40,477.40) rotate(-90)" text-anchor="middle" font-size="12.2">Density</text>
<line x1="638.70" y1="350.50" x2="655.00" y2="350.50" stroke="#000000" stroke-width="1.5" stroke-linecap="round"/>
<text x="662.60" y="353.70" font-size="9.0">MLE</text>
<line x1="638.70" y1="361.50" x2="655.00" y2="361.50" stroke="#E41A1C" stroke-width="1.5" stroke-linecap="round" stroke-dasharray="5.44 5.44"/>
<text x="662.60" y="364.70" font-size="9.0">Claude_Mod</text>
<line x1="638.70" y1="372.50" x2="655.00" y2="372.50" stroke="#4DAF4A" stroke-width="1.5" stroke-linecap="round" stroke-dasharray="1.36 4.08"/>
<text x="662.60" y="375.70" font-size="9.0">Gemini_Mod</text>
<line x1="638.70" y1="383.10" x2="655.00" y2="383.10" stroke="#377EB8" stroke-width="1.5" stroke-linecap="round" stroke-dasharray="1.36 4.08 5.44 4.08"/>
<text x="662.60" y="386.30" font-size="9.0">ChatGPT_Mod</text>
<path d="M77.44 678.50V954.00M135.66 678.50V954.00M193.88 678.50V954.00M252.10 678.50V954.00M310.32 678.50V954.00M38.50 943.70H351.30M38.50 901.02H351.30M38.50 858.34H351.30M38.50 815.66H351.30M38.50 772.98H351.30M38.50 730.30H351.30M38.50 687.62H351.30" stroke="#c8c8c8" stroke-width="0.8" stroke-dasharray="1.0 1.72" fill="none"/>
<polyline points="49.79,943.63 50.27,943.62 50.75,943.62 51.24,943.61 51.72,943.60 52.20,943.59 52.69,943.58 53.17,943.57 53.65,943.56 54.14,943.55 54.62,943.54 55.10,943.53 55.59,943.51 56.07,943.50 56.56,943.48 57.04,943.46 57.52,943.44 58.01,943.42 58.49,943.40 58.97,943.38 59.46,943.36 59.94,943.33 60.42,943.30 60.91,943.27 61.39,943.24 61.87,943.20 62.36,943.17 62.84,943.13 63.32,943.08 63.81,943.04 64.29,942.99 64.78,942.94 65.26,942.88 65.74,942.82 66.23,942.76 66.71,942.70 67.19,942.63 67.68,942.55 68.16,942.47 68.64,942.39 69.13,942.30 69.61,942.20 70.09,942.10 70.58,942.00 71.06,941.88 71.55,941.76 72.03,941.64 72.51,941.50 73.00,941.36 73.48,941.21 73.96,941.05 74.45,940.88 74.93,940.71 75.41,940.52 75.90,940.32 76.38,940.12 76.86,939.90 77.35,939.67 77.83,939.43 78.31,939.17 78.80,938.90 79.28,938.62 79.77,938.33 80.25,938.02 80.73,937.69 81.22,937.35 81.70,936.99 82.18,936.62 82.67,936.23 83.15,935.81 83.63,935.38 84.12,934.94 84.60,934.47 85.08,933.97 85.57,933.46 86.05,932.93 86.54,932.37 87.02,931.79 87.50,931.18 87.99,930.55 88.47,929.89 88.95,929.21 89.44,928.50 89.92,927.76 90.40,926.99 90.89,926.19 91.37,925.36 91.85,924.50 92.34,923.61 92.82,922.69 93.30,921.74 93.79,920.75 94.27,919.72 94.76,918.67 95.24,917.57 95.72,916.44 96.21,915.28 96.69,914.08 97.17,912.84 97.66,911.56 98.14,910.24 98.62,908.88 99.11,907.49 99.59,906.05 100.07,904.58 100.56,903.06 101.04,901.51 101.53,899.91 102.01,898.27 102.49,896.60 102.98,894.88 103.46,893.12 103.94,891.32 104.43,889.47 104.91,887.59 105.39,885.67 105.88,883.71 106.36,881.70 106.84,879.66 107.33,877.58 107.81,875.46 108.29,873.31 108.78,871.12 109.26,868.89 109.75,866.62 110.23,864.33 110.71,861.99 111.20,859.63 111.68,857.24 112.16,854.81 112.65,852.36 113.13,849.88 113.61,847.37 114.10,844.84 114.58,842.29 115.06,839.71 115.55,837.12 116.03,834.51 116.51,831.88 117.00,829.24 117.48,826.59 117.97,823.93 118.45,821.26 118.93,818.58 119.42,815.90 119.90,813.22 120.38,810.54 120.87,807.87 121.35,805.20 121.83,802.54 122.32,799.89 122.80,797.25 123.28,794.63 123.77,792.03 124.25,789.44 124.74,786.89 125.22,784.35 125.70,781.85 126.19,779.38 126.67,776.94 127.15,774.54 127.64,772.18 128.12,769.87 128.60,767.59 129.09,765.37 129.57,763.19 130.05,761.06 130.54,758.99 131.02,756.98 131.50,755.03 131.99,753.13 132.47,751.31 132.96,749.54 133.44,747.85 133.92,746.23 134.41,744.68 134.89,743.20 135.37,741.80 135.86,740.48 136.34,739.24 136.82,738.07 137.31,736.99 137.79,736.00 138.27,735.09 138.76,734.26 139.24,733.53 139.73,732.88 140.21,732.32 140.69,731.85 141.18,731.47 141.66,731.18 142.14,730.99 142.63,730.88 143.11,730.87 143.59,730.95 144.08,731.12 144.56,731.38 145.04,731.73 145.53,732.18 146.01,732.71 146.49,733.33 146.98,734.04 147.46,734.84 147.95,735.73 148.43,736.70 148.91,737.76 149.40,738.89 149.88,740.11 150.36,741.41 150.85,742.79 151.33,744.25 151.81,745.78 152.30,747.38 152.78,749.05 153.26,750.80 153.75,752.60 154.23,754.48 154.72,756.41 155.20,758.41 155.68,760.46 156.17,762.57 156.65,764.74 157.13,766.95 157.62,769.21 158.10,771.52 158.58,773.86 159.07,776.25 159.55,778.68 160.03,781.14 160.52,783.63 161.00,786.16 161.48,788.71 161.97,791.28 162.45,793.88 162.94,796.50 163.42,799.13 163.90,801.78 164.39,804.43 164.87,807.10 165.35,809.78 165.84,812.45 166.32,815.13 166.80,817.81 167.29,820.49 167.77,823.16 168.25,825.83 168.74,828.48 169.22,831.13 169.71,833.76 170.19,836.38 170.67,838.97 171.16,841.55 171.64,844.11 172.12,846.65 172.61,849.16 173.09,851.65 173.57,854.11 174.06,856.55 174.54,858.95 175.02,861.32 175.51,863.66 175.99,865.97 176.47,868.24 176.96,870.48 177.44,872.68 177.93,874.85 178.41,876.98 178.89,879.07 179.38,881.12 179.86,883.14 180.34,885.11 180.83,887.04 181.31,888.94 181.79,890.79 182.28,892.60 182.76,894.38 183.24,896.11 183.73,897.80 184.21,899.45 184.70,901.05 185.18,902.62 185.66,904.15 186.15,905.63 186.63,907.08 187.11,908.49 187.60,909.86 188.08,911.18 188.56,912.47 189.05,913.72 189.53,914.94 190.01,916.11 190.50,917.25 190.98,918.36 191.46,919.43 191.95,920.46 192.43,921.46 192.92,922.42 193.40,923.35 193.88,924.25 194.37,925.12 194.85,925.96 195.33,926.76 195.82,927.54 196.30,928.29 196.78,929.01 197.27,929.70 197.75,930.36 198.23,931.00 198.72,931.62 199.20,932.20 199.68,932.77 200.17,933.31 200.65,933.83 201.14,934.33 201.62,934.80 202.10,935.26 202.59,935.69 203.07,936.11 203.55,936.51 204.04,936.89 204.52,937.25 205.00,937.60 205.49,937.93 205.97,938.24 206.45,938.54 206.94,938.82 207.42,939.10 207.91,939.35 208.39,939.60 208.87,939.83 209.36,940.05 209.84,940.27 210.32,940.46 210.81,940.65 211.29,940.83 211.77,941.00 212.26,941.16 212.74,941.32 213.22,941.46 213.71,941.60 214.19,941.73 214.67,941.85 215.16,941.96 215.64,942.07 216.13,942.17 216.61,942.27 217.09,942.36 217.58,942.45 218.06,942.53 218.54,942.61 219.03,942.68 219.51,942.74 219.99,942.81 220.48,942.87 220.96,942.92 221.44,942.98 221.93,943.02 222.41,943.07 222.90,943.11 223.38,943.15 223.86,943.19 224.35,943.23 224.83,943.26 225.31,943.29 225.80,943.32 226.28,943.35 226.76,943.37 227.25,943.40 227.73,943.42 228.21,943.44 228.70,943.46 229.18,943.48 229.66,943.49 230.15,943.51 230.63,943.52 231.12,943.54 231.60,943.55 232.08,943.56 232.57,943.57 233.05,943.58 233.53,943.59 234.02,943.60 234.50,943.61 234.98,943.61 235.47,943.62 235.95,943.63 236.43,943.63 236.92,943.64 237.40,943.64 237.89,943.65 238.37,943.65 238.85,943.66 239.34,943.66 239.82,943.66 240.30,943.67 240.79,943.67 241.27,943.67 241.75,943.67 242.24,943.68 242.72,943.68 243.20,943.68 243.69,943.68 244.17,943.68 244.65,943.68 245.14,943.69 245.62,943.69 246.11,943.69 246.59,943.69 247.07,943.69 247.56,943.69 248.04,943.69 248.52,943.69 249.01,943.69 249.49,943.69 249.97,943.69 250.46,943.69 250.94,943.70 251.42,943.70 251.91,943.70 252.39,943.70 252.88,943.70 253.36,943.70 253.84,943.70 254.33,943.70 254.81,943.70 255.29,943.70 255.78,943.70 256.26,943.70 256.74,943.70 257.23,943.70 257.71,943.70 258.19,943.70 258.68,943.70 259.16,943.70 259.64,943.70 260.13,943.70 260.61,943.70 261.10,943.70 261.58,943.70 262.06,943.70 262.55,943.70 263.03,943.70 263.51,943.70 264.00,943.70 264.48,943.70 264.96,943.70 265.45,943.70 265.93,943.70 266.41,943.70 266.90,943.70 267.38,943.70 267.87,943.70 268.35,943.70 268.83,943.70 269.32,943.70 269.80,943.70 270.28,943.70 270.77,943.70 271.25,943.70 271.73,943.70 272.22,943.70 272.70,943.70 273.18,943.70 273.67,943.70 274.15,943.70 274.63,943.70 275.12,943.70 275.60,943.70 276.09,943.70 276.57,943.70 277.05,943.70 277.54,943.70 278.02,943.70 278.50,943.70 278.99,943.70 279.47,943.70 279.95,943.70 280.44,943.70 280.92,943.70 281.40,943.70 281.89,943.70 282.37,943.70 282.86,943.70 283.34,943.70 283.82,943.70 284.31,943.70 284.79,943.70 285.27,943.70 285.76,943.70 286.24,943.70 286.72,943.70 287.21,943.70 287.69,943.70 288.17,943.70 288.66,943.70 289.14,943.70 289.62,943.70 290.11,943.70 290.59,943.70 291.08,943.70 291.56,943.70 292.04,943.70 292.53,943.70 293.01,943.70 293.49,943.70 293.98,943.70 294.46,943.70 294.94,943.70 295.43,943.70 295.91,943.70 296.39,943.70 296.88,943.70 297.36,943.70 297.84,943.70 298.33,943.70 298.81,943.70 299.30,943.70 299.78,943.70 300.26,943.70 300.75,943.70 301.23,943.70 301.71,943.70 302.20,943.70 302.68,943.70 303.16,943.70 303.65,943.70 304.13,943.70 304.61,943.70 305.10,943.70 305.58,943.70 306.07,943.70 306.55,943.70 307.03,943.70 307.52,943.70 308.00,943.70 308.48,943.70 308.97,943.70 309.45,943.70 309.93,943.70 310.42,943.70 310.90,943.70 311.38,943.70 311.87,943.70 312.35,943.70 312.83,943.70 313.32,943.70 313.80,943.70 314.29,943.70 314.77,943.70 315.25,943.70 315.74,943.70 316.22,943.70 316.70,943.70 317.19,943.70 317.67,943.70 318.15,943.70 318.64,943.70 319.12,943.70 319.60,943.70 320.09,943.70 320.57,943.70 321.06,943.70 321.54,943.70 322.02,943.70 322.51,943.70 322.99,943.70 323.47,943.70 323.96,943.70 324.44,943.70 324.92,943.70 325.41,943.70 325.89,943.70 326.37,943.70 326.86,943.70 327.34,943.70 327.82,943.70 328.31,943.70 328.79,943.70 329.28,943.70 329.76,943.70 330.24,943.70 330.73,943.70 331.21,943.70 331.69,943.70 332.18,943.70 332.66,943.70 333.14,943.70 333.63,943.70 334.11,943.70 334.59,943.70 335.08,943.70 335.56,943.70 336.05,943.70 336.53,943.70 337.01,943.70 337.50,943.70 337.98,943.70 338.46,943.70 338.95,943.70 339.43,943.70" fill="none" stroke="#000000" stroke-width="1.5" stroke-linecap="round" stroke-linejoin="round"/>
<polyline points="49.79,943.70 50.27,943.70 50.75,943.70 51.24,943.70 51.72,943.70 52.20,943.70 52.69,943.70 53.17,943.70 53.65,943.70 54.14,943.70 54.62,943.70 55.10,943.70 55.59,943.70 56.07,943.70 56.56,943.70 57.04,943.70 57.52,943.70 58.01,943.70 58.49,943.70 58.97,943.70 59.46,943.70 59.94,943.70 60.42,943.70 60.91,943.70 61.39,943.70 61.87,943.70 62.36,943.70 62.84,943.70 63.32,943.70 63.81,943.70 64.29,943.70 64.78,943.70 65.26,943.70 65.74,943.70 66.23,943.70 66.71,943.70 67.19,943.70 67.68,943.70 68.16,943.70 68.64,943.70 69.13,943.70 69.61,943.70 70.09,943.70 70.58,943.70 71.06,943.70 71.55,943.70 72.03,943.70 72.51,943.70 73.00,943.70 73.48,943.70 73.96,943.70 74.45,943.70 74.93,943.70 75.41,943.70 75.90,943.70 76.38,943.70 76.86,943.70 77.35,943.70 77.83,943.70 78.31,943.70 78.80,943.70 79.28,943.70 79.77,943.70 80.25,943.70 80.73,943.70 81.22,943.70 81.70,943.70 82.18,943.70 82.67,943.70 83.15,943.70 83.63,943.70 84.12,943.70 84.60,943.70 85.08,943.70 85.57,943.70 86.05,943.70 86.54,943.70 87.02,943.70 87.50,943.70 87.99,943.70 88.47,943.70 88.95,943.70 89.44,943.70 89.92,943.70 90.40,943.69 90.89,943.69 91.37,943.69 91.85,943.69 92.34,943.69 92.82,943.69 93.30,943.69 93.79,943.69 94.27,943.69 94.76,943.69 95.24,943.69 95.72,943.69 96.21,943.69 96.69,943.69 97.17,943.69 97.66,943.68 98.14,943.68 98.62,943.68 99.11,943.68 99.59,943.68 100.07,943.68 100.56,943.68 101.04,943.67 101.53,943.67 102.01,943.67 102.49,943.67 102.98,943.67 103.46,943.66 103.94,943.66 104.43,943.66 104.91,943.65 105.39,943.65 105.88,943.65 106.36,943.64 106.84,943.64 107.33,943.64 107.81,943.63 108.29,943.63 108.78,943.62 109.26,943.62 109.75,943.61 110.23,943.61 110.71,943.60 111.20,943.59 111.68,943.59 112.16,943.58 112.65,943.57 113.13,943.56 113.61,943.55 114.10,943.54 114.58,943.53 115.06,943.52 115.55,943.51 116.03,943.50 116.51,943.49 117.00,943.47 117.48,943.46 117.97,943.45 118.45,943.43 118.93,943.41 119.42,943.40 119.90,943.38 120.38,943.36 120.87,943.34 121.35,943.32 121.83,943.29 122.32,943.27 122.80,943.24 123.28,943.22 123.77,943.19 124.25,943.16 124.74,943.13 125.22,943.10 125.70,943.06 126.19,943.02 126.67,942.99 127.15,942.95 127.64,942.90 128.12,942.86 128.60,942.81 129.09,942.76 129.57,942.71 130.05,942.66 130.54,942.60 131.02,942.54 131.50,942.48 131.99,942.41 132.47,942.35 132.96,942.27 133.44,942.20 133.92,942.12 134.41,942.04 134.89,941.95 135.37,941.86 135.86,941.77 136.34,941.67 136.82,941.57 137.31,941.46 137.79,941.35 138.27,941.23 138.76,941.11 139.24,940.98 139.73,940.85 140.21,940.71 140.69,940.57 141.18,940.42 141.66,940.26 142.14,940.10 142.63,939.93 143.11,939.76 143.59,939.57 144.08,939.38 144.56,939.18 145.04,938.98 145.53,938.76 146.01,938.54 146.49,938.31 146.98,938.07 147.46,937.82 147.95,937.56 148.43,937.29 148.91,937.02 149.40,936.73 149.88,936.43 150.36,936.12 150.85,935.80 151.33,935.47 151.81,935.13 152.30,934.78 152.78,934.41 153.26,934.03 153.75,933.64 154.23,933.24 154.72,932.82 155.20,932.39 155.68,931.95 156.17,931.49 156.65,931.01 157.13,930.53 157.62,930.02 158.10,929.51 158.58,928.97 159.07,928.42 159.55,927.86 160.03,927.28 160.52,926.68 161.00,926.06 161.48,925.43 161.97,924.78 162.45,924.11 162.94,923.43 163.42,922.72 163.90,922.00 164.39,921.26 164.87,920.50 165.35,919.72 165.84,918.92 166.32,918.10 166.80,917.27 167.29,916.41 167.77,915.53 168.25,914.63 168.74,913.71 169.22,912.78 169.71,911.82 170.19,910.84 170.67,909.84 171.16,908.82 171.64,907.77 172.12,906.71 172.61,905.63 173.09,904.52 173.57,903.39 174.06,902.25 174.54,901.08 175.02,899.89 175.51,898.68 175.99,897.45 176.47,896.20 176.96,894.93 177.44,893.64 177.93,892.33 178.41,891.00 178.89,889.65 179.38,888.28 179.86,886.89 180.34,885.48 180.83,884.05 181.31,882.61 181.79,881.15 182.28,879.67 182.76,878.17 183.24,876.66 183.73,875.13 184.21,873.59 184.70,872.03 185.18,870.46 185.66,868.87 186.15,867.27 186.63,865.66 187.11,864.03 187.60,862.39 188.08,860.75 188.56,859.09 189.05,857.42 189.53,855.75 190.01,854.06 190.50,852.37 190.98,850.68 191.46,848.98 191.95,847.27 192.43,845.56 192.92,843.85 193.40,842.13 193.88,840.42 194.37,838.70 194.85,836.99 195.33,835.28 195.82,833.57 196.30,831.86 196.78,830.16 197.27,828.47 197.75,826.78 198.23,825.10 198.72,823.43 199.20,821.77 199.68,820.12 200.17,818.48 200.65,816.86 201.14,815.25 201.62,813.65 202.10,812.08 202.59,810.52 203.07,808.97 203.55,807.45 204.04,805.95 204.52,804.47 205.00,803.02 205.49,801.59 205.97,800.18 206.45,798.80 206.94,797.45 207.42,796.12 207.91,794.82 208.39,793.56 208.87,792.32 209.36,791.12 209.84,789.95 210.32,788.81 210.81,787.71 211.29,786.64 211.77,785.61 212.26,784.62 212.74,783.66 213.22,782.75 213.71,781.87 214.19,781.03 214.67,780.24 215.16,779.48 215.64,778.77 216.13,778.10 216.61,777.47 217.09,776.89 217.58,776.35 218.06,775.86 218.54,775.41 219.03,775.00 219.51,774.64 219.99,774.33 220.48,774.06 220.96,773.84 221.44,773.67 221.93,773.54 222.41,773.47 222.90,773.43 223.38,773.45 223.86,773.51 224.35,773.62 224.83,773.77 225.31,773.97 225.80,774.22 226.28,774.52 226.76,774.86 227.25,775.24 227.73,775.67 228.21,776.15 228.70,776.67 229.18,777.24 229.66,777.85 230.15,778.50 230.63,779.20 231.12,779.94 231.60,780.72 232.08,781.54 232.57,782.40 233.05,783.30 233.53,784.24 234.02,785.22 234.50,786.24 234.98,787.29 235.47,788.38 235.95,789.50 236.43,790.66 236.92,791.85 237.40,793.07 237.89,794.32 238.37,795.61 238.85,796.92 239.34,798.27 239.82,799.64 240.30,801.03 240.79,802.45 241.27,803.90 241.75,805.37 242.24,806.86 242.72,808.38 243.20,809.91 243.69,811.46 244.17,813.03 244.65,814.62 245.14,816.22 245.62,817.84 246.11,819.47 246.59,821.12 247.07,822.78 247.56,824.44 248.04,826.12 248.52,827.80 249.01,829.50 249.49,831.19 249.97,832.90 250.46,834.61 250.94,836.32 251.42,838.03 251.91,839.75 252.39,841.46 252.88,843.18 253.36,844.89 253.84,846.60 254.33,848.31 254.81,850.01 255.29,851.71 255.78,853.40 256.26,855.09 256.74,856.77 257.23,858.44 257.71,860.10 258.19,861.75 258.68,863.39 259.16,865.02 259.64,866.64 260.13,868.24 260.61,869.84 261.10,871.41 261.58,872.98 262.06,874.53 262.55,876.06 263.03,877.58 263.51,879.08 264.00,880.57 264.48,882.04 264.96,883.49 265.45,884.92 265.93,886.34 266.41,887.73 266.90,889.11 267.38,890.47 267.87,891.81 268.35,893.13 268.83,894.43 269.32,895.71 269.80,896.96 270.28,898.20 270.77,899.42 271.25,900.62 271.73,901.79 272.22,902.95 272.70,904.08 273.18,905.19 273.67,906.29 274.15,907.36 274.63,908.41 275.12,909.44 275.60,910.45 276.09,911.44 276.57,912.40 277.05,913.35 277.54,914.28 278.02,915.18 278.50,916.07 278.99,916.93 279.47,917.78 279.95,918.60 280.44,919.41 280.92,920.20 281.40,920.96 281.89,921.71 282.37,922.44 282.86,923.15 283.34,923.84 283.82,924.52 284.31,925.18 284.79,925.82 285.27,926.44 285.76,927.04 286.24,927.63 286.72,928.20 287.21,928.76 287.69,929.30 288.17,929.82 288.66,930.33 289.14,930.82 289.62,931.30 290.11,931.77 290.59,932.22 291.08,932.65 291.56,933.08 292.04,933.48 292.53,933.88 293.01,934.26 293.49,934.63 293.98,934.99 294.46,935.34 294.94,935.68 295.43,936.00 295.91,936.31 296.39,936.61 296.88,936.91 297.36,937.19 297.84,937.46 298.33,937.72 298.81,937.97 299.30,938.22 299.78,938.45 300.26,938.68 300.75,938.89 301.23,939.10 301.71,939.30 302.20,939.50 302.68,939.68 303.16,939.86 303.65,940.04 304.13,940.20 304.61,940.36 305.10,940.51 305.58,940.66 306.07,940.80 306.55,940.93 307.03,941.06 307.52,941.19 308.00,941.31 308.48,941.42 308.97,941.53 309.45,941.63 309.93,941.73 310.42,941.83 310.90,941.92 311.38,942.01 311.87,942.09 312.35,942.17 312.83,942.25 313.32,942.32 313.80,942.39 314.29,942.45 314.77,942.52 315.25,942.58 315.74,942.64 316.22,942.69 316.70,942.74 317.19,942.79 317.67,942.84 318.15,942.89 318.64,942.93 319.12,942.97 319.60,943.01 320.09,943.05 320.57,943.08 321.06,943.12 321.54,943.15 322.02,943.18 322.51,943.21 322.99,943.23 323.47,943.26 323.96,943.28 324.44,943.31 324.92,943.33 325.41,943.35 325.89,943.37 326.37,943.39 326.86,943.41 327.34,943.42 327.82,943.44 328.31,943.46 328.79,943.47 329.28,943.48 329.76,943.50 330.24,943.51 330.73,943.52 331.21,943.53 331.69,943.54 332.18,943.55 332.66,943.56 333.14,943.57 333.63,943.58 334.11,943.58 334.59,943.59 335.08,943.60 335.56,943.60 336.05,943.61 336.53,943.62 337.01,943.62 337.50,943.63 337.98,943.63 338.46,943.63 338.95,943.64 339.43,943.64" fill="none" stroke="#E41A1C" stroke-width="1.5" stroke-linecap="round" stroke-linejoin="round" stroke-dasharray="5.44 5.44"/>
<polyline points="49.79,943.70 50.27,943.70 50.75,943.70 51.24,943.70 51.72,943.70 52.20,943.70 52.69,943.70 53.17,943.70 53.65,943.70 54.14,943.70 54.62,943.70 55.10,943.70 55.59,943.70 56.07,943.70 56.56,943.70 57.04,943.70 57.52,943.70 58.01,943.70 58.49,943.70 58.97,943.70 59.46,943.70 59.94,943.70 60.42,943.70 60.91,943.69 61.39,943.69 61.87,943.69 62.36,943.69 62.84,943.69 63.32,943.69 63.81,943.69 64.29,943.69 64.78,943.69 65.26,943.69 65.74,943.69 66.23,943.69 66.71,943.69 67.19,943.69 67.68,943.69 68.16,943.68 68.64,943.68 69.13,943.68 69.61,943.68 70.09,943.68 70.58,943.68 71.06,943.68 71.55,943.68 72.03,943.67 72.51,943.67 73.00,943.67 73.48,943.67 73.96,943.66 74.45,943.66 74.93,943.66 75.41,943.66 75.90,943.65 76.38,943.65 76.86,943.65 77.35,943.64 77.83,943.64 78.31,943.64 78.80,943.63 79.28,943.63 79.77,943.62 80.25,943.62 80.73,943.61 81.22,943.60 81.70,943.60 82.18,943.59 82.67,943.58 83.15,943.58 83.63,943.57 84.12,943.56 84.60,943.55 85.08,943.54 85.57,943.53 86.05,943.52 86.54,943.51 87.02,943.50 87.50,943.49 87.99,943.47 88.47,943.46 88.95,943.44 89.44,943.43 89.92,943.41 90.40,943.39 90.89,943.37 91.37,943.35 91.85,943.33 92.34,943.31 92.82,943.29 93.30,943.26 93.79,943.24 94.27,943.21 94.76,943.18 95.24,943.15 95.72,943.12 96.21,943.09 96.69,943.05 97.17,943.02 97.66,942.98 98.14,942.94 98.62,942.89 99.11,942.85 99.59,942.80 100.07,942.75 100.56,942.70 101.04,942.65 101.53,942.59 102.01,942.53 102.49,942.47 102.98,942.40 103.46,942.33 103.94,942.26 104.43,942.18 104.91,942.11 105.39,942.02 105.88,941.94 106.36,941.85 106.84,941.75 107.33,941.65 107.81,941.55 108.29,941.44 108.78,941.33 109.26,941.21 109.75,941.09 110.23,940.96 110.71,940.82 111.20,940.69 111.68,940.54 112.16,940.39 112.65,940.23 113.13,940.07 113.61,939.90 114.10,939.72 114.58,939.53 115.06,939.34 115.55,939.14 116.03,938.93 116.51,938.72 117.00,938.49 117.48,938.26 117.97,938.02 118.45,937.77 118.93,937.51 119.42,937.24 119.90,936.96 120.38,936.67 120.87,936.37 121.35,936.06 121.83,935.74 122.32,935.41 122.80,935.06 123.28,934.70 123.77,934.34 124.25,933.95 124.74,933.56 125.22,933.15 125.70,932.73 126.19,932.30 126.67,931.85 127.15,931.39 127.64,930.92 128.12,930.43 128.60,929.92 129.09,929.40 129.57,928.86 130.05,928.31 130.54,927.74 131.02,927.16 131.50,926.55 131.99,925.94 132.47,925.30 132.96,924.65 133.44,923.98 133.92,923.29 134.41,922.58 134.89,921.85 135.37,921.11 135.86,920.34 136.34,919.56 136.82,918.76 137.31,917.94 137.79,917.09 138.27,916.23 138.76,915.35 139.24,914.45 139.73,913.53 140.21,912.59 140.69,911.62 141.18,910.64 141.66,909.63 142.14,908.61 142.63,907.56 143.11,906.49 143.59,905.41 144.08,904.30 144.56,903.17 145.04,902.01 145.53,900.84 146.01,899.65 146.49,898.44 146.98,897.20 147.46,895.95 147.95,894.67 148.43,893.38 148.91,892.06 149.40,890.73 149.88,889.37 150.36,888.00 150.85,886.61 151.33,885.19 151.81,883.77 152.30,882.32 152.78,880.85 153.26,879.37 153.75,877.87 154.23,876.36 154.72,874.82 155.20,873.28 155.68,871.71 156.17,870.14 156.65,868.55 157.13,866.95 157.62,865.33 158.10,863.70 158.58,862.06 159.07,860.41 159.55,858.75 160.03,857.09 160.52,855.41 161.00,853.73 161.48,852.03 161.97,850.34 162.45,848.63 162.94,846.93 163.42,845.22 163.90,843.50 164.39,841.79 164.87,840.07 165.35,838.36 165.84,836.64 166.32,834.93 166.80,833.22 167.29,831.52 167.77,829.82 168.25,828.13 168.74,826.44 169.22,824.76 169.71,823.09 170.19,821.43 170.67,819.79 171.16,818.15 171.64,816.53 172.12,814.93 172.61,813.33 173.09,811.76 173.57,810.20 174.06,808.67 174.54,807.15 175.02,805.65 175.51,804.18 175.99,802.73 176.47,801.30 176.96,799.90 177.44,798.53 177.93,797.18 178.41,795.86 178.89,794.57 179.38,793.31 179.86,792.08 180.34,790.88 180.83,789.72 181.31,788.59 181.79,787.49 182.28,786.43 182.76,785.41 183.24,784.42 183.73,783.48 184.21,782.57 184.70,781.70 185.18,780.87 185.66,780.08 186.15,779.34 186.63,778.63 187.11,777.97 187.60,777.35 188.08,776.78 188.56,776.25 189.05,775.76 189.53,775.32 190.01,774.93 190.50,774.58 190.98,774.27 191.46,774.02 191.95,773.81 192.43,773.64 192.92,773.52 193.40,773.45 193.88,773.43 194.37,773.46 194.85,773.53 195.33,773.64 195.82,773.81 196.30,774.02 196.78,774.28 197.27,774.58 197.75,774.93 198.23,775.33 198.72,775.77 199.20,776.25 199.68,776.78 200.17,777.36 200.65,777.98 201.14,778.64 201.62,779.34 202.10,780.09 202.59,780.88 203.07,781.71 203.55,782.58 204.04,783.49 204.52,784.43 205.00,785.42 205.49,786.44 205.97,787.50 206.45,788.60 206.94,789.73 207.42,790.89 207.91,792.09 208.39,793.32 208.87,794.58 209.36,795.87 209.84,797.19 210.32,798.54 210.81,799.91 211.29,801.32 211.77,802.74 212.26,804.19 212.74,805.67 213.22,807.17 213.71,808.68 214.19,810.22 214.67,811.78 215.16,813.35 215.64,814.94 216.13,816.55 216.61,818.17 217.09,819.80 217.58,821.45 218.06,823.11 218.54,824.78 219.03,826.46 219.51,828.14 219.99,829.84 220.48,831.54 220.96,833.24 221.44,834.95 221.93,836.66 222.41,838.38 222.90,840.09 223.38,841.81 223.86,843.52 224.35,845.23 224.83,846.94 225.31,848.65 225.80,850.35 226.28,852.05 226.76,853.74 227.25,855.43 227.73,857.10 228.21,858.77 228.70,860.43 229.18,862.08 229.66,863.72 230.15,865.35 230.63,866.96 231.12,868.56 231.60,870.15 232.08,871.73 232.57,873.29 233.05,874.84 233.53,876.37 234.02,877.89 234.50,879.38 234.98,880.87 235.47,882.33 235.95,883.78 236.43,885.21 236.92,886.62 237.40,888.01 237.89,889.39 238.37,890.74 238.85,892.07 239.34,893.39 239.82,894.68 240.30,895.96 240.79,897.21 241.27,898.45 241.75,899.66 242.24,900.85 242.72,902.03 243.20,903.18 243.69,904.31 244.17,905.42 244.65,906.50 245.14,907.57 245.62,908.62 246.11,909.64 246.59,910.65 247.07,911.63 247.56,912.59 248.04,913.54 248.52,914.46 249.01,915.36 249.49,916.24 249.97,917.10 250.46,917.94 250.94,918.77 251.42,919.57 251.91,920.35 252.39,921.11 252.88,921.86 253.36,922.59 253.84,923.29 254.33,923.98 254.81,924.65 255.29,925.31 255.78,925.94 256.26,926.56 256.74,927.16 257.23,927.75 257.71,928.32 258.19,928.87 258.68,929.40 259.16,929.93 259.64,930.43 260.13,930.92 260.61,931.40 261.10,931.86 261.58,932.31 262.06,932.74 262.55,933.16 263.03,933.57 263.51,933.96 264.00,934.34 264.48,934.71 264.96,935.06 265.45,935.41 265.93,935.74 266.41,936.06 266.90,936.37 267.38,936.67 267.87,936.96 268.35,937.24 268.83,937.51 269.32,937.77 269.80,938.02 270.28,938.26 270.77,938.50 271.25,938.72 271.73,938.94 272.22,939.14 272.70,939.34 273.18,939.54 273.67,939.72 274.15,939.90 274.63,940.07 275.12,940.23 275.60,940.39 276.09,940.54 276.57,940.69 277.05,940.83 277.54,940.96 278.02,941.09 278.50,941.21 278.99,941.33 279.47,941.44 279.95,941.55 280.44,941.65 280.92,941.75 281.40,941.85 281.89,941.94 282.37,942.02 282.86,942.11 283.34,942.19 283.82,942.26 284.31,942.33 284.79,942.40 285.27,942.47 285.76,942.53 286.24,942.59 286.72,942.65 287.21,942.70 287.69,942.75 288.17,942.80 288.66,942.85 289.14,942.90 289.62,942.94 290.11,942.98 290.59,943.02 291.08,943.05 291.56,943.09 292.04,943.12 292.53,943.15 293.01,943.18 293.49,943.21 293.98,943.24 294.46,943.26 294.94,943.29 295.43,943.31 295.91,943.33 296.39,943.35 296.88,943.37 297.36,943.39 297.84,943.41 298.33,943.43 298.81,943.44 299.30,943.46 299.78,943.47 300.26,943.49 300.75,943.50 301.23,943.51 301.71,943.52 302.20,943.53 302.68,943.54 303.16,943.55 303.65,943.56 304.13,943.57 304.61,943.58 305.10,943.58 305.58,943.59 306.07,943.60 306.55,943.60 307.03,943.61 307.52,943.62 308.00,943.62 308.48,943.63 308.97,943.63 309.45,943.64 309.93,943.64 310.42,943.64 310.90,943.65 311.38,943.65 311.87,943.65 312.35,943.66 312.83,943.66 313.32,943.66 313.80,943.66 314.29,943.67 314.77,943.67 315.25,943.67 315.74,943.67 316.22,943.68 316.70,943.68 317.19,943.68 317.67,943.68 318.15,943.68 318.64,943.68 319.12,943.68 319.60,943.68 320.09,943.69 320.57,943.69 321.06,943.69 321.54,943.69 322.02,943.69 322.51,943.69 322.99,943.69 323.47,943.69 323.96,943.69 324.44,943.69 324.92,943.69 325.41,943.69 325.89,943.69 326.37,943.69 326.86,943.69 327.34,943.70 327.82,943.70 328.31,943.70 328.79,943.70 329.28,943.70 329.76,943.70 330.24,943.70 330.73,943.70 331.21,943.70 331.69,943.70 332.18,943.70 332.66,943.70 333.14,943.70 333.63,943.70 334.11,943.70 334.59,943.70 335.08,943.70 335.56,943.70 336.05,943.70 336.53,943.70 337.01,943.70 337.50,943.70 337.98,943.70 338.46,943.70 338.95,943.70 339.43,943.70" fill="none" stroke="#4DAF4A" stroke-width="1.5" stroke-linecap="round" stroke-linejoin="round" stroke-dasharray="1.36 4.08"/>
<polyline points="49.79,943.70 50.27,943.70 50.75,943.70 51.24,943.70 51.72,943.70 52.20,943.70 52.69,943.70 53.17,943.70 53.65,943.70 54.14,943.70 54.62,943.70 55.10,943.70 55.59,943.70 56.07,943.70 56.56,943.70 57.04,943.70 57.52,943.70 58.01,943.70 58.49,943.70 58.97,943.70 59.46,943.70 59.94,943.70 60.42,943.70 60.91,943.69 61.39,943.69 61.87,943.69 62.36,943.69 62.84,943.69 63.32,943.69 63.81,943.69 64.29,943.69 64.78,943.69 65.26,943.69 65.74,943.69 66.23,943.69 66.71,943.69 67.19,943.69 67.68,943.69 68.16,943.68 68.64,943.68 69.13,943.68 69.61,943.68 70.09,943.68 70.58,943.68 71.06,943.68 71.55,943.68 72.03,943.67 72.51,943.67 73.00,943.67 73.48,943.67 73.96,943.66 74.45,943.66 74.93,943.66 75.41,943.66 75.90,943.65 76.38,943.65 76.86,943.65 77.35,943.64 77.83,943.64 78.31,943.64 78.80,943.63 79.28,943.63 79.77,943.62 80.25,943.62 80.73,943.61 81.22,943.60 81.70,943.60 82.18,943.59 82.67,943.58 83.15,943.58 83.63,943.57 84.12,943.56 84.60,943.55 85.08,943.54 85.57,943.53 86.05,943.52 86.54,943.51 87.02,943.50 87.50,943.49 87.99,943.47 88.47,943.46 88.95,943.44 89.44,943.43 89.92,943.41 90.40,943.39 90.89,943.37 91.37,943.35 91.85,943.33 92.34,943.31 92.82,943.29 93.30,943.26 93.79,943.24 94.27,943.21 94.76,943.18 95.24,943.15 95.72,943.12 96.21,943.09 96.69,943.05 97.17,943.02 97.66,942.98 98.14,942.94 98.62,942.89 99.11,942.85 99.59,942.80 100.07,942.75 100.56,942.70 101.04,942.65 101.53,942.59 102.01,942.53 102.49,942.47 102.98,942.40 103.46,942.33 103.94,942.26 104.43,942.18 104.91,942.11 105.39,942.02 105.88,941.94 106.36,941.85 106.84,941.75 107.33,941.65 107.81,941.55 108.29,941.44 108.78,941.33 109.26,941.21 109.75,941.09 110.23,940.96 110.71,940.82 111.20,940.69 111.68,940.54 112.16,940.39 112.65,940.23 113.13,940.07 113.61,939.90 114.10,939.72 114.58,939.53 115.06,939.34 115.55,939.14 116.03,938.93 116.51,938.72 117.00,938.49 117.48,938.26 117.97,938.02 118.45,937.77 118.93,937.51 119.42,937.24 119.90,936.96 120.38,936.67 120.87,936.37 121.35,936.06 121.83,935.74 122.32,935.41 122.80,935.06 123.28,934.70 123.77,934.34 124.25,933.95 124.74,933.56 125.22,933.15 125.70,932.73 126.19,932.30 126.67,931.85 127.15,931.39 127.64,930.92 128.12,930.43 128.60,929.92 129.09,929.40 129.57,928.86 130.05,928.31 130.54,927.74 131.02,927.16 131.50,926.55 131.99,925.94 132.47,925.30 132.96,924.65 133.44,923.98 133.92,923.29 134.41,922.58 134.89,921.85 135.37,921.11 135.86,920.34 136.34,919.56 136.82,918.76 137.31,917.94 137.79,917.09 138.27,916.23 138.76,915.35 139.24,914.45 139.73,913.53 140.21,912.59 140.69,911.62 141.18,910.64 141.66,909.63 142.14,908.61 142.63,907.56 143.11,906.49 143.59,905.41 144.08,904.30 144.56,903.17 145.04,902.01 145.53,900.84 146.01,899.65 146.49,898.44 146.98,897.20 147.46,895.95 147.95,894.67 148.43,893.38 148.91,892.06 149.40,890.73 149.88,889.37 150.36,888.00 150.85,886.61 151.33,885.19 151.81,883.77 152.30,882.32 152.78,880.85 153.26,879.37 153.75,877.87 154.23,876.36 154.72,874.82 155.20,873.28 155.68,871.71 156.17,870.14 156.65,868.55 157.13,866.95 157.62,865.33 158.10,863.70 158.58,862.06 159.07,860.41 159.55,858.75 160.03,857.09 160.52,855.41 161.00,853.73 161.48,852.03 161.97,850.34 162.45,848.63 162.94,846.93 163.42,845.22 163.90,843.50 164.39,841.79 164.87,840.07 165.35,838.36 165.84,836.64 166.32,834.93 166.80,833.22 167.29,831.52 167.77,829.82 168.25,828.13 168.74,826.44 169.22,824.76 169.71,823.09 170.19,821.43 170.67,819.79 171.16,818.15 171.64,816.53 172.12,814.93 172.61,813.33 173.09,811.76 173.57,810.20 174.06,808.67 174.54,807.15 175.02,805.65 175.51,804.18 175.99,802.73 176.47,801.30 176.96,799.90 177.44,798.53 177.93,797.18 178.41,795.86 178.89,794.57 179.38,793.31 179.86,792.08 180.34,790.88 180.83,789.72 181.31,788.59 181.79,787.49 182.28,786.43 182.76,785.41 183.24,784.42 183.73,783.48 184.21,782.57 184.70,781.70 185.18,780.87 185.66,780.08 186.15,779.34 186.63,778.63 187.11,777.97 187.60,777.35 188.08,776.78 188.56,776.25 189.05,775.76 189.53,775.32 190.01,774.93 190.50,774.58 190.98,774.27 191.46,774.02 191.95,773.81 192.43,773.64 192.92,773.52 193.40,773.45 193.88,773.43 194.37,773.46 194.85,773.53 195.33,773.64 195.82,773.81 196.30,774.02 196.78,774.28 197.27,774.58 197.75,774.93 198.23,775.33 198.72,775.77 199.20,776.25 199.68,776.78 200.17,777.36 200.65,777.98 201.14,778.64 201.62,779.34 202.10,780.09 202.59,780.88 203.07,781.71 203.55,782.58 204.04,783.49 204.52,784.43 205.00,785.42 205.49,786.44 205.97,787.50 206.45,788.60 206.94,789.73 207.42,790.89 207.91,792.09 208.39,793.32 208.87,794.58 209.36,795.87 209.84,797.19 210.32,798.54 210.81,799.91 211.29,801.32 211.77,802.74 212.26,804.19 212.74,805.67 213.22,807.17 213.71,808.68 214.19,810.22 214.67,811.78 215.16,813.35 215.64,814.94 216.13,816.55 216.61,818.17 217.09,819.80 217.58,821.45 218.06,823.11 218.54,824.78 219.03,826.46 219.51,828.14 219.99,829.84 220.48,831.54 220.96,833.24 221.44,834.95 221.93,836.66 222.41,838.38 222.90,840.09 223.38,841.81 223.86,843.52 224.35,845.23 224.83,846.94 225.31,848.65 225.80,850.35 226.28,852.05 226.76,853.74 227.25,855.43 227.73,857.10 228.21,858.77 228.70,860.43 229.18,862.08 229.66,863.72 230.15,865.35 230.63,866.96 231.12,868.56 231.60,870.15 232.08,871.73 232.57,873.29 233.05,874.84 233.53,876.37 234.02,877.89 234.50,879.38 234.98,880.87 235.47,882.33 235.95,883.78 236.43,885.21 236.92,886.62 237.40,888.01 237.89,889.39 238.37,890.74 238.85,892.07 239.34,893.39 239.82,894.68 240.30,895.96 240.79,897.21 241.27,898.45 241.75,899.66 242.24,900.85 242.72,902.03 243.20,903.18 243.69,904.31 244.17,905.42 244.65,906.50 245.14,907.57 245.62,908.62 246.11,909.64 246.59,910.65 247.07,911.63 247.56,912.59 248.04,913.54 248.52,914.46 249.01,915.36 249.49,916.24 249.97,917.10 250.46,917.94 250.94,918.77 251.42,919.57 251.91,920.35 252.39,921.11 252.88,921.86 253.36,922.59 253.84,923.29 254.33,923.98 254.81,924.65 255.29,925.31 255.78,925.94 256.26,926.56 256.74,927.16 257.23,927.75 257.71,928.32 258.19,928.87 258.68,929.40 259.16,929.93 259.64,930.43 260.13,930.92 260.61,931.40 261.10,931.86 261.58,932.31 262.06,932.74 262.55,933.16 263.03,933.57 263.51,933.96 264.00,934.34 264.48,934.71 264.96,935.06 265.45,935.41 265.93,935.74 266.41,936.06 266.90,936.37 267.38,936.67 267.87,936.96 268.35,937.24 268.83,937.51 269.32,937.77 269.80,938.02 270.28,938.26 270.77,938.50 271.25,938.72 271.73,938.94 272.22,939.14 272.70,939.34 273.18,939.54 273.67,939.72 274.15,939.90 274.63,940.07 275.12,940.23 275.60,940.39 276.09,940.54 276.57,940.69 277.05,940.83 277.54,940.96 278.02,941.09 278.50,941.21 278.99,941.33 279.47,941.44 279.95,941.55 280.44,941.65 280.92,941.75 281.40,941.85 281.89,941.94 282.37,942.02 282.86,942.11 283.34,942.19 283.82,942.26 284.31,942.33 284.79,942.40 285.27,942.47 285.76,942.53 286.24,942.59 286.72,942.65 287.21,942.70 287.69,942.75 288.17,942.80 288.66,942.85 289.14,942.90 289.62,942.94 290.11,942.98 290.59,943.02 291.08,943.05 291.56,943.09 292.04,943.12 292.53,943.15 293.01,943.18 293.49,943.21 293.98,943.24 294.46,943.26 294.94,943.29 295.43,943.31 295.91,943.33 296.39,943.35 296.88,943.37 297.36,943.39 297.84,943.41 298.33,943.43 298.81,943.44 299.30,943.46 299.78,943.47 300.26,943.49 300.75,943.50 301.23,943.51 301.71,943.52 302.20,943.53 302.68,943.54 303.16,943.55 303.65,943.56 304.13,943.57 304.61,943.58 305.10,943.58 305.58,943.59 306.07,943.60 306.55,943.60 307.03,943.61 307.52,943.62 308.00,943.62 308.48,943.63 308.97,943.63 309.45,943.64 309.93,943.64 310.42,943.64 310.90,943.65 311.38,943.65 311.87,943.65 312.35,943.66 312.83,943.66 313.32,943.66 313.80,943.66 314.29,943.67 314.77,943.67 315.25,943.67 315.74,943.67 316.22,943.68 316.70,943.68 317.19,943.68 317.67,943.68 318.15,943.68 318.64,943.68 319.12,943.68 319.60,943.68 320.09,943.69 320.57,943.69 321.06,943.69 321.54,943.69 322.02,943.69 322.51,943.69 322.99,943.69 323.47,943.69 323.96,943.69 324.44,943.69 324.92,943.69 325.41,943.69 325.89,943.69 326.37,943.69 326.86,943.69 327.34,943.70 327.82,943.70 328.31,943.70 328.79,943.70 329.28,943.70 329.76,943.70 330.24,943.70 330.73,943.70 331.21,943.70 331.69,943.70 332.18,943.70 332.66,943.70 333.14,943.70 333.63,943.70 334.11,943.70 334.59,943.70 335.08,943.70 335.56,943.70 336.05,943.70 336.53,943.70 337.01,943.70 337.50,943.70 337.98,943.70 338.46,943.70 338.95,943.70 339.43,943.70" fill="none" stroke="#377EB8" stroke-width="1.5" stroke-linecap="round" stroke-linejoin="round" stroke-dasharray="1.36 4.08 5.44 4.08"/>
<rect x="38.5" y="678.5" width="312.80" height="275.50" fill="none" stroke="#383838" stroke-width="1"/>
<path d="M77.44 954.00v4.6M135.66 954.00v4.6M193.88 954.00v4.6M252.10 954.00v4.6M310.32 954.00v4.6M38.50 943.70h-4.9M38.50 901.02h-4.9M38.50 858.34h-4.9M38.50 815.66h-4.9M38.50 772.98h-4.9M38.50 730.30h-4.9M38.50 687.62h-4.9" stroke="#383838" stroke-width="1" fill="none"/>
<text x="77.44" y="970.60" text-anchor="middle" font-size="10.7">-0.06</text>
<text x="135.66" y="970.60" text-anchor="middle" font-size="10.7">-0.04</text>
<text x="193.88" y="970.60" text-anchor="middle" font-size="10.7">-0.02</text>
<text x="252.10" y="970.60" text-anchor="middle" font-size="10.7">0.00</text>
<text x="310.32" y="970.60" text-anchor="middle" font-size="10.7">0.02</text>
<text transform="translate(27.80,943.70) rotate(-90)" x="0" y="0" text-anchor="middle" font-size="10.7">0</text>
<text transform="translate(27.80,901.02) rotate(-90)" x="0" y="0" text-anchor="middle" font-size="10.7">10</text>
<text transform="translate(27.80,858.34) rotate(-90)" x="0" y="0" text-anchor="middle" font-size="10.7">20</text>
<text transform="translate(27.80,815.66) rotate(-90)" x="0" y="0" text-anchor="middle" font-size="10.7">30</text>
<text transform="translate(27.80,772.98) rotate(-90)" x="0" y="0" text-anchor="middle" font-size="10.7">40</text>
<text transform="translate(27.80,730.30) rotate(-90)" x="0" y="0" text-anchor="middle" font-size="10.7">50</text>
<text transform="translate(27.80,687.62) rotate(-90)" x="0" y="0" text-anchor="middle" font-size="10.7">60</text>
<text x="194.90" y="988.90" text-anchor="middle" font-size="12.0">thalach</text>
<text transform="translate(9.50,816.25) rotate(-90)" text-anchor="middle" font-size="12.2">Density</text>
<line x1="262.60" y1="689.40" x2="278.90" y2="689.40" stroke="#000000" stroke-width="1.5" stroke-linecap="round"/>
<text x="286.50" y="692.60" font-size="9.0">MLE</text>
<line x1="262.60" y1="700.40" x2="278.90" y2="700.40" stroke="#E41A1C" stroke-width="1.5" stroke-linecap="round" stroke-dasharray="5.44 5.44"/>
<text x="286.50" y="703.60" font-size="9.0">Claude_Mod</text>
<line x1="262.60" y1="711.40" x2="278.90" y2="711.40" stroke="#4DAF4A" stroke-width="1.5" stroke-linecap="round" stroke-dasharray="1.36 4.08"/>
<text x="286.50" y="714.60" font-size="9.0">Gemini_Mod</text>
<line x1="262.60" y1="722.00" x2="278.90" y2="722.00" stroke="#377EB8" stroke-width="1.5" stroke-linecap="round" stroke-dasharray="1.36 4.08 5.44 4.08"/>
<text x="286.50" y="725.20" font-size="9.0">ChatGPT_Mod</text>
<path d="M462.07 678.50V954.00M522.40 678.50V954.00M582.73 678.50V954.00M643.05 678.50V954.00M703.38 678.50V954.00M414.40 943.70H727.40M414.40 905.04H727.40M414.40 866.37H727.40M414.40 827.71H727.40M414.40 789.04H727.40M414.40 750.38H727.40M414.40 711.71H727.40" stroke="#c8c8c8" stroke-width="0.8" stroke-dasharray="1.0 1.72" fill="none"/>
<polyline points="425.88,943.70 426.36,943.70 426.85,943.70 427.33,943.70 427.81,943.70 428.30,943.70 428.78,943.70 429.26,943.70 429.75,943.70 430.23,943.70 430.71,943.70 431.20,943.70 431.68,943.70 432.16,943.70 432.65,943.70 433.13,943.70 433.61,943.70 434.10,943.70 434.58,943.70 435.06,943.70 435.55,943.70 436.03,943.70 436.51,943.70 437.00,943.70 437.48,943.70 437.97,943.70 438.45,943.70 438.93,943.70 439.42,943.70 439.90,943.70 440.38,943.70 440.87,943.70 441.35,943.70 441.83,943.70 442.32,943.70 442.80,943.70 443.28,943.70 443.77,943.70 444.25,943.70 444.73,943.70 445.22,943.70 445.70,943.70 446.18,943.70 446.67,943.70 447.15,943.70 447.63,943.70 448.12,943.70 448.60,943.70 449.08,943.70 449.57,943.70 450.05,943.70 450.53,943.70 451.02,943.70 451.50,943.70 451.98,943.70 452.47,943.70 452.95,943.70 453.43,943.70 453.92,943.70 454.40,943.70 454.88,943.70 455.37,943.70 455.85,943.70 456.33,943.70 456.82,943.70 457.30,943.70 457.78,943.70 458.27,943.70 458.75,943.70 459.23,943.70 459.72,943.70 460.20,943.70 460.69,943.70 461.17,943.70 461.65,943.70 462.14,943.70 462.62,943.70 463.10,943.70 463.59,943.70 464.07,943.70 464.55,943.70 465.04,943.70 465.52,943.70 466.00,943.70 466.49,943.70 466.97,943.70 467.45,943.70 467.94,943.70 468.42,943.70 468.90,943.70 469.39,943.70 469.87,943.70 470.35,943.70 470.84,943.70 471.32,943.70 471.80,943.70 472.29,943.70 472.77,943.70 473.25,943.70 473.74,943.70 474.22,943.70 474.70,943.70 475.19,943.70 475.67,943.70 476.15,943.70 476.64,943.70 477.12,943.70 477.60,943.70 478.09,943.70 478.57,943.70 479.05,943.70 479.54,943.70 480.02,943.70 480.50,943.70 480.99,943.70 481.47,943.70 481.96,943.70 482.44,943.70 482.92,943.70 483.41,943.70 483.89,943.70 484.37,943.70 484.86,943.70 485.34,943.70 485.82,943.70 486.31,943.70 486.79,943.70 487.27,943.70 487.76,943.70 488.24,943.70 488.72,943.70 489.21,943.70 489.69,943.70 490.17,943.70 490.66,943.70 491.14,943.70 491.62,943.70 492.11,943.70 492.59,943.70 493.07,943.70 493.56,943.70 494.04,943.70 494.52,943.70 495.01,943.70 495.49,943.70 495.97,943.70 496.46,943.70 496.94,943.70 497.42,943.70 497.91,943.70 498.39,943.70 498.87,943.70 499.36,943.70 499.84,943.70 500.32,943.70 500.81,943.70 501.29,943.70 501.77,943.70 502.26,943.70 502.74,943.70 503.22,943.70 503.71,943.70 504.19,943.70 504.68,943.70 505.16,943.70 505.64,943.70 506.13,943.70 506.61,943.70 507.09,943.70 507.58,943.70 508.06,943.70 508.54,943.70 509.03,943.70 509.51,943.70 509.99,943.70 510.48,943.70 510.96,943.70 511.44,943.70 511.93,943.70 512.41,943.70 512.89,943.70 513.38,943.70 513.86,943.70 514.34,943.70 514.83,943.70 515.31,943.70 515.79,943.70 516.28,943.70 516.76,943.70 517.24,943.70 517.73,943.69 518.21,943.69 518.69,943.69 519.18,943.69 519.66,943.69 520.14,943.69 520.63,943.69 521.11,943.69 521.59,943.69 522.08,943.68 522.56,943.68 523.04,943.68 523.53,943.68 524.01,943.67 524.49,943.67 524.98,943.67 525.46,943.66 525.94,943.66 526.43,943.65 526.91,943.65 527.40,943.64 527.88,943.64 528.36,943.63 528.85,943.62 529.33,943.61 529.81,943.60 530.30,943.59 530.78,943.58 531.26,943.56 531.75,943.55 532.23,943.53 532.71,943.51 533.20,943.49 533.68,943.47 534.16,943.45 534.65,943.42 535.13,943.39 535.61,943.36 536.10,943.33 536.58,943.29 537.06,943.25 537.55,943.20 538.03,943.15 538.51,943.09 539.00,943.03 539.48,942.97 539.96,942.90 540.45,942.82 540.93,942.74 541.41,942.65 541.90,942.55 542.38,942.44 542.86,942.33 543.35,942.20 543.83,942.07 544.31,941.92 544.80,941.77 545.28,941.60 545.76,941.41 546.25,941.22 546.73,941.01 547.21,940.78 547.70,940.53 548.18,940.27 548.67,939.99 549.15,939.69 549.63,939.37 550.12,939.03 550.60,938.66 551.08,938.27 551.57,937.85 552.05,937.40 552.53,936.93 553.02,936.42 553.50,935.89 553.98,935.32 554.47,934.71 554.95,934.07 555.43,933.39 555.92,932.67 556.40,931.91 556.88,931.11 557.37,930.27 557.85,929.37 558.33,928.43 558.82,927.44 559.30,926.40 559.78,925.31 560.27,924.16 560.75,922.96 561.23,921.70 561.72,920.38 562.20,919.00 562.68,917.56 563.17,916.06 563.65,914.49 564.13,912.85 564.62,911.15 565.10,909.38 565.58,907.54 566.07,905.64 566.55,903.66 567.03,901.61 567.52,899.49 568.00,897.30 568.48,895.03 568.97,892.70 569.45,890.29 569.93,887.82 570.42,885.27 570.90,882.65 571.39,879.96 571.87,877.21 572.35,874.39 572.84,871.50 573.32,868.55 573.80,865.54 574.29,862.47 574.77,859.34 575.25,856.16 575.74,852.93 576.22,849.65 576.70,846.33 577.19,842.96 577.67,839.56 578.15,836.12 578.64,832.66 579.12,829.17 579.60,825.66 580.09,822.14 580.57,818.60 581.05,815.06 581.54,811.52 582.02,807.98 582.50,804.46 582.99,800.95 583.47,797.47 583.95,794.01 584.44,790.59 584.92,787.21 585.40,783.88 585.89,780.59 586.37,777.37 586.85,774.21 587.34,771.13 587.82,768.12 588.30,765.19 588.79,762.35 589.27,759.61 589.75,756.96 590.24,754.43 590.72,752.00 591.20,749.69 591.69,747.50 592.17,745.43 592.65,743.50 593.14,741.70 593.62,740.04 594.11,738.52 594.59,737.14 595.07,735.92 595.56,734.84 596.04,733.92 596.52,733.15 597.01,732.55 597.49,732.10 597.97,731.81 598.46,731.68 598.94,731.71 599.42,731.90 599.91,732.25 600.39,732.77 600.87,733.44 601.36,734.26 601.84,735.25 602.32,736.38 602.81,737.66 603.29,739.10 603.77,740.67 604.26,742.39 604.74,744.24 605.22,746.23 605.71,748.34 606.19,750.58 606.67,752.94 607.16,755.41 607.64,757.99 608.12,760.67 608.61,763.46 609.09,766.33 609.57,769.29 610.06,772.33 610.54,775.45 611.02,778.63 611.51,781.88 611.99,785.18 612.47,788.53 612.96,791.93 613.44,795.37 613.92,798.84 614.41,802.33 614.89,805.84 615.38,809.37 615.86,812.91 616.34,816.45 616.83,819.99 617.31,823.52 617.79,827.04 618.28,830.54 618.76,834.02 619.24,837.48 619.73,840.90 620.21,844.29 620.69,847.64 621.18,850.95 621.66,854.21 622.14,857.42 622.63,860.58 623.11,863.68 623.59,866.73 624.08,869.72 624.56,872.64 625.04,875.50 625.53,878.30 626.01,881.03 626.49,883.69 626.98,886.28 627.46,888.80 627.94,891.25 628.43,893.63 628.91,895.93 629.39,898.17 629.88,900.33 630.36,902.42 630.84,904.44 631.33,906.39 631.81,908.27 632.29,910.09 632.78,911.83 633.26,913.50 633.74,915.11 634.23,916.66 634.71,918.14 635.19,919.55 635.68,920.91 636.16,922.20 636.64,923.44 637.13,924.62 637.61,925.75 638.10,926.82 638.58,927.84 639.06,928.81 639.55,929.73 640.03,930.60 640.51,931.43 641.00,932.22 641.48,932.96 641.96,933.66 642.45,934.33 642.93,934.95 643.41,935.54 643.90,936.10 644.38,936.62 644.86,937.12 645.35,937.58 645.83,938.01 646.31,938.42 646.80,938.81 647.28,939.16 647.76,939.50 648.25,939.81 648.73,940.10 649.21,940.38 649.70,940.63 650.18,940.87 650.66,941.09 651.15,941.30 651.63,941.49 652.11,941.66 652.60,941.83 653.08,941.98 653.56,942.12 654.05,942.25 654.53,942.37 655.01,942.49 655.50,942.59 655.98,942.68 656.46,942.77 656.95,942.85 657.43,942.93 657.91,943.00 658.40,943.06 658.88,943.12 659.36,943.17 659.85,943.22 660.33,943.26 660.82,943.30 661.30,943.34 661.78,943.37 662.27,943.40 662.75,943.43 663.23,943.46 663.72,943.48 664.20,943.50 664.68,943.52 665.17,943.54 665.65,943.56 666.13,943.57 666.62,943.58 667.10,943.60 667.58,943.61 668.07,943.62 668.55,943.62 669.03,943.63 669.52,943.64 670.00,943.65 670.48,943.65 670.97,943.66 671.45,943.66 671.93,943.67 672.42,943.67 672.90,943.67 673.38,943.68 673.87,943.68 674.35,943.68 674.83,943.68 675.32,943.68 675.80,943.69 676.28,943.69 676.77,943.69 677.25,943.69 677.73,943.69 678.22,943.69 678.70,943.69 679.18,943.69 679.67,943.70 680.15,943.70 680.63,943.70 681.12,943.70 681.60,943.70 682.09,943.70 682.57,943.70 683.05,943.70 683.54,943.70 684.02,943.70 684.50,943.70 684.99,943.70 685.47,943.70 685.95,943.70 686.44,943.70 686.92,943.70 687.40,943.70 687.89,943.70 688.37,943.70 688.85,943.70 689.34,943.70 689.82,943.70 690.30,943.70 690.79,943.70 691.27,943.70 691.75,943.70 692.24,943.70 692.72,943.70 693.20,943.70 693.69,943.70 694.17,943.70 694.65,943.70 695.14,943.70 695.62,943.70 696.10,943.70 696.59,943.70 697.07,943.70 697.55,943.70 698.04,943.70 698.52,943.70 699.00,943.70 699.49,943.70 699.97,943.70 700.45,943.70 700.94,943.70 701.42,943.70 701.90,943.70 702.39,943.70 702.87,943.70 703.35,943.70 703.84,943.70 704.32,943.70 704.81,943.70 705.29,943.70 705.77,943.70 706.26,943.70 706.74,943.70 707.22,943.70 707.71,943.70 708.19,943.70 708.67,943.70 709.16,943.70 709.64,943.70 710.12,943.70 710.61,943.70 711.09,943.70 711.57,943.70 712.06,943.70 712.54,943.70 713.02,943.70 713.51,943.70 713.99,943.70 714.47,943.70 714.96,943.70 715.44,943.70" fill="none" stroke="#000000" stroke-width="1.5" stroke-linecap="round" stroke-linejoin="round"/>
<polyline points="425.88,943.70 426.36,943.70 426.85,943.70 427.33,943.70 427.81,943.70 428.30,943.70 428.78,943.70 429.26,943.70 429.75,943.70 430.23,943.70 430.71,943.70 431.20,943.70 431.68,943.70 432.16,943.70 432.65,943.70 433.13,943.70 433.61,943.70 434.10,943.70 434.58,943.70 435.06,943.70 435.55,943.70 436.03,943.70 436.51,943.70 437.00,943.70 437.48,943.70 437.97,943.70 438.45,943.70 438.93,943.70 439.42,943.70 439.90,943.70 440.38,943.70 440.87,943.70 441.35,943.70 441.83,943.70 442.32,943.70 442.80,943.70 443.28,943.70 443.77,943.70 444.25,943.70 444.73,943.70 445.22,943.70 445.70,943.70 446.18,943.70 446.67,943.70 447.15,943.70 447.63,943.70 448.12,943.70 448.60,943.70 449.08,943.70 449.57,943.70 450.05,943.70 450.53,943.70 451.02,943.70 451.50,943.70 451.98,943.70 452.47,943.70 452.95,943.70 453.43,943.70 453.92,943.70 454.40,943.70 454.88,943.70 455.37,943.70 455.85,943.70 456.33,943.70 456.82,943.70 457.30,943.70 457.78,943.70 458.27,943.70 458.75,943.70 459.23,943.70 459.72,943.70 460.20,943.70 460.69,943.70 461.17,943.70 461.65,943.70 462.14,943.70 462.62,943.70 463.10,943.70 463.59,943.70 464.07,943.70 464.55,943.70 465.04,943.70 465.52,943.70 466.00,943.70 466.49,943.70 466.97,943.70 467.45,943.70 467.94,943.70 468.42,943.70 468.90,943.70 469.39,943.70 469.87,943.70 470.35,943.70 470.84,943.70 471.32,943.70 471.80,943.70 472.29,943.70 472.77,943.70 473.25,943.69 473.74,943.69 474.22,943.69 474.70,943.69 475.19,943.69 475.67,943.69 476.15,943.69 476.64,943.69 477.12,943.69 477.60,943.69 478.09,943.69 478.57,943.69 479.05,943.68 479.54,943.68 480.02,943.68 480.50,943.68 480.99,943.68 481.47,943.68 481.96,943.67 482.44,943.67 482.92,943.67 483.41,943.67 483.89,943.66 484.37,943.66 484.86,943.66 485.34,943.66 485.82,943.65 486.31,943.65 486.79,943.64 487.27,943.64 487.76,943.63 488.24,943.63 488.72,943.62 489.21,943.62 489.69,943.61 490.17,943.60 490.66,943.59 491.14,943.59 491.62,943.58 492.11,943.57 492.59,943.56 493.07,943.54 493.56,943.53 494.04,943.52 494.52,943.51 495.01,943.49 495.49,943.48 495.97,943.46 496.46,943.44 496.94,943.42 497.42,943.40 497.91,943.38 498.39,943.36 498.87,943.33 499.36,943.31 499.84,943.28 500.32,943.25 500.81,943.22 501.29,943.18 501.77,943.14 502.26,943.11 502.74,943.07 503.22,943.02 503.71,942.98 504.19,942.93 504.68,942.88 505.16,942.82 505.64,942.76 506.13,942.70 506.61,942.63 507.09,942.57 507.58,942.49 508.06,942.41 508.54,942.33 509.03,942.25 509.51,942.15 509.99,942.06 510.48,941.96 510.96,941.85 511.44,941.74 511.93,941.62 512.41,941.49 512.89,941.36 513.38,941.22 513.86,941.07 514.34,940.92 514.83,940.76 515.31,940.59 515.79,940.41 516.28,940.22 516.76,940.02 517.24,939.82 517.73,939.60 518.21,939.37 518.69,939.14 519.18,938.89 519.66,938.63 520.14,938.36 520.63,938.07 521.11,937.78 521.59,937.47 522.08,937.15 522.56,936.81 523.04,936.46 523.53,936.09 524.01,935.71 524.49,935.31 524.98,934.90 525.46,934.47 525.94,934.02 526.43,933.55 526.91,933.07 527.40,932.57 527.88,932.05 528.36,931.51 528.85,930.95 529.33,930.37 529.81,929.77 530.30,929.14 530.78,928.50 531.26,927.83 531.75,927.14 532.23,926.43 532.71,925.69 533.20,924.93 533.68,924.15 534.16,923.34 534.65,922.51 535.13,921.65 535.61,920.77 536.10,919.86 536.58,918.92 537.06,917.96 537.55,916.97 538.03,915.95 538.51,914.91 539.00,913.84 539.48,912.74 539.96,911.62 540.45,910.46 540.93,909.28 541.41,908.07 541.90,906.84 542.38,905.58 542.86,904.28 543.35,902.97 543.83,901.62 544.31,900.25 544.80,898.85 545.28,897.42 545.76,895.97 546.25,894.50 546.73,892.99 547.21,891.47 547.70,889.91 548.18,888.34 548.67,886.74 549.15,885.12 549.63,883.47 550.12,881.81 550.60,880.12 551.08,878.42 551.57,876.69 552.05,874.95 552.53,873.19 553.02,871.41 553.50,869.62 553.98,867.82 554.47,866.00 554.95,864.17 555.43,862.34 555.92,860.49 556.40,858.63 556.88,856.77 557.37,854.90 557.85,853.03 558.33,851.16 558.82,849.28 559.30,847.41 559.78,845.54 560.27,843.67 560.75,841.81 561.23,839.95 561.72,838.11 562.20,836.27 562.68,834.45 563.17,832.64 563.65,830.84 564.13,829.06 564.62,827.30 565.10,825.56 565.58,823.85 566.07,822.15 566.55,820.48 567.03,818.84 567.52,817.23 568.00,815.65 568.48,814.10 568.97,812.59 569.45,811.11 569.93,809.66 570.42,808.26 570.90,806.90 571.39,805.58 571.87,804.30 572.35,803.06 572.84,801.88 573.32,800.73 573.80,799.64 574.29,798.60 574.77,797.61 575.25,796.67 575.74,795.79 576.22,794.95 576.70,794.18 577.19,793.46 577.67,792.80 578.15,792.19 578.64,791.65 579.12,791.16 579.60,790.73 580.09,790.37 580.57,790.06 581.05,789.82 581.54,789.64 582.02,789.51 582.50,789.46 582.99,789.46 583.47,789.52 583.95,789.65 584.44,789.84 584.92,790.09 585.40,790.40 585.89,790.77 586.37,791.20 586.85,791.69 587.34,792.24 587.82,792.85 588.30,793.52 588.79,794.24 589.27,795.02 589.75,795.86 590.24,796.75 590.72,797.69 591.20,798.69 591.69,799.73 592.17,800.83 592.65,801.97 593.14,803.16 593.62,804.40 594.11,805.68 594.59,807.01 595.07,808.38 595.56,809.78 596.04,811.23 596.52,812.71 597.01,814.23 597.49,815.78 597.97,817.36 598.46,818.98 598.94,820.62 599.42,822.29 599.91,823.99 600.39,825.71 600.87,827.45 601.36,829.21 601.84,830.99 602.32,832.79 602.81,834.60 603.29,836.42 603.77,838.26 604.26,840.11 604.74,841.96 605.22,843.83 605.71,845.69 606.19,847.57 606.67,849.44 607.16,851.31 607.64,853.19 608.12,855.06 608.61,856.92 609.09,858.79 609.57,860.64 610.06,862.49 610.54,864.33 611.02,866.15 611.51,867.97 611.99,869.77 612.47,871.56 612.96,873.34 613.44,875.09 613.92,876.84 614.41,878.56 614.89,880.26 615.38,881.95 615.86,883.61 616.34,885.25 616.83,886.87 617.31,888.47 617.79,890.04 618.28,891.59 618.76,893.12 619.24,894.62 619.73,896.09 620.21,897.54 620.69,898.97 621.18,900.36 621.66,901.73 622.14,903.08 622.63,904.39 623.11,905.68 623.59,906.94 624.08,908.18 624.56,909.38 625.04,910.56 625.53,911.71 626.01,912.83 626.49,913.93 626.98,915.00 627.46,916.04 627.94,917.05 628.43,918.04 628.91,919.00 629.39,919.93 629.88,920.84 630.36,921.72 630.84,922.58 631.33,923.41 631.81,924.22 632.29,925.00 632.78,925.76 633.26,926.49 633.74,927.20 634.23,927.89 634.71,928.55 635.19,929.20 635.68,929.82 636.16,930.42 636.64,931.00 637.13,931.55 637.61,932.09 638.10,932.61 638.58,933.11 639.06,933.59 639.55,934.06 640.03,934.50 640.51,934.93 641.00,935.35 641.48,935.74 641.96,936.12 642.45,936.49 642.93,936.84 643.41,937.17 643.90,937.50 644.38,937.80 644.86,938.10 645.35,938.38 645.83,938.65 646.31,938.91 646.80,939.16 647.28,939.39 647.76,939.62 648.25,939.83 648.73,940.04 649.21,940.24 649.70,940.42 650.18,940.60 650.66,940.77 651.15,940.93 651.63,941.08 652.11,941.23 652.60,941.37 653.08,941.50 653.56,941.63 654.05,941.75 654.53,941.86 655.01,941.96 655.50,942.07 655.98,942.16 656.46,942.25 656.95,942.34 657.43,942.42 657.91,942.50 658.40,942.57 658.88,942.64 659.36,942.71 659.85,942.77 660.33,942.82 660.82,942.88 661.30,942.93 661.78,942.98 662.27,943.03 662.75,943.07 663.23,943.11 663.72,943.15 664.20,943.18 664.68,943.22 665.17,943.25 665.65,943.28 666.13,943.31 666.62,943.33 667.10,943.36 667.58,943.38 668.07,943.40 668.55,943.42 669.03,943.44 669.52,943.46 670.00,943.48 670.48,943.49 670.97,943.51 671.45,943.52 671.93,943.53 672.42,943.55 672.90,943.56 673.38,943.57 673.87,943.58 674.35,943.59 674.83,943.59 675.32,943.60 675.80,943.61 676.28,943.62 676.77,943.62 677.25,943.63 677.73,943.63 678.22,943.64 678.70,943.64 679.18,943.65 679.67,943.65 680.15,943.66 680.63,943.66 681.12,943.66 681.60,943.67 682.09,943.67 682.57,943.67 683.05,943.67 683.54,943.67 684.02,943.68 684.50,943.68 684.99,943.68 685.47,943.68 685.95,943.68 686.44,943.68 686.92,943.69 687.40,943.69 687.89,943.69 688.37,943.69 688.85,943.69 689.34,943.69 689.82,943.69 690.30,943.69 690.79,943.69 691.27,943.69 691.75,943.69 692.24,943.69 692.72,943.70 693.20,943.70 693.69,943.70 694.17,943.70 694.65,943.70 695.14,943.70 695.62,943.70 696.10,943.70 696.59,943.70 697.07,943.70 697.55,943.70 698.04,943.70 698.52,943.70 699.00,943.70 699.49,943.70 699.97,943.70 700.45,943.70 700.94,943.70 701.42,943.70 701.90,943.70 702.39,943.70 702.87,943.70 703.35,943.70 703.84,943.70 704.32,943.70 704.81,943.70 705.29,943.70 705.77,943.70 706.26,943.70 706.74,943.70 707.22,943.70 707.71,943.70 708.19,943.70 708.67,943.70 709.16,943.70 709.64,943.70 710.12,943.70 710.61,943.70 711.09,943.70 711.57,943.70 712.06,943.70 712.54,943.70 713.02,943.70 713.51,943.70 713.99,943.70 714.47,943.70 714.96,943.70 715.44,943.70" fill="none" stroke="#E41A1C" stroke-width="1.5" stroke-linecap="round" stroke-linejoin="round" stroke-dasharray="5.44 5.44"/>
<polyline points="425.88,943.70 426.36,943.70 426.85,943.70 427.33,943.70 427.81,943.70 428.30,943.70 428.78,943.70 429.26,943.70 429.75,943.70 430.23,943.70 430.71,943.70 431.20,943.70 431.68,943.70 432.16,943.70 432.65,943.70 433.13,943.70 433.61,943.70 434.10,943.70 434.58,943.70 435.06,943.70 435.55,943.70 436.03,943.70 436.51,943.70 437.00,943.70 437.48,943.70 437.97,943.70 438.45,943.70 438.93,943.70 439.42,943.70 439.90,943.70 440.38,943.70 440.87,943.70 441.35,943.70 441.83,943.70 442.32,943.70 442.80,943.70 443.28,943.70 443.77,943.70 444.25,943.70 444.73,943.70 445.22,943.70 445.70,943.70 446.18,943.70 446.67,943.70 447.15,943.70 447.63,943.70 448.12,943.70 448.60,943.70 449.08,943.70 449.57,943.70 450.05,943.70 450.53,943.70 451.02,943.70 451.50,943.70 451.98,943.70 452.47,943.70 452.95,943.70 453.43,943.70 453.92,943.70 454.40,943.70 454.88,943.70 455.37,943.70 455.85,943.70 456.33,943.70 456.82,943.70 457.30,943.70 457.78,943.70 458.27,943.70 458.75,943.70 459.23,943.70 459.72,943.70 460.20,943.70 460.69,943.70 461.17,943.70 461.65,943.70 462.14,943.70 462.62,943.70 463.10,943.70 463.59,943.70 464.07,943.70 464.55,943.70 465.04,943.70 465.52,943.70 466.00,943.70 466.49,943.70 466.97,943.70 467.45,943.70 467.94,943.70 468.42,943.70 468.90,943.70 469.39,943.70 469.87,943.70 470.35,943.70 470.84,943.70 471.32,943.70 471.80,943.70 472.29,943.70 472.77,943.70 473.25,943.70 473.74,943.70 474.22,943.70 474.70,943.70 475.19,943.70 475.67,943.70 476.15,943.70 476.64,943.70 477.12,943.70 477.60,943.70 478.09,943.70 478.57,943.70 479.05,943.70 479.54,943.70 480.02,943.70 480.50,943.70 480.99,943.70 481.47,943.70 481.96,943.70 482.44,943.70 482.92,943.70 483.41,943.70 483.89,943.70 484.37,943.70 484.86,943.70 485.34,943.70 485.82,943.70 486.31,943.70 486.79,943.70 487.27,943.70 487.76,943.70 488.24,943.70 488.72,943.70 489.21,943.70 489.69,943.70 490.17,943.70 490.66,943.70 491.14,943.70 491.62,943.70 492.11,943.70 492.59,943.70 493.07,943.70 493.56,943.70 494.04,943.70 494.52,943.70 495.01,943.70 495.49,943.70 495.97,943.70 496.46,943.70 496.94,943.70 497.42,943.70 497.91,943.70 498.39,943.70 498.87,943.70 499.36,943.70 499.84,943.70 500.32,943.70 500.81,943.70 501.29,943.70 501.77,943.70 502.26,943.70 502.74,943.69 503.22,943.69 503.71,943.69 504.19,943.69 504.68,943.69 505.16,943.69 505.64,943.69 506.13,943.69 506.61,943.69 507.09,943.69 507.58,943.68 508.06,943.68 508.54,943.68 509.03,943.68 509.51,943.68 509.99,943.67 510.48,943.67 510.96,943.67 511.44,943.66 511.93,943.66 512.41,943.66 512.89,943.65 513.38,943.65 513.86,943.64 514.34,943.64 514.83,943.63 515.31,943.62 515.79,943.61 516.28,943.61 516.76,943.60 517.24,943.59 517.73,943.57 518.21,943.56 518.69,943.55 519.18,943.53 519.66,943.52 520.14,943.50 520.63,943.48 521.11,943.46 521.59,943.44 522.08,943.42 522.56,943.39 523.04,943.36 523.53,943.33 524.01,943.30 524.49,943.26 524.98,943.22 525.46,943.18 525.94,943.14 526.43,943.09 526.91,943.04 527.40,942.98 527.88,942.92 528.36,942.85 528.85,942.78 529.33,942.71 529.81,942.62 530.30,942.54 530.78,942.44 531.26,942.34 531.75,942.23 532.23,942.12 532.71,942.00 533.20,941.86 533.68,941.72 534.16,941.57 534.65,941.41 535.13,941.24 535.61,941.06 536.10,940.86 536.58,940.66 537.06,940.43 537.55,940.20 538.03,939.95 538.51,939.69 539.00,939.41 539.48,939.11 539.96,938.80 540.45,938.46 540.93,938.11 541.41,937.74 541.90,937.35 542.38,936.93 542.86,936.49 543.35,936.03 543.83,935.54 544.31,935.03 544.80,934.49 545.28,933.93 545.76,933.33 546.25,932.71 546.73,932.05 547.21,931.36 547.70,930.64 548.18,929.89 548.67,929.10 549.15,928.28 549.63,927.41 550.12,926.52 550.60,925.58 551.08,924.60 551.57,923.58 552.05,922.52 552.53,921.42 553.02,920.27 553.50,919.08 553.98,917.85 554.47,916.56 554.95,915.24 555.43,913.86 555.92,912.44 556.40,910.97 556.88,909.45 557.37,907.88 557.85,906.26 558.33,904.59 558.82,902.87 559.30,901.10 559.78,899.28 560.27,897.42 560.75,895.50 561.23,893.53 561.72,891.51 562.20,889.45 562.68,887.33 563.17,885.17 563.65,882.96 564.13,880.71 564.62,878.41 565.10,876.07 565.58,873.68 566.07,871.26 566.55,868.79 567.03,866.29 567.52,863.75 568.00,861.18 568.48,858.58 568.97,855.95 569.45,853.28 569.93,850.60 570.42,847.89 570.90,845.16 571.39,842.42 571.87,839.66 572.35,836.88 572.84,834.10 573.32,831.32 573.80,828.53 574.29,825.75 574.77,822.96 575.25,820.19 575.74,817.43 576.22,814.68 576.70,811.96 577.19,809.25 577.67,806.57 578.15,803.92 578.64,801.31 579.12,798.73 579.60,796.20 580.09,793.71 580.57,791.27 581.05,788.88 581.54,786.55 582.02,784.28 582.50,782.07 582.99,779.93 583.47,777.86 583.95,775.86 584.44,773.94 584.92,772.10 585.40,770.35 585.89,768.68 586.37,767.10 586.85,765.61 587.34,764.22 587.82,762.93 588.30,761.73 588.79,760.64 589.27,759.65 589.75,758.76 590.24,757.98 590.72,757.31 591.20,756.75 591.69,756.29 592.17,755.95 592.65,755.72 593.14,755.61 593.62,755.60 594.11,755.71 594.59,755.93 595.07,756.26 595.56,756.70 596.04,757.25 596.52,757.91 597.01,758.68 597.49,759.56 597.97,760.54 598.46,761.62 598.94,762.81 599.42,764.10 599.91,765.48 600.39,766.96 600.87,768.53 601.36,770.19 601.84,771.94 602.32,773.77 602.81,775.68 603.29,777.67 603.77,779.73 604.26,781.87 604.74,784.07 605.22,786.33 605.71,788.66 606.19,791.04 606.67,793.48 607.16,795.97 607.64,798.50 608.12,801.07 608.61,803.68 609.09,806.33 609.57,809.00 610.06,811.70 610.54,814.43 611.02,817.17 611.51,819.93 611.99,822.71 612.47,825.49 612.96,828.27 613.44,831.06 613.92,833.85 614.41,836.63 614.89,839.40 615.38,842.16 615.86,844.91 616.34,847.64 616.83,850.35 617.31,853.04 617.79,855.70 618.28,858.34 618.76,860.94 619.24,863.52 619.73,866.06 620.21,868.56 620.69,871.03 621.18,873.46 621.66,875.85 622.14,878.19 622.63,880.50 623.11,882.75 623.59,884.97 624.08,887.13 624.56,889.25 625.04,891.32 625.53,893.34 626.01,895.32 626.49,897.24 626.98,899.11 627.46,900.94 627.94,902.71 628.43,904.43 628.91,906.11 629.39,907.73 629.88,909.30 630.36,910.83 630.84,912.30 631.33,913.73 631.81,915.11 632.29,916.44 632.78,917.73 633.26,918.97 633.74,920.16 634.23,921.31 634.71,922.42 635.19,923.48 635.68,924.51 636.16,925.49 636.64,926.43 637.13,927.33 637.61,928.20 638.10,929.03 638.58,929.82 639.06,930.57 639.55,931.30 640.03,931.99 640.51,932.65 641.00,933.27 641.48,933.87 641.96,934.44 642.45,934.98 642.93,935.50 643.41,935.99 643.90,936.45 644.38,936.89 644.86,937.31 645.35,937.70 645.83,938.08 646.31,938.43 646.80,938.77 647.28,939.08 647.76,939.38 648.25,939.66 648.73,939.93 649.21,940.18 649.70,940.41 650.18,940.64 650.66,940.84 651.15,941.04 651.63,941.22 652.11,941.40 652.60,941.56 653.08,941.71 653.56,941.85 654.05,941.98 654.53,942.11 655.01,942.22 655.50,942.33 655.98,942.43 656.46,942.53 656.95,942.62 657.43,942.70 657.91,942.78 658.40,942.85 658.88,942.91 659.36,942.97 659.85,943.03 660.33,943.08 660.82,943.13 661.30,943.18 661.78,943.22 662.27,943.26 662.75,943.30 663.23,943.33 663.72,943.36 664.20,943.39 664.68,943.41 665.17,943.44 665.65,943.46 666.13,943.48 666.62,943.50 667.10,943.52 667.58,943.53 668.07,943.55 668.55,943.56 669.03,943.57 669.52,943.58 670.00,943.60 670.48,943.60 670.97,943.61 671.45,943.62 671.93,943.63 672.42,943.64 672.90,943.64 673.38,943.65 673.87,943.65 674.35,943.66 674.83,943.66 675.32,943.66 675.80,943.67 676.28,943.67 676.77,943.67 677.25,943.68 677.73,943.68 678.22,943.68 678.70,943.68 679.18,943.68 679.67,943.69 680.15,943.69 680.63,943.69 681.12,943.69 681.60,943.69 682.09,943.69 682.57,943.69 683.05,943.69 683.54,943.69 684.02,943.69 684.50,943.70 684.99,943.70 685.47,943.70 685.95,943.70 686.44,943.70 686.92,943.70 687.40,943.70 687.89,943.70 688.37,943.70 688.85,943.70 689.34,943.70 689.82,943.70 690.30,943.70 690.79,943.70 691.27,943.70 691.75,943.70 692.24,943.70 692.72,943.70 693.20,943.70 693.69,943.70 694.17,943.70 694.65,943.70 695.14,943.70 695.62,943.70 696.10,943.70 696.59,943.70 697.07,943.70 697.55,943.70 698.04,943.70 698.52,943.70 699.00,943.70 699.49,943.70 699.97,943.70 700.45,943.70 700.94,943.70 701.42,943.70 701.90,943.70 702.39,943.70 702.87,943.70 703.35,943.70 703.84,943.70 704.32,943.70 704.81,943.70 705.29,943.70 705.77,943.70 706.26,943.70 706.74,943.70 707.22,943.70 707.71,943.70 708.19,943.70 708.67,943.70 709.16,943.70 709.64,943.70 710.12,943.70 710.61,943.70 711.09,943.70 711.57,943.70 712.06,943.70 712.54,943.70 713.02,943.70 713.51,943.70 713.99,943.70 714.47,943.70 714.96,943.70 715.44,943.70" fill="none" stroke="#4DAF4A" stroke-width="1.5" stroke-linecap="round" stroke-linejoin="round" stroke-dasharray="1.36 4.08"/>
<polyline points="425.88,943.67 426.36,943.66 426.85,943.66 427.33,943.66 427.81,943.66 428.30,943.66 428.78,943.65 429.26,943.65 429.75,943.65 430.23,943.64 430.71,943.64 431.20,943.64 431.68,943.64 432.16,943.63 432.65,943.63 433.13,943.62 433.61,943.62 434.10,943.62 434.58,943.61 435.06,943.61 435.55,943.60 436.03,943.60 436.51,943.59 437.00,943.59 437.48,943.58 437.97,943.58 438.45,943.57 438.93,943.56 439.42,943.56 439.90,943.55 440.38,943.54 440.87,943.53 441.35,943.53 441.83,943.52 442.32,943.51 442.80,943.50 443.28,943.49 443.77,943.48 444.25,943.47 444.73,943.46 445.22,943.45 445.70,943.43 446.18,943.42 446.67,943.41 447.15,943.40 447.63,943.38 448.12,943.37 448.60,943.35 449.08,943.34 449.57,943.32 450.05,943.30 450.53,943.28 451.02,943.26 451.50,943.24 451.98,943.22 452.47,943.20 452.95,943.18 453.43,943.16 453.92,943.13 454.40,943.11 454.88,943.08 455.37,943.06 455.85,943.03 456.33,943.00 456.82,942.97 457.30,942.94 457.78,942.91 458.27,942.87 458.75,942.84 459.23,942.80 459.72,942.76 460.20,942.72 460.69,942.68 461.17,942.64 461.65,942.60 462.14,942.55 462.62,942.51 463.10,942.46 463.59,942.41 464.07,942.35 464.55,942.30 465.04,942.24 465.52,942.19 466.00,942.13 466.49,942.07 466.97,942.00 467.45,941.94 467.94,941.87 468.42,941.80 468.90,941.72 469.39,941.65 469.87,941.57 470.35,941.49 470.84,941.41 471.32,941.32 471.80,941.23 472.29,941.14 472.77,941.05 473.25,940.95 473.74,940.85 474.22,940.75 474.70,940.64 475.19,940.53 475.67,940.41 476.15,940.30 476.64,940.18 477.12,940.05 477.60,939.93 478.09,939.79 478.57,939.66 479.05,939.52 479.54,939.38 480.02,939.23 480.50,939.08 480.99,938.92 481.47,938.76 481.96,938.60 482.44,938.43 482.92,938.25 483.41,938.07 483.89,937.89 484.37,937.70 484.86,937.51 485.34,937.31 485.82,937.11 486.31,936.90 486.79,936.68 487.27,936.46 487.76,936.24 488.24,936.01 488.72,935.77 489.21,935.53 489.69,935.28 490.17,935.02 490.66,934.76 491.14,934.50 491.62,934.22 492.11,933.94 492.59,933.66 493.07,933.36 493.56,933.06 494.04,932.76 494.52,932.45 495.01,932.13 495.49,931.80 495.97,931.47 496.46,931.13 496.94,930.78 497.42,930.42 497.91,930.06 498.39,929.69 498.87,929.31 499.36,928.93 499.84,928.54 500.32,928.13 500.81,927.73 501.29,927.31 501.77,926.89 502.26,926.46 502.74,926.02 503.22,925.57 503.71,925.12 504.19,924.65 504.68,924.18 505.16,923.70 505.64,923.21 506.13,922.72 506.61,922.22 507.09,921.70 507.58,921.18 508.06,920.66 508.54,920.12 509.03,919.57 509.51,919.02 509.99,918.46 510.48,917.89 510.96,917.31 511.44,916.73 511.93,916.14 512.41,915.53 512.89,914.92 513.38,914.31 513.86,913.68 514.34,913.05 514.83,912.41 515.31,911.76 515.79,911.10 516.28,910.44 516.76,909.77 517.24,909.09 517.73,908.40 518.21,907.71 518.69,907.01 519.18,906.30 519.66,905.59 520.14,904.87 520.63,904.14 521.11,903.41 521.59,902.67 522.08,901.92 522.56,901.17 523.04,900.41 523.53,899.65 524.01,898.88 524.49,898.11 524.98,897.33 525.46,896.55 525.94,895.76 526.43,894.96 526.91,894.17 527.40,893.36 527.88,892.56 528.36,891.75 528.85,890.94 529.33,890.12 529.81,889.30 530.30,888.48 530.78,887.66 531.26,886.83 531.75,886.01 532.23,885.18 532.71,884.35 533.20,883.51 533.68,882.68 534.16,881.85 534.65,881.02 535.13,880.18 535.61,879.35 536.10,878.52 536.58,877.69 537.06,876.86 537.55,876.03 538.03,875.20 538.51,874.38 539.00,873.56 539.48,872.74 539.96,871.93 540.45,871.12 540.93,870.31 541.41,869.51 541.90,868.71 542.38,867.92 542.86,867.13 543.35,866.34 543.83,865.57 544.31,864.80 544.80,864.03 545.28,863.28 545.76,862.53 546.25,861.79 546.73,861.05 547.21,860.33 547.70,859.61 548.18,858.90 548.67,858.20 549.15,857.51 549.63,856.84 550.12,856.17 550.60,855.51 551.08,854.86 551.57,854.22 552.05,853.60 552.53,852.99 553.02,852.39 553.50,851.80 553.98,851.22 554.47,850.66 554.95,850.11 555.43,849.58 555.92,849.05 556.40,848.55 556.88,848.05 557.37,847.57 557.85,847.11 558.33,846.66 558.82,846.23 559.30,845.81 559.78,845.41 560.27,845.02 560.75,844.65 561.23,844.29 561.72,843.96 562.20,843.64 562.68,843.33 563.17,843.05 563.65,842.78 564.13,842.52 564.62,842.29 565.10,842.07 565.58,841.87 566.07,841.69 566.55,841.53 567.03,841.38 567.52,841.25 568.00,841.14 568.48,841.05 568.97,840.98 569.45,840.92 569.93,840.89 570.42,840.87 570.90,840.87 571.39,840.89 571.87,840.92 572.35,840.98 572.84,841.05 573.32,841.14 573.80,841.25 574.29,841.38 574.77,841.53 575.25,841.69 575.74,841.87 576.22,842.07 576.70,842.29 577.19,842.52 577.67,842.78 578.15,843.05 578.64,843.33 579.12,843.64 579.60,843.96 580.09,844.29 580.57,844.65 581.05,845.02 581.54,845.41 582.02,845.81 582.50,846.23 582.99,846.66 583.47,847.11 583.95,847.57 584.44,848.05 584.92,848.55 585.40,849.05 585.89,849.58 586.37,850.11 586.85,850.66 587.34,851.22 587.82,851.80 588.30,852.39 588.79,852.99 589.27,853.60 589.75,854.22 590.24,854.86 590.72,855.51 591.20,856.17 591.69,856.84 592.17,857.51 592.65,858.20 593.14,858.90 593.62,859.61 594.11,860.33 594.59,861.05 595.07,861.79 595.56,862.53 596.04,863.28 596.52,864.03 597.01,864.80 597.49,865.57 597.97,866.34 598.46,867.13 598.94,867.92 599.42,868.71 599.91,869.51 600.39,870.31 600.87,871.12 601.36,871.93 601.84,872.74 602.32,873.56 602.81,874.38 603.29,875.20 603.77,876.03 604.26,876.86 604.74,877.69 605.22,878.52 605.71,879.35 606.19,880.18 606.67,881.02 607.16,881.85 607.64,882.68 608.12,883.51 608.61,884.35 609.09,885.18 609.57,886.01 610.06,886.83 610.54,887.66 611.02,888.48 611.51,889.30 611.99,890.12 612.47,890.94 612.96,891.75 613.44,892.56 613.92,893.36 614.41,894.17 614.89,894.96 615.38,895.76 615.86,896.55 616.34,897.33 616.83,898.11 617.31,898.88 617.79,899.65 618.28,900.41 618.76,901.17 619.24,901.92 619.73,902.67 620.21,903.41 620.69,904.14 621.18,904.87 621.66,905.59 622.14,906.30 622.63,907.01 623.11,907.71 623.59,908.40 624.08,909.09 624.56,909.77 625.04,910.44 625.53,911.10 626.01,911.76 626.49,912.41 626.98,913.05 627.46,913.68 627.94,914.31 628.43,914.92 628.91,915.53 629.39,916.14 629.88,916.73 630.36,917.31 630.84,917.89 631.33,918.46 631.81,919.02 632.29,919.57 632.78,920.12 633.26,920.66 633.74,921.18 634.23,921.70 634.71,922.22 635.19,922.72 635.68,923.21 636.16,923.70 636.64,924.18 637.13,924.65 637.61,925.12 638.10,925.57 638.58,926.02 639.06,926.46 639.55,926.89 640.03,927.31 640.51,927.73 641.00,928.13 641.48,928.54 641.96,928.93 642.45,929.31 642.93,929.69 643.41,930.06 643.90,930.42 644.38,930.78 644.86,931.13 645.35,931.47 645.83,931.80 646.31,932.13 646.80,932.45 647.28,932.76 647.76,933.06 648.25,933.36 648.73,933.66 649.21,933.94 649.70,934.22 650.18,934.50 650.66,934.76 651.15,935.02 651.63,935.28 652.11,935.53 652.60,935.77 653.08,936.01 653.56,936.24 654.05,936.46 654.53,936.68 655.01,936.90 655.50,937.11 655.98,937.31 656.46,937.51 656.95,937.70 657.43,937.89 657.91,938.07 658.40,938.25 658.88,938.43 659.36,938.60 659.85,938.76 660.33,938.92 660.82,939.08 661.30,939.23 661.78,939.38 662.27,939.52 662.75,939.66 663.23,939.79 663.72,939.93 664.20,940.05 664.68,940.18 665.17,940.30 665.65,940.41 666.13,940.53 666.62,940.64 667.10,940.75 667.58,940.85 668.07,940.95 668.55,941.05 669.03,941.14 669.52,941.23 670.00,941.32 670.48,941.41 670.97,941.49 671.45,941.57 671.93,941.65 672.42,941.72 672.90,941.80 673.38,941.87 673.87,941.94 674.35,942.00 674.83,942.07 675.32,942.13 675.80,942.19 676.28,942.24 676.77,942.30 677.25,942.35 677.73,942.41 678.22,942.46 678.70,942.51 679.18,942.55 679.67,942.60 680.15,942.64 680.63,942.68 681.12,942.72 681.60,942.76 682.09,942.80 682.57,942.84 683.05,942.87 683.54,942.91 684.02,942.94 684.50,942.97 684.99,943.00 685.47,943.03 685.95,943.06 686.44,943.08 686.92,943.11 687.40,943.13 687.89,943.16 688.37,943.18 688.85,943.20 689.34,943.22 689.82,943.24 690.30,943.26 690.79,943.28 691.27,943.30 691.75,943.32 692.24,943.34 692.72,943.35 693.20,943.37 693.69,943.38 694.17,943.40 694.65,943.41 695.14,943.42 695.62,943.43 696.10,943.45 696.59,943.46 697.07,943.47 697.55,943.48 698.04,943.49 698.52,943.50 699.00,943.51 699.49,943.52 699.97,943.53 700.45,943.53 700.94,943.54 701.42,943.55 701.90,943.56 702.39,943.56 702.87,943.57 703.35,943.58 703.84,943.58 704.32,943.59 704.81,943.59 705.29,943.60 705.77,943.60 706.26,943.61 706.74,943.61 707.22,943.62 707.71,943.62 708.19,943.62 708.67,943.63 709.16,943.63 709.64,943.64 710.12,943.64 710.61,943.64 711.09,943.64 711.57,943.65 712.06,943.65 712.54,943.65 713.02,943.66 713.51,943.66 713.99,943.66 714.47,943.66 714.96,943.66 715.44,943.67" fill="none" stroke="#377EB8" stroke-width="1.5" stroke-linecap="round" stroke-linejoin="round" stroke-dasharray="1.36 4.08 5.44 4.08"/>
<rect x="414.4" y="678.5" width="313.00" height="275.50" fill="none" stroke="#383838" stroke-width="1"/>
<path d="M462.07 954.00v4.6M522.40 954.00v4.6M582.73 954.00v4.6M643.05 954.00v4.6M703.38 954.00v4.6M414.40 943.70h-4.9M414.40 905.04h-4.9M414.40 866.37h-4.9M414.40 827.71h-4.9M414.40 789.04h-4.9M414.40 750.38h-4.9M414.40 711.71h-4.9" stroke="#383838" stroke-width="1" fill="none"/>
<text x="462.07" y="970.60" text-anchor="middle" font-size="10.7">-0.5</text>
<text x="522.40" y="970.60" text-anchor="middle" font-size="10.7">0.0</text>
<text x="582.73" y="970.60" text-anchor="middle" font-size="10.7">0.5</text>
<text x="643.05" y="970.60" text-anchor="middle" font-size="10.7">1.0</text>
<text x="703.38" y="970.60" text-anchor="middle" font-size="10.7">1.5</text>
<text transform="translate(403.70,943.70) rotate(-90)" x="0" y="0" text-anchor="middle" font-size="10.7">0.0</text>
<text transform="translate(403.70,905.04) rotate(-90)" x="0" y="0" text-anchor="middle" font-size="10.7">0.5</text>
<text transform="translate(403.70,866.37) rotate(-90)" x="0" y="0" text-anchor="middle" font-size="10.7">1.0</text>
<text transform="translate(403.70,827.71) rotate(-90)" x="0" y="0" text-anchor="middle" font-size="10.7">1.5</text>
<text transform="translate(403.70,789.04) rotate(-90)" x="0" y="0" text-anchor="middle" font-size="10.7">2.0</text>
<text transform="translate(403.70,750.38) rotate(-90)" x="0" y="0" text-anchor="middle" font-size="10.7">2.5</text>
<text transform="translate(403.70,711.71) rotate(-90)" x="0" y="0" text-anchor="middle" font-size="10.7">3.0</text>
<text x="570.90" y="988.90" text-anchor="middle" font-size="12.0">oldpeak</text>
<text transform="translate(385.40,816.25) rotate(-90)" text-anchor="middle" font-size="12.2">Density</text>
<line x1="638.70" y1="689.40" x2="655.00" y2="689.40" stroke="#000000" stroke-width="1.5" stroke-linecap="round"/>
<text x="662.60" y="692.60" font-size="9.0">MLE</text>
<line x1="638.70" y1="700.40" x2="655.00" y2="700.40" stroke="#E41A1C" stroke-width="1.5" stroke-linecap="round" stroke-dasharray="5.44 5.44"/>
<text x="662.60" y="703.60" font-size="9.0">Claude_Mod</text>
<line x1="638.70" y1="711.40" x2="655.00" y2="711.40" stroke="#4DAF4A" stroke-width="1.5" stroke-linecap="round" stroke-dasharray="1.36 4.08"/>
<text x="662.60" y="714.60" font-size="9.0">Gemini_Mod</text>
<line x1="638.70" y1="722.00" x2="655.00" y2="722.00" stroke="#377EB8" stroke-width="1.5" stroke-linecap="round" stroke-dasharray="1.36 4.08 5.44 4.08"/>
<text x="662.60" y="725.20" font-size="9.0">ChatGPT_Mod</text>
</svg>
</body></html>
